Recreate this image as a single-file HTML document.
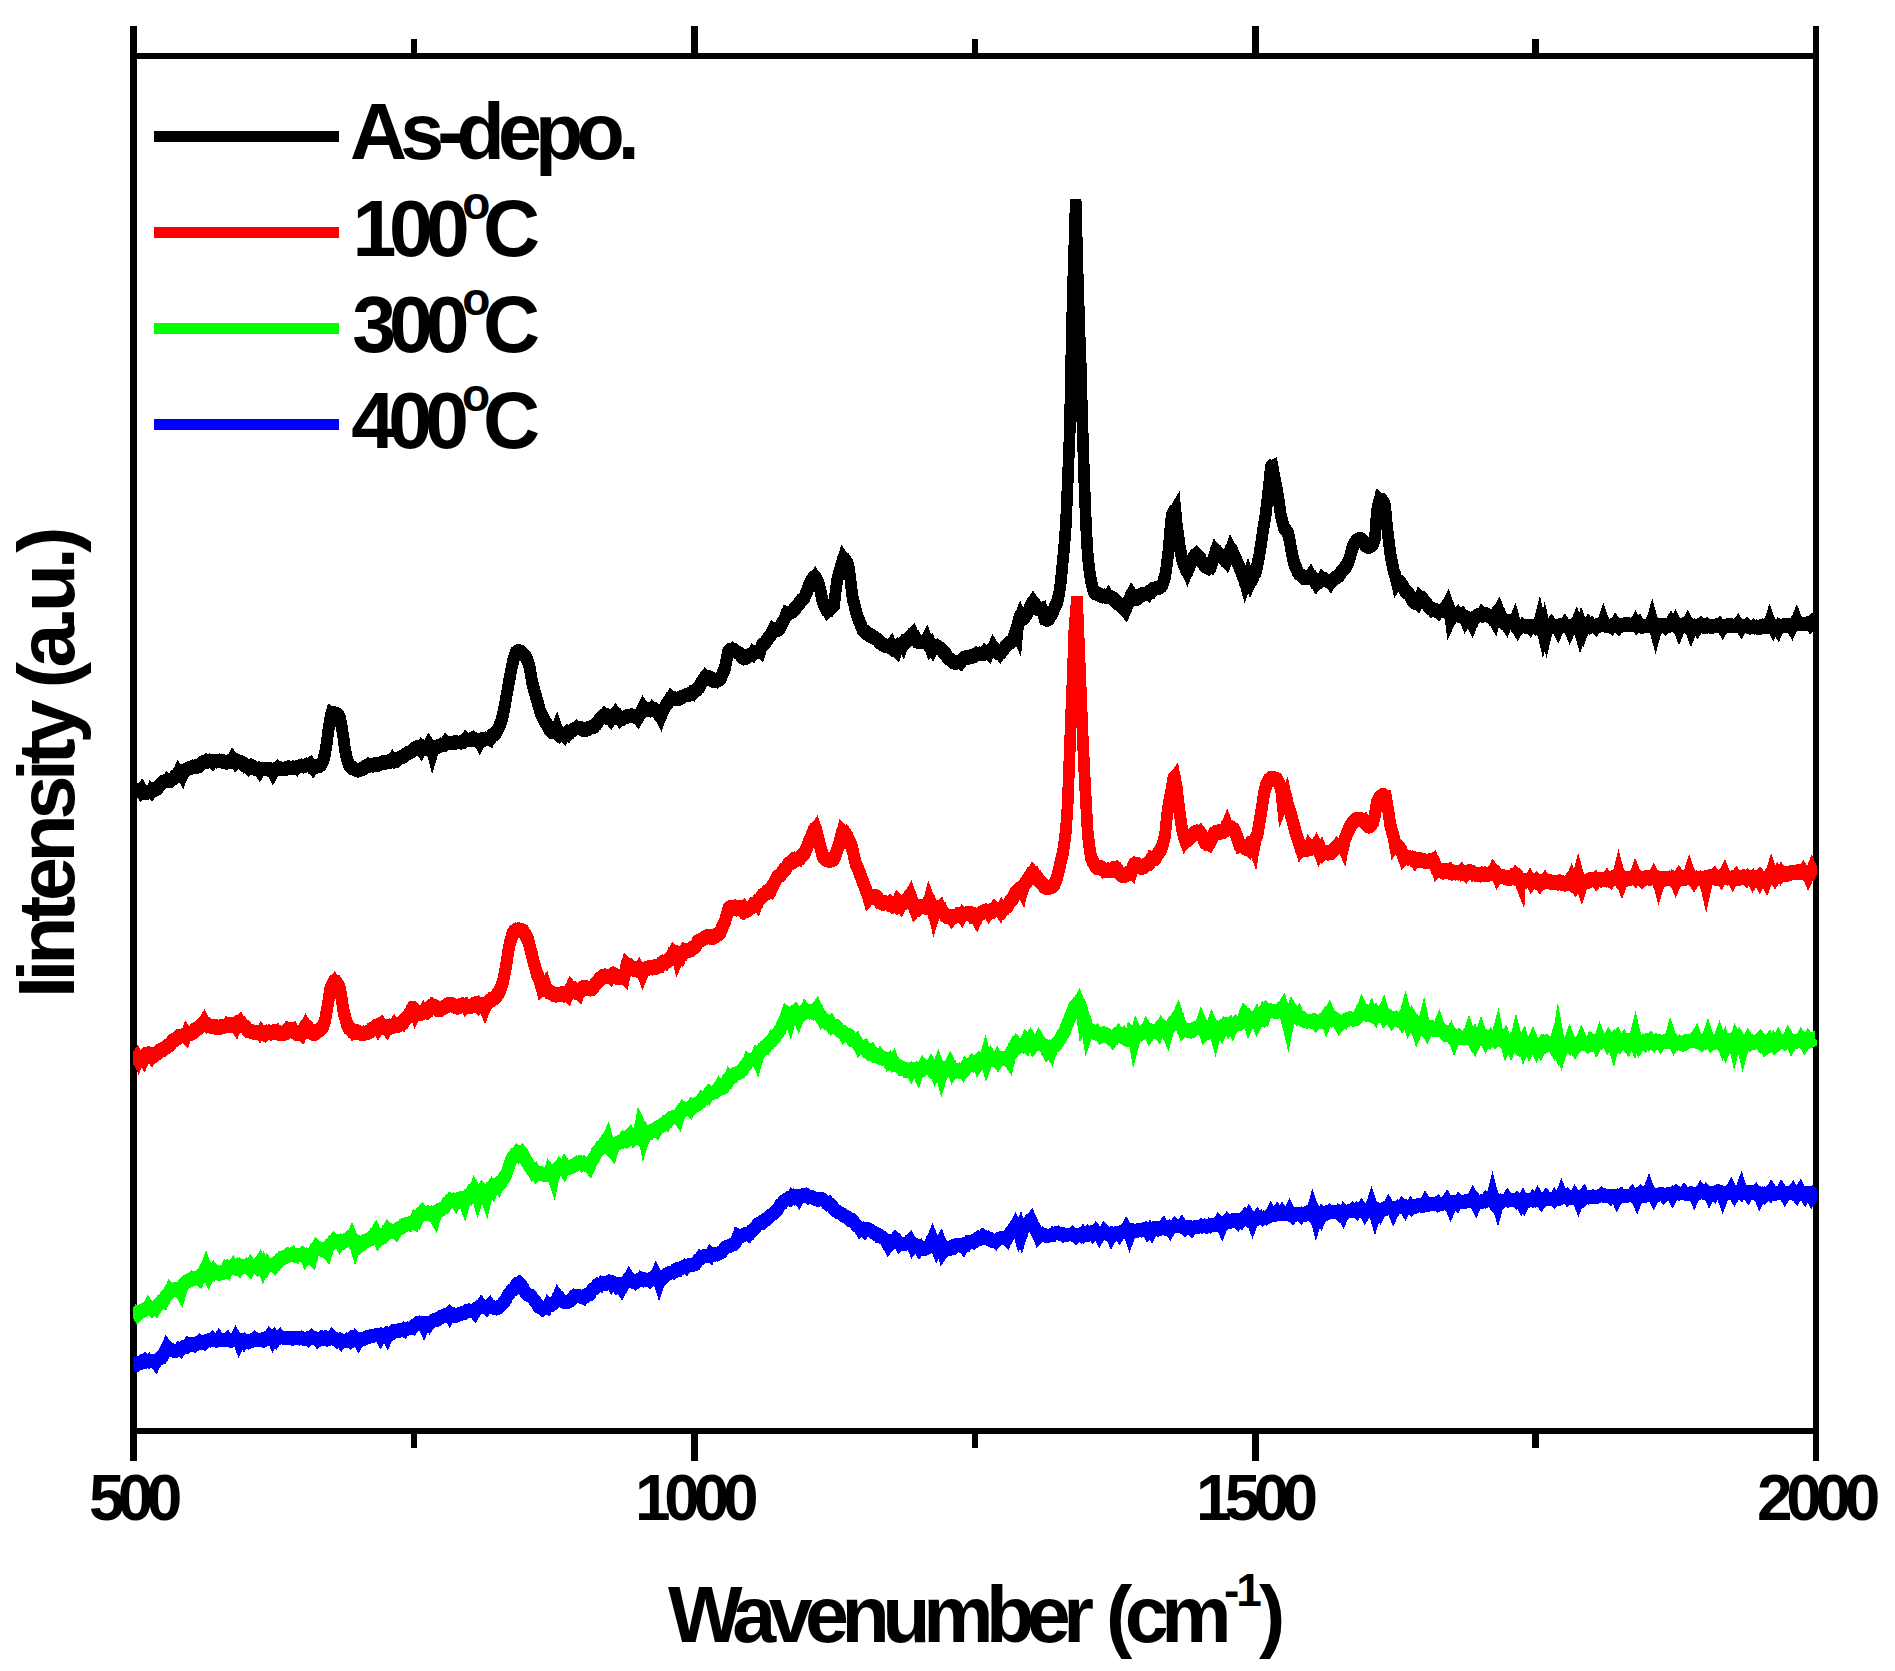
<!DOCTYPE html>
<html><head><meta charset="utf-8"><title>Raman spectra</title>
<style>html,body{margin:0;padding:0;background:#fff;}svg{display:block;}</style></head>
<body><svg width="1895" height="1671" viewBox="0 0 1895 1671">
<rect width="1895" height="1671" fill="#fff"/>
<g shape-rendering="crispEdges" fill="#000">
<rect x="130" y="26" width="7" height="1435"/>
<rect x="1813" y="26" width="6" height="1435"/>
<rect x="130" y="53" width="1689" height="6"/>
<rect x="130" y="1428" width="1689" height="6"/>
<rect x="691.1" y="26" width="6.5" height="30"/>
<rect x="691.1" y="1431" width="6.5" height="30"/>
<rect x="1252.0" y="26" width="6.5" height="30"/>
<rect x="1252.0" y="1431" width="6.5" height="30"/>
<rect x="410.7" y="39" width="6.5" height="17"/>
<rect x="410.7" y="1431" width="6.5" height="17"/>
<rect x="971.6" y="39" width="6.5" height="17"/>
<rect x="971.6" y="1431" width="6.5" height="17"/>
<rect x="1532.4" y="39" width="6.5" height="17"/>
<rect x="1532.4" y="1431" width="6.5" height="17"/>
</g>
<clipPath id="plotclip"><rect x="133" y="0" width="1684" height="1671"/></clipPath>
<g fill="none" stroke-width="11.5" stroke-linecap="butt" shape-rendering="crispEdges" clip-path="url(#plotclip)">
<g stroke="#000000">
<path stroke-linejoin="bevel" transform="translate(0,-1.5)" d="M133.5,790.2 135.2,790.2 136.9,790.3 138.5,790.0 140.2,792.2 141.9,789.4 143.6,792.5 145.3,793.6 146.9,792.6 148.6,791.7 150.3,792.9 152.0,789.0 153.7,790.2 155.3,789.6 157.0,789.2 158.7,785.7 160.4,784.8 162.1,782.5 163.7,781.6 165.4,781.7 167.1,779.6 168.8,781.4 170.5,780.7 172.1,779.2 173.8,778.3 175.5,775.7 177.2,775.1 178.9,771.1 180.5,773.1 182.2,775.9 183.9,771.3 185.6,770.2 187.3,769.1 188.9,768.3 190.6,767.7 192.3,767.7 194.0,765.9 195.7,766.5 197.3,767.2 199.0,765.6 200.7,764.0 202.4,762.6 204.1,762.1 205.7,762.6 207.4,760.1 209.1,760.9 210.8,761.1 212.5,762.8 214.1,760.6 215.8,761.3 217.5,761.2 219.2,760.9 220.9,760.4 222.5,761.4 224.2,761.8 225.9,762.4 227.6,762.3 229.3,762.1 230.9,760.9 232.6,758.0 234.3,760.5 236.0,763.3 237.7,761.5 239.3,761.4 241.0,762.5 242.7,762.8 244.4,765.0 246.1,766.4 247.7,768.1 249.4,765.3 251.1,765.6 252.8,767.0 254.5,768.1 256.1,769.2 257.8,768.8 259.5,771.4 261.2,768.4 262.9,769.1 264.5,768.3 266.2,769.1 267.9,768.7 269.6,769.3 271.3,770.1 272.9,773.3 274.6,770.1 276.3,769.6 278.0,767.3 279.7,768.8 281.3,768.3 283.0,769.1 284.7,769.2 286.4,768.2 288.1,767.6 289.7,767.4 291.4,768.4 293.1,767.8 294.8,767.2 296.5,768.5 298.1,766.3 299.8,766.8 301.5,765.4 303.2,766.7 304.9,765.5 306.5,765.4 308.2,764.7 309.9,763.4 311.6,766.5 313.3,768.9 314.9,766.9 316.6,766.6 318.3,765.7 320.8,765.5 323.3,760.5 325.0,753.6 326.7,743.7 328.4,730.2 330.1,719.8 331.8,712.3 333.4,713.2 335.1,713.8 336.8,713.9 338.5,715.4 340.1,718.4 341.8,727.7 343.5,737.9 345.2,750.8 346.9,758.6 349.5,766.3 351.9,767.2 353.6,769.2 355.3,769.2 358.0,771.1 360.3,769.3 362.0,769.1 363.7,768.4 365.3,766.3 367.0,766.7 368.7,764.7 370.4,766.3 372.1,765.2 373.7,764.7 375.4,764.4 377.1,764.8 378.8,764.2 380.5,763.5 382.1,762.6 383.8,762.1 385.5,762.5 387.2,762.0 388.9,762.2 390.5,761.1 392.2,758.9 393.9,761.4 395.6,761.8 397.3,759.5 398.9,758.3 400.6,757.5 402.3,756.7 404.0,756.0 405.7,754.1 407.3,753.8 409.0,752.5 410.7,752.2 412.4,750.4 414.1,749.7 415.7,747.9 417.1,746.9 419.1,747.5 420.8,750.0 422.5,746.4 424.1,747.9 425.8,748.9 427.5,748.2 429.2,744.3 430.9,746.9 432.5,753.0 434.2,747.3 435.9,746.6 437.6,747.5 439.3,746.0 440.9,744.6 442.6,745.7 444.3,745.0 446.0,742.0 447.7,743.9 449.3,742.8 451.0,743.6 452.7,743.0 454.4,742.7 456.1,742.1 457.7,743.0 459.4,742.0 461.1,743.2 462.8,742.0 464.5,741.2 466.1,738.6 467.8,740.4 469.5,739.9 471.2,739.4 472.9,737.9 474.5,739.6 476.2,741.0 477.9,740.1 479.6,743.1 481.3,739.9 482.9,739.0 484.6,739.8 486.3,738.0 488.0,738.9 489.7,740.0 491.3,736.5 493.0,734.2 494.7,734.7 496.4,731.8 498.1,729.0 499.7,725.5 501.4,720.8 503.1,714.3 504.8,705.3 506.5,696.0 508.1,686.9 509.8,677.5 511.5,668.4 513.2,660.4 514.9,655.2 516.0,652.0 518.2,651.5 520.2,651.1 521.6,652.3 523.3,654.0 524.9,656.0 526.6,658.4 528.3,662.7 530.0,668.9 531.7,679.9 533.3,686.8 535.0,692.9 536.7,699.0 538.4,704.8 540.1,711.5 541.7,715.1 543.4,718.5 545.1,722.0 546.8,724.2 548.5,727.6 550.6,731.3 551.8,731.9 553.5,731.7 555.2,733.2 556.9,728.5 558.5,733.4 560.2,735.6 561.9,734.0 564.1,736.4 565.3,734.1 566.9,732.2 568.6,734.1 570.3,731.8 572.0,730.8 573.7,729.2 575.3,729.2 577.0,727.0 578.7,728.3 580.4,728.1 582.1,729.0 583.7,730.5 585.4,729.9 587.1,729.2 588.8,728.6 590.5,727.0 592.1,727.7 593.8,726.8 595.5,724.7 597.2,723.3 598.9,720.4 600.5,718.5 602.2,717.1 604.6,714.0 607.3,716.7 608.9,718.2 610.6,720.2 612.3,717.2 614.0,715.0 615.6,712.8 617.3,715.1 619.0,717.3 620.7,720.3 622.4,718.7 624.1,716.8 625.7,717.1 627.4,716.4 629.1,716.1 630.8,715.9 632.5,715.3 634.1,716.1 635.8,716.9 637.6,719.0 639.2,715.6 640.9,713.1 643.5,706.8 645.9,710.3 647.6,709.1 649.3,710.2 650.9,710.3 652.6,707.8 654.5,709.4 656.0,710.7 657.7,712.1 660.4,717.4 662.7,710.4 664.4,708.2 666.1,704.9 667.7,703.3 669.4,700.1 671.3,696.6 672.8,698.0 674.5,699.0 676.1,698.8 678.1,699.3 679.5,698.3 681.2,697.6 682.9,696.1 684.5,696.3 686.2,694.4 687.9,695.1 689.6,694.8 691.3,692.6 692.9,693.7 694.6,691.0 696.3,690.4 698.0,688.2 699.7,686.9 701.3,682.9 703.0,680.6 704.7,677.8 706.0,675.6 708.1,677.1 709.7,676.9 711.4,679.2 713.6,681.5 714.8,680.9 716.5,681.7 718.1,679.7 720.3,679.0 721.5,676.2 723.2,672.3 724.9,668.3 726.5,660.2 727.9,652.0 729.9,650.3 732.1,648.6 733.3,649.7 734.9,650.5 736.6,652.7 738.3,652.6 740.0,654.3 741.7,656.5 744.0,658.7 746.7,657.2 748.4,655.9 750.1,655.1 751.7,655.7 753.4,652.1 755.1,653.4 756.8,652.0 758.5,650.1 760.1,651.6 761.8,644.9 763.5,644.3 765.2,642.4 766.9,640.5 768.5,637.6 770.2,636.0 771.9,632.9 773.6,628.7 775.3,629.9 776.9,630.0 779.6,628.6 782.0,623.5 783.7,620.7 785.3,617.2 787.0,612.4 788.7,613.3 790.4,612.3 792.1,612.3 793.7,609.9 795.4,608.1 797.1,606.2 798.8,603.7 800.5,602.0 802.1,599.0 803.8,598.7 805.5,594.9 807.2,590.9 808.9,585.7 810.5,582.6 812.2,579.4 814.7,576.3 817.3,581.0 818.9,584.8 820.6,591.4 822.3,600.0 824.0,604.5 825.7,607.9 827.7,611.7 829.0,610.4 830.7,607.0 832.4,606.3 834.1,605.4 835.7,590.9 837.4,578.6 839.1,573.4 840.8,567.3 843.5,557.7 845.8,561.0 847.5,563.5 849.2,569.6 850.9,584.0 852.5,597.4 854.2,604.0 855.9,611.3 857.6,617.1 859.3,620.9 860.9,625.2 862.6,629.8 864.3,630.7 866.0,632.6 867.7,634.4 869.3,634.8 871.0,635.1 872.7,637.3 874.4,637.8 876.1,638.8 877.7,639.7 879.4,642.4 881.1,643.1 882.8,644.5 884.5,645.5 886.1,645.7 887.8,647.1 889.5,646.3 891.2,644.0 893.5,648.9 896.2,651.7 897.9,645.5 899.6,644.7 901.3,643.1 902.9,645.9 904.6,641.5 906.3,642.1 908.0,638.9 909.7,638.3 911.3,635.6 913.0,633.5 914.7,637.2 917.2,642.1 919.7,641.9 921.4,642.8 923.1,641.5 924.8,642.3 926.5,638.9 928.1,643.4 929.8,647.7 931.5,644.9 933.2,648.7 934.9,645.1 936.5,645.8 938.2,647.8 939.9,648.6 941.6,649.2 943.3,651.9 944.9,653.2 946.6,655.3 948.3,659.1 950.0,659.3 951.7,660.9 954.3,663.2 956.7,662.0 958.4,662.0 960.1,663.2 961.7,660.3 963.4,658.1 965.1,657.4 966.8,657.7 968.5,657.7 970.1,656.3 971.8,656.4 973.5,656.4 975.2,655.3 976.9,653.0 978.5,653.8 980.2,654.6 981.9,653.5 983.6,654.1 985.3,651.2 986.9,652.4 988.6,654.0 990.3,650.0 992.0,649.5 993.2,646.7 995.3,650.4 997.0,651.8 998.7,653.0 999.9,654.4 1002.1,651.2 1003.7,649.3 1005.4,646.6 1007.1,645.1 1008.8,642.9 1010.5,642.1 1012.1,641.2 1013.8,637.4 1015.5,631.1 1017.2,634.8 1018.5,620.2 1020.5,615.1 1022.2,618.8 1023.9,618.3 1025.6,615.6 1027.3,613.4 1028.9,610.4 1030.6,606.2 1033.2,601.5 1035.7,605.5 1037.8,609.1 1039.0,608.7 1041.7,607.7 1045.0,619.6 1048.3,619.6 1050.8,615.6 1052.5,613.3 1054.1,608.5 1055.8,605.0 1057.5,601.3 1059.2,592.9 1060.9,581.0 1062.5,564.2 1064.2,547.0 1065.9,524.6 1067.6,484.7 1069.8,430.0 1069.8,430.0 1070.9,372.2 1072.6,299.4 1074.3,245.4 1075.7,200.4 1077.7,272.7 1079.3,325.4 1081.0,370.8 1082.5,430.0 1082.6,430.0 1084.4,485.2 1086.1,526.7 1087.7,554.4 1089.4,570.2 1091.1,581.5 1093.7,591.9 1096.1,593.6 1097.8,593.2 1099.5,595.0 1101.2,595.9 1102.9,595.2 1104.5,597.1 1106.2,596.6 1107.9,594.7 1109.6,597.4 1112.2,597.2 1114.6,600.3 1116.3,601.3 1118.0,604.2 1119.7,604.6 1121.3,606.6 1123.0,607.6 1125.3,610.8 1128.1,603.1 1129.7,598.5 1131.9,593.7 1133.1,595.5 1134.5,599.8 1136.5,598.9 1138.1,598.2 1139.8,595.8 1141.5,594.4 1143.2,594.3 1144.9,594.5 1146.5,592.9 1148.2,594.4 1149.9,591.5 1151.6,592.1 1153.3,588.6 1154.9,589.0 1156.6,588.0 1158.3,587.8 1160.0,587.0 1162.2,585.4 1163.3,581.8 1165.0,576.4 1166.7,565.8 1168.4,551.9 1170.1,531.1 1171.7,515.3 1173.4,512.7 1175.4,509.3 1176.8,525.3 1178.5,537.2 1180.1,549.2 1181.8,557.8 1183.5,563.7 1185.2,567.5 1187.2,572.0 1188.5,568.7 1190.2,564.6 1191.9,561.0 1193.6,557.6 1195.3,555.1 1196.4,553.8 1198.6,556.8 1200.3,558.2 1202.0,562.1 1203.7,564.3 1205.1,566.8 1207.0,566.9 1208.7,568.3 1210.1,568.5 1212.1,563.0 1213.7,558.2 1216.0,550.4 1218.8,553.9 1220.5,556.0 1222.1,555.7 1223.8,558.6 1226.2,561.7 1228.9,554.0 1230.9,548.5 1232.2,551.1 1233.9,555.0 1235.6,558.2 1237.3,562.5 1238.9,565.8 1240.6,569.9 1242.3,574.6 1244.0,578.7 1245.3,583.6 1248.1,575.2 1250.7,582.6 1252.4,578.9 1254.1,574.7 1255.7,572.3 1257.4,564.5 1259.1,556.6 1260.8,545.7 1262.5,533.9 1264.1,523.7 1265.8,513.4 1267.5,498.6 1269.2,483.4 1271.0,466.3 1272.4,465.6 1274.2,476.2 1275.9,485.1 1277.6,493.7 1279.3,504.5 1280.9,515.9 1282.6,522.4 1284.3,528.6 1286.0,530.3 1287.7,532.5 1289.3,538.4 1291.0,548.2 1292.7,557.2 1294.4,563.9 1296.1,567.9 1297.7,571.6 1299.4,574.7 1301.1,574.8 1302.8,577.0 1304.7,578.6 1306.1,577.8 1307.8,577.0 1309.5,575.9 1310.6,574.3 1312.9,578.4 1314.5,580.8 1316.5,584.4 1317.9,582.6 1319.6,579.9 1321.3,579.6 1322.4,577.5 1324.6,579.6 1326.3,580.5 1328.0,581.0 1330.0,583.3 1331.3,580.9 1333.0,579.8 1334.7,578.2 1336.4,577.1 1338.1,576.5 1339.7,574.9 1341.4,571.3 1343.1,570.3 1344.8,567.6 1346.5,566.0 1348.1,562.5 1349.8,557.7 1351.5,551.1 1353.2,545.9 1354.9,543.0 1357.0,539.8 1358.2,539.7 1359.9,539.3 1362.1,539.8 1363.3,541.2 1364.9,544.3 1366.3,546.5 1368.3,546.5 1370.6,546.5 1371.7,545.1 1373.3,543.5 1375.0,537.5 1376.7,513.2 1378.4,504.8 1379.8,498.5 1381.7,500.0 1383.4,502.3 1385.1,506.3 1386.8,524.3 1388.5,539.0 1390.1,551.6 1391.8,561.7 1393.5,570.3 1395.2,575.1 1396.9,583.0 1398.5,580.4 1400.2,581.8 1401.9,584.8 1403.6,587.4 1405.3,591.1 1406.9,592.8 1408.6,593.4 1410.3,596.6 1412.0,599.6 1413.7,602.1 1415.3,602.5 1417.0,603.9 1418.7,599.2 1420.0,596.2 1422.1,598.3 1423.7,600.5 1425.4,603.0 1427.1,604.2 1428.8,607.7 1430.5,608.1 1432.1,610.4 1433.8,609.2 1435.5,610.6 1437.2,610.3 1438.9,612.5 1440.5,610.6 1443.2,610.7 1445.6,608.0 1447.7,603.7 1448.9,607.4 1450.6,619.9 1453.3,614.1 1455.7,614.8 1457.3,613.2 1459.0,616.0 1460.7,616.2 1462.4,614.3 1464.1,616.8 1465.7,620.9 1467.4,618.1 1469.1,618.4 1471.9,624.1 1474.1,618.1 1475.8,617.0 1477.5,615.5 1479.2,614.7 1480.9,615.7 1482.5,612.8 1484.2,614.5 1485.4,614.1 1487.6,615.1 1489.3,616.5 1490.9,617.2 1492.1,617.4 1494.3,621.3 1496.0,614.4 1498.5,610.0 1501.0,617.0 1502.7,619.8 1504.0,622.5 1506.1,625.5 1507.7,621.2 1509.0,620.8 1511.1,622.2 1512.8,624.2 1514.5,620.2 1516.1,626.1 1517.8,629.4 1519.5,626.4 1521.2,627.0 1522.9,624.9 1524.5,626.3 1526.2,626.5 1527.9,626.4 1529.6,625.8 1531.3,628.4 1532.9,626.7 1534.6,628.0 1536.3,625.8 1538.0,626.1 1539.7,619.5 1541.3,626.1 1543.0,633.4 1544.7,626.3 1546.4,633.3 1548.1,626.0 1549.7,626.0 1551.4,623.6 1553.1,626.1 1554.8,626.8 1556.5,625.9 1558.1,629.5 1559.8,625.5 1561.5,625.7 1563.2,626.0 1564.9,623.5 1566.5,625.8 1568.2,625.6 1569.9,630.0 1571.6,626.0 1573.3,625.8 1574.9,625.8 1576.6,621.7 1578.3,626.1 1580.0,632.2 1581.7,625.9 1583.3,630.6 1585.0,626.0 1586.7,626.3 1588.4,623.6 1590.1,626.0 1591.7,624.3 1593.4,626.4 1595.1,628.0 1596.8,624.9 1598.5,624.7 1600.1,625.4 1601.8,625.9 1603.5,620.6 1605.2,625.4 1606.9,625.5 1608.5,626.5 1610.2,626.1 1611.9,627.6 1613.6,625.6 1615.3,622.9 1616.9,625.4 1618.6,627.4 1620.3,624.9 1622.0,625.3 1623.7,625.6 1625.3,623.6 1627.0,624.5 1628.7,624.6 1630.4,625.3 1632.1,624.8 1633.7,625.2 1635.4,622.2 1637.1,625.5 1638.8,623.5 1640.5,626.9 1642.1,626.7 1643.8,625.4 1645.5,626.0 1647.2,626.0 1648.9,624.7 1650.5,625.6 1652.2,619.6 1653.9,625.7 1655.6,632.0 1657.3,625.7 1658.9,625.8 1660.6,625.0 1662.3,625.4 1664.0,625.3 1665.7,627.5 1667.3,626.0 1669.0,625.5 1670.7,622.4 1672.4,625.7 1674.1,625.1 1675.7,621.9 1677.4,625.3 1679.1,629.7 1680.8,625.5 1682.5,624.3 1684.1,626.3 1685.8,625.4 1687.5,622.2 1689.2,625.9 1690.9,630.6 1692.5,626.0 1694.2,625.8 1695.9,625.6 1697.6,628.4 1699.3,625.6 1700.9,623.8 1702.6,625.7 1704.3,627.0 1706.0,626.9 1707.7,624.8 1709.3,626.2 1711.0,626.6 1712.7,626.5 1714.4,625.6 1716.1,626.1 1717.7,625.7 1719.4,624.0 1721.1,626.1 1722.8,628.9 1724.5,626.2 1726.1,626.4 1727.8,624.9 1729.5,625.6 1731.2,625.6 1732.9,625.0 1734.5,626.4 1736.2,625.8 1737.9,623.5 1739.6,626.3 1741.3,628.7 1742.9,626.1 1744.6,626.0 1746.3,624.7 1748.0,627.2 1749.7,627.3 1751.3,627.3 1753.0,625.9 1754.7,627.5 1756.4,626.3 1758.1,627.5 1759.7,628.4 1761.4,626.7 1763.1,625.2 1764.8,626.2 1766.5,627.0 1768.1,626.6 1769.8,621.3 1771.5,626.0 1773.2,629.1 1774.9,625.9 1776.5,625.9 1778.2,629.2 1779.9,625.3 1781.6,626.3 1783.3,625.5 1784.9,625.5 1786.6,626.0 1788.3,624.9 1790.0,624.8 1791.7,627.8 1793.3,624.0 1795.0,623.9 1796.7,619.7 1798.4,624.1 1800.1,623.5 1801.7,624.4 1803.4,623.2 1805.1,624.2 1806.8,624.1 1808.5,623.3 1810.1,621.9 1811.8,625.6 1813.5,624.4 1815.2,624.4"/>
<path stroke-linejoin="bevel" transform="translate(0,1.5)" d="M133.5,790.2 135.2,790.2 136.9,790.3 138.5,790.0 140.2,792.2 141.9,789.4 143.6,792.5 145.3,793.6 146.9,792.6 148.6,791.7 150.3,792.9 152.0,789.0 153.7,790.2 155.3,789.6 157.0,789.2 158.7,785.7 160.4,784.8 162.1,782.5 163.7,781.6 165.4,781.7 167.1,779.6 168.8,781.4 170.5,780.7 172.1,779.2 173.8,778.3 175.5,775.7 177.2,775.1 178.9,771.1 180.5,773.1 182.2,775.9 183.9,771.3 185.6,770.2 187.3,769.1 188.9,768.3 190.6,767.7 192.3,767.7 194.0,765.9 195.7,766.5 197.3,767.2 199.0,765.6 200.7,764.0 202.4,762.6 204.1,762.1 205.7,762.6 207.4,760.1 209.1,760.9 210.8,761.1 212.5,762.8 214.1,760.6 215.8,761.3 217.5,761.2 219.2,760.9 220.9,760.4 222.5,761.4 224.2,761.8 225.9,762.4 227.6,762.3 229.3,762.1 230.9,760.9 232.6,758.0 234.3,760.5 236.0,763.3 237.7,761.5 239.3,761.4 241.0,762.5 242.7,762.8 244.4,765.0 246.1,766.4 247.7,768.1 249.4,765.3 251.1,765.6 252.8,767.0 254.5,768.1 256.1,769.2 257.8,768.8 259.5,771.4 261.2,768.4 262.9,769.1 264.5,768.3 266.2,769.1 267.9,768.7 269.6,769.3 271.3,770.1 272.9,773.3 274.6,770.1 276.3,769.6 278.0,767.3 279.7,768.8 281.3,768.3 283.0,769.1 284.7,769.2 286.4,768.2 288.1,767.6 289.7,767.4 291.4,768.4 293.1,767.8 294.8,767.2 296.5,768.5 298.1,766.3 299.8,766.8 301.5,765.4 303.2,766.7 304.9,765.5 306.5,765.4 308.2,764.7 309.9,763.4 311.6,766.5 313.3,768.9 314.9,766.9 316.6,766.6 318.3,765.7 320.8,765.5 323.3,760.5 325.0,753.6 326.7,743.7 328.4,730.2 330.1,719.8 331.8,712.3 333.4,713.2 335.1,713.8 336.8,713.9 338.5,715.4 340.1,718.4 341.8,727.7 343.5,737.9 345.2,750.8 346.9,758.6 349.5,766.3 351.9,767.2 353.6,769.2 355.3,769.2 358.0,771.1 360.3,769.3 362.0,769.1 363.7,768.4 365.3,766.3 367.0,766.7 368.7,764.7 370.4,766.3 372.1,765.2 373.7,764.7 375.4,764.4 377.1,764.8 378.8,764.2 380.5,763.5 382.1,762.6 383.8,762.1 385.5,762.5 387.2,762.0 388.9,762.2 390.5,761.1 392.2,758.9 393.9,761.4 395.6,761.8 397.3,759.5 398.9,758.3 400.6,757.5 402.3,756.7 404.0,756.0 405.7,754.1 407.3,753.8 409.0,752.5 410.7,752.2 412.4,750.4 414.1,749.7 415.7,747.9 417.1,746.9 419.1,747.5 420.8,750.0 422.5,746.4 424.1,747.9 425.8,748.9 427.5,748.2 429.2,744.3 430.9,746.9 432.5,753.0 434.2,747.3 435.9,746.6 437.6,747.5 439.3,746.0 440.9,744.6 442.6,745.7 444.3,745.0 446.0,742.0 447.7,743.9 449.3,742.8 451.0,743.6 452.7,743.0 454.4,742.7 456.1,742.1 457.7,743.0 459.4,742.0 461.1,743.2 462.8,742.0 464.5,741.2 466.1,738.6 467.8,740.4 469.5,739.9 471.2,739.4 472.9,737.9 474.5,739.6 476.2,741.0 477.9,740.1 479.6,743.1 481.3,739.9 482.9,739.0 484.6,739.8 486.3,738.0 488.0,738.9 489.7,740.0 491.3,736.5 493.0,734.2 494.7,734.7 496.4,731.8 498.1,729.0 499.7,725.5 501.4,720.8 503.1,714.3 504.8,705.3 506.5,696.0 508.1,686.9 509.8,677.5 511.5,668.4 513.2,660.4 514.9,655.2 516.0,652.0 518.2,651.5 520.2,651.1 521.6,652.3 523.3,654.0 524.9,656.0 526.6,658.4 528.3,662.7 530.0,668.9 531.7,679.9 533.3,686.8 535.0,692.9 536.7,699.0 538.4,704.8 540.1,711.5 541.7,715.1 543.4,718.5 545.1,722.0 546.8,724.2 548.5,727.6 550.6,731.3 551.8,731.9 553.5,731.7 555.2,733.2 556.9,728.5 558.5,733.4 560.2,735.6 561.9,734.0 564.1,736.4 565.3,734.1 566.9,732.2 568.6,734.1 570.3,731.8 572.0,730.8 573.7,729.2 575.3,729.2 577.0,727.0 578.7,728.3 580.4,728.1 582.1,729.0 583.7,730.5 585.4,729.9 587.1,729.2 588.8,728.6 590.5,727.0 592.1,727.7 593.8,726.8 595.5,724.7 597.2,723.3 598.9,720.4 600.5,718.5 602.2,717.1 604.6,714.0 607.3,716.7 608.9,718.2 610.6,720.2 612.3,717.2 614.0,715.0 615.6,712.8 617.3,715.1 619.0,717.3 620.7,720.3 622.4,718.7 624.1,716.8 625.7,717.1 627.4,716.4 629.1,716.1 630.8,715.9 632.5,715.3 634.1,716.1 635.8,716.9 637.6,719.0 639.2,715.6 640.9,713.1 643.5,706.8 645.9,710.3 647.6,709.1 649.3,710.2 650.9,710.3 652.6,707.8 654.5,709.4 656.0,710.7 657.7,712.1 660.4,717.4 662.7,710.4 664.4,708.2 666.1,704.9 667.7,703.3 669.4,700.1 671.3,696.6 672.8,698.0 674.5,699.0 676.1,698.8 678.1,699.3 679.5,698.3 681.2,697.6 682.9,696.1 684.5,696.3 686.2,694.4 687.9,695.1 689.6,694.8 691.3,692.6 692.9,693.7 694.6,691.0 696.3,690.4 698.0,688.2 699.7,686.9 701.3,682.9 703.0,680.6 704.7,677.8 706.0,675.6 708.1,677.1 709.7,676.9 711.4,679.2 713.6,681.5 714.8,680.9 716.5,681.7 718.1,679.7 720.3,679.0 721.5,676.2 723.2,672.3 724.9,668.3 726.5,660.2 727.9,652.0 729.9,650.3 732.1,648.6 733.3,649.7 734.9,650.5 736.6,652.7 738.3,652.6 740.0,654.3 741.7,656.5 744.0,658.7 746.7,657.2 748.4,655.9 750.1,655.1 751.7,655.7 753.4,652.1 755.1,653.4 756.8,652.0 758.5,650.1 760.1,651.6 761.8,644.9 763.5,644.3 765.2,642.4 766.9,640.5 768.5,637.6 770.2,636.0 771.9,632.9 773.6,628.7 775.3,629.9 776.9,630.0 779.6,628.6 782.0,623.5 783.7,620.7 785.3,617.2 787.0,612.4 788.7,613.3 790.4,612.3 792.1,612.3 793.7,609.9 795.4,608.1 797.1,606.2 798.8,603.7 800.5,602.0 802.1,599.0 803.8,598.7 805.5,594.9 807.2,590.9 808.9,585.7 810.5,582.6 812.2,579.4 814.7,576.3 817.3,581.0 818.9,584.8 820.6,591.4 822.3,600.0 824.0,604.5 825.7,607.9 827.7,611.7 829.0,610.4 830.7,607.0 832.4,606.3 834.1,605.4 835.7,590.9 837.4,578.6 839.1,573.4 840.8,567.3 843.5,557.7 845.8,561.0 847.5,563.5 849.2,569.6 850.9,584.0 852.5,597.4 854.2,604.0 855.9,611.3 857.6,617.1 859.3,620.9 860.9,625.2 862.6,629.8 864.3,630.7 866.0,632.6 867.7,634.4 869.3,634.8 871.0,635.1 872.7,637.3 874.4,637.8 876.1,638.8 877.7,639.7 879.4,642.4 881.1,643.1 882.8,644.5 884.5,645.5 886.1,645.7 887.8,647.1 889.5,646.3 891.2,644.0 893.5,648.9 896.2,651.7 897.9,645.5 899.6,644.7 901.3,643.1 902.9,645.9 904.6,641.5 906.3,642.1 908.0,638.9 909.7,638.3 911.3,635.6 913.0,633.5 914.7,637.2 917.2,642.1 919.7,641.9 921.4,642.8 923.1,641.5 924.8,642.3 926.5,638.9 928.1,643.4 929.8,647.7 931.5,644.9 933.2,648.7 934.9,645.1 936.5,645.8 938.2,647.8 939.9,648.6 941.6,649.2 943.3,651.9 944.9,653.2 946.6,655.3 948.3,659.1 950.0,659.3 951.7,660.9 954.3,663.2 956.7,662.0 958.4,662.0 960.1,663.2 961.7,660.3 963.4,658.1 965.1,657.4 966.8,657.7 968.5,657.7 970.1,656.3 971.8,656.4 973.5,656.4 975.2,655.3 976.9,653.0 978.5,653.8 980.2,654.6 981.9,653.5 983.6,654.1 985.3,651.2 986.9,652.4 988.6,654.0 990.3,650.0 992.0,649.5 993.2,646.7 995.3,650.4 997.0,651.8 998.7,653.0 999.9,654.4 1002.1,651.2 1003.7,649.3 1005.4,646.6 1007.1,645.1 1008.8,642.9 1010.5,642.1 1012.1,641.2 1013.8,637.4 1015.5,631.1 1017.2,634.8 1018.5,620.2 1020.5,615.1 1022.2,618.8 1023.9,618.3 1025.6,615.6 1027.3,613.4 1028.9,610.4 1030.6,606.2 1033.2,601.5 1035.7,605.5 1037.8,609.1 1039.0,608.7 1041.7,607.7 1045.0,619.6 1048.3,619.6 1050.8,615.6 1052.5,613.3 1054.1,608.5 1055.8,605.0 1057.5,601.3 1059.2,592.9 1060.9,581.0 1062.5,564.2 1064.2,547.0 1065.9,524.6 1067.6,484.7 1069.8,430.0 1069.8,430.0 1070.9,372.2 1072.6,299.4 1074.3,245.4 1075.7,200.4 1077.7,272.7 1079.3,325.4 1081.0,370.8 1082.5,430.0 1082.6,430.0 1084.4,485.2 1086.1,526.7 1087.7,554.4 1089.4,570.2 1091.1,581.5 1093.7,591.9 1096.1,593.6 1097.8,593.2 1099.5,595.0 1101.2,595.9 1102.9,595.2 1104.5,597.1 1106.2,596.6 1107.9,594.7 1109.6,597.4 1112.2,597.2 1114.6,600.3 1116.3,601.3 1118.0,604.2 1119.7,604.6 1121.3,606.6 1123.0,607.6 1125.3,610.8 1128.1,603.1 1129.7,598.5 1131.9,593.7 1133.1,595.5 1134.5,599.8 1136.5,598.9 1138.1,598.2 1139.8,595.8 1141.5,594.4 1143.2,594.3 1144.9,594.5 1146.5,592.9 1148.2,594.4 1149.9,591.5 1151.6,592.1 1153.3,588.6 1154.9,589.0 1156.6,588.0 1158.3,587.8 1160.0,587.0 1162.2,585.4 1163.3,581.8 1165.0,576.4 1166.7,565.8 1168.4,551.9 1170.1,531.1 1171.7,515.3 1173.4,512.7 1175.4,509.3 1176.8,525.3 1178.5,537.2 1180.1,549.2 1181.8,557.8 1183.5,563.7 1185.2,567.5 1187.2,572.0 1188.5,568.7 1190.2,564.6 1191.9,561.0 1193.6,557.6 1195.3,555.1 1196.4,553.8 1198.6,556.8 1200.3,558.2 1202.0,562.1 1203.7,564.3 1205.1,566.8 1207.0,566.9 1208.7,568.3 1210.1,568.5 1212.1,563.0 1213.7,558.2 1216.0,550.4 1218.8,553.9 1220.5,556.0 1222.1,555.7 1223.8,558.6 1226.2,561.7 1228.9,554.0 1230.9,548.5 1232.2,551.1 1233.9,555.0 1235.6,558.2 1237.3,562.5 1238.9,565.8 1240.6,569.9 1242.3,574.6 1244.0,578.7 1245.3,583.6 1248.1,575.2 1250.7,582.6 1252.4,578.9 1254.1,574.7 1255.7,572.3 1257.4,564.5 1259.1,556.6 1260.8,545.7 1262.5,533.9 1264.1,523.7 1265.8,513.4 1267.5,498.6 1269.2,483.4 1271.0,466.3 1272.4,465.6 1274.2,476.2 1275.9,485.1 1277.6,493.7 1279.3,504.5 1280.9,515.9 1282.6,522.4 1284.3,528.6 1286.0,530.3 1287.7,532.5 1289.3,538.4 1291.0,548.2 1292.7,557.2 1294.4,563.9 1296.1,567.9 1297.7,571.6 1299.4,574.7 1301.1,574.8 1302.8,577.0 1304.7,578.6 1306.1,577.8 1307.8,577.0 1309.5,575.9 1310.6,574.3 1312.9,578.4 1314.5,580.8 1316.5,584.4 1317.9,582.6 1319.6,579.9 1321.3,579.6 1322.4,577.5 1324.6,579.6 1326.3,580.5 1328.0,581.0 1330.0,583.3 1331.3,580.9 1333.0,579.8 1334.7,578.2 1336.4,577.1 1338.1,576.5 1339.7,574.9 1341.4,571.3 1343.1,570.3 1344.8,567.6 1346.5,566.0 1348.1,562.5 1349.8,557.7 1351.5,551.1 1353.2,545.9 1354.9,543.0 1357.0,539.8 1358.2,539.7 1359.9,539.3 1362.1,539.8 1363.3,541.2 1364.9,544.3 1366.3,546.5 1368.3,546.5 1370.6,546.5 1371.7,545.1 1373.3,543.5 1375.0,537.5 1376.7,513.2 1378.4,504.8 1379.8,498.5 1381.7,500.0 1383.4,502.3 1385.1,506.3 1386.8,524.3 1388.5,539.0 1390.1,551.6 1391.8,561.7 1393.5,570.3 1395.2,575.1 1396.9,583.0 1398.5,580.4 1400.2,581.8 1401.9,584.8 1403.6,587.4 1405.3,591.1 1406.9,592.8 1408.6,593.4 1410.3,596.6 1412.0,599.6 1413.7,602.1 1415.3,602.5 1417.0,603.9 1418.7,599.2 1420.0,596.2 1422.1,598.3 1423.7,600.5 1425.4,603.0 1427.1,604.2 1428.8,607.7 1430.5,608.1 1432.1,610.4 1433.8,609.2 1435.5,610.6 1437.2,610.3 1438.9,612.5 1440.5,610.6 1443.2,610.7 1445.6,608.0 1447.7,603.7 1448.9,607.4 1450.6,619.9 1453.3,614.1 1455.7,614.8 1457.3,613.2 1459.0,616.0 1460.7,616.2 1462.4,614.3 1464.1,616.8 1465.7,620.9 1467.4,618.1 1469.1,618.4 1471.9,624.1 1474.1,618.1 1475.8,617.0 1477.5,615.5 1479.2,614.7 1480.9,615.7 1482.5,612.8 1484.2,614.5 1485.4,614.1 1487.6,615.1 1489.3,616.5 1490.9,617.2 1492.1,617.4 1494.3,621.3 1496.0,614.4 1498.5,610.0 1501.0,617.0 1502.7,619.8 1504.0,622.5 1506.1,625.5 1507.7,621.2 1509.0,620.8 1511.1,622.2 1512.8,624.2 1514.5,620.2 1516.1,626.1 1517.8,629.4 1519.5,626.4 1521.2,627.0 1522.9,624.9 1524.5,626.3 1526.2,626.5 1527.9,626.4 1529.6,625.8 1531.3,628.4 1532.9,626.7 1534.6,628.0 1536.3,625.8 1538.0,626.1 1539.7,619.5 1541.3,626.1 1543.0,633.4 1544.7,626.3 1546.4,633.3 1548.1,626.0 1549.7,626.0 1551.4,623.6 1553.1,626.1 1554.8,626.8 1556.5,625.9 1558.1,629.5 1559.8,625.5 1561.5,625.7 1563.2,626.0 1564.9,623.5 1566.5,625.8 1568.2,625.6 1569.9,630.0 1571.6,626.0 1573.3,625.8 1574.9,625.8 1576.6,621.7 1578.3,626.1 1580.0,632.2 1581.7,625.9 1583.3,630.6 1585.0,626.0 1586.7,626.3 1588.4,623.6 1590.1,626.0 1591.7,624.3 1593.4,626.4 1595.1,628.0 1596.8,624.9 1598.5,624.7 1600.1,625.4 1601.8,625.9 1603.5,620.6 1605.2,625.4 1606.9,625.5 1608.5,626.5 1610.2,626.1 1611.9,627.6 1613.6,625.6 1615.3,622.9 1616.9,625.4 1618.6,627.4 1620.3,624.9 1622.0,625.3 1623.7,625.6 1625.3,623.6 1627.0,624.5 1628.7,624.6 1630.4,625.3 1632.1,624.8 1633.7,625.2 1635.4,622.2 1637.1,625.5 1638.8,623.5 1640.5,626.9 1642.1,626.7 1643.8,625.4 1645.5,626.0 1647.2,626.0 1648.9,624.7 1650.5,625.6 1652.2,619.6 1653.9,625.7 1655.6,632.0 1657.3,625.7 1658.9,625.8 1660.6,625.0 1662.3,625.4 1664.0,625.3 1665.7,627.5 1667.3,626.0 1669.0,625.5 1670.7,622.4 1672.4,625.7 1674.1,625.1 1675.7,621.9 1677.4,625.3 1679.1,629.7 1680.8,625.5 1682.5,624.3 1684.1,626.3 1685.8,625.4 1687.5,622.2 1689.2,625.9 1690.9,630.6 1692.5,626.0 1694.2,625.8 1695.9,625.6 1697.6,628.4 1699.3,625.6 1700.9,623.8 1702.6,625.7 1704.3,627.0 1706.0,626.9 1707.7,624.8 1709.3,626.2 1711.0,626.6 1712.7,626.5 1714.4,625.6 1716.1,626.1 1717.7,625.7 1719.4,624.0 1721.1,626.1 1722.8,628.9 1724.5,626.2 1726.1,626.4 1727.8,624.9 1729.5,625.6 1731.2,625.6 1732.9,625.0 1734.5,626.4 1736.2,625.8 1737.9,623.5 1739.6,626.3 1741.3,628.7 1742.9,626.1 1744.6,626.0 1746.3,624.7 1748.0,627.2 1749.7,627.3 1751.3,627.3 1753.0,625.9 1754.7,627.5 1756.4,626.3 1758.1,627.5 1759.7,628.4 1761.4,626.7 1763.1,625.2 1764.8,626.2 1766.5,627.0 1768.1,626.6 1769.8,621.3 1771.5,626.0 1773.2,629.1 1774.9,625.9 1776.5,625.9 1778.2,629.2 1779.9,625.3 1781.6,626.3 1783.3,625.5 1784.9,625.5 1786.6,626.0 1788.3,624.9 1790.0,624.8 1791.7,627.8 1793.3,624.0 1795.0,623.9 1796.7,619.7 1798.4,624.1 1800.1,623.5 1801.7,624.4 1803.4,623.2 1805.1,624.2 1806.8,624.1 1808.5,623.3 1810.1,621.9 1811.8,625.6 1813.5,624.4 1815.2,624.4"/>
<path stroke-linejoin="miter" stroke-miterlimit="10" d="M133.5,790.2 135.2,790.2 136.9,790.3 138.5,790.0 140.2,792.2 141.9,789.4 143.6,792.5 145.3,793.6 146.9,792.6 148.6,791.7 150.3,792.9 152.0,789.0 153.7,790.2 155.3,789.6 157.0,789.2 158.7,785.7 160.4,784.8 162.1,782.5 163.7,781.6 165.4,781.7 167.1,779.6 168.8,781.4 170.5,780.7 172.1,779.2 173.8,778.3 175.5,775.7 177.2,775.1 178.9,771.1 180.5,773.1 182.2,775.9 183.9,771.3 185.6,770.2 187.3,769.1 188.9,768.3 190.6,767.7 192.3,767.7 194.0,765.9 195.7,766.5 197.3,767.2 199.0,765.6 200.7,764.0 202.4,762.6 204.1,762.1 205.7,762.6 207.4,760.1 209.1,760.9 210.8,761.1 212.5,762.8 214.1,760.6 215.8,761.3 217.5,761.2 219.2,760.9 220.9,760.4 222.5,761.4 224.2,761.8 225.9,762.4 227.6,762.3 229.3,762.1 230.9,760.9 232.6,758.0 234.3,760.5 236.0,763.3 237.7,761.5 239.3,761.4 241.0,762.5 242.7,762.8 244.4,765.0 246.1,766.4 247.7,768.1 249.4,765.3 251.1,765.6 252.8,767.0 254.5,768.1 256.1,769.2 257.8,768.8 259.5,771.4 261.2,768.4 262.9,769.1 264.5,768.3 266.2,769.1 267.9,768.7 269.6,769.3 271.3,770.1 272.9,773.3 274.6,770.1 276.3,769.6 278.0,767.3 279.7,768.8 281.3,768.3 283.0,769.1 284.7,769.2 286.4,768.2 288.1,767.6 289.7,767.4 291.4,768.4 293.1,767.8 294.8,767.2 296.5,768.5 298.1,766.3 299.8,766.8 301.5,765.4 303.2,766.7 304.9,765.5 306.5,765.4 308.2,764.7 309.9,763.4 311.6,766.5 313.3,768.9 314.9,766.9 316.6,766.6 318.3,765.7 320.8,765.5 323.3,760.5 325.0,753.6 326.7,743.7 328.4,730.2 330.1,719.8 331.8,712.3 333.4,713.2 335.1,713.8 336.8,713.9 338.5,715.4 340.1,718.4 341.8,727.7 343.5,737.9 345.2,750.8 346.9,758.6 349.5,766.3 351.9,767.2 353.6,769.2 355.3,769.2 358.0,771.1 360.3,769.3 362.0,769.1 363.7,768.4 365.3,766.3 367.0,766.7 368.7,764.7 370.4,766.3 372.1,765.2 373.7,764.7 375.4,764.4 377.1,764.8 378.8,764.2 380.5,763.5 382.1,762.6 383.8,762.1 385.5,762.5 387.2,762.0 388.9,762.2 390.5,761.1 392.2,758.9 393.9,761.4 395.6,761.8 397.3,759.5 398.9,758.3 400.6,757.5 402.3,756.7 404.0,756.0 405.7,754.1 407.3,753.8 409.0,752.5 410.7,752.2 412.4,750.4 414.1,749.7 415.7,747.9 417.1,746.9 419.1,747.5 420.8,750.0 422.5,746.4 424.1,747.9 425.8,748.9 427.5,748.2 429.2,744.3 430.9,746.9 432.5,753.0 434.2,747.3 435.9,746.6 437.6,747.5 439.3,746.0 440.9,744.6 442.6,745.7 444.3,745.0 446.0,742.0 447.7,743.9 449.3,742.8 451.0,743.6 452.7,743.0 454.4,742.7 456.1,742.1 457.7,743.0 459.4,742.0 461.1,743.2 462.8,742.0 464.5,741.2 466.1,738.6 467.8,740.4 469.5,739.9 471.2,739.4 472.9,737.9 474.5,739.6 476.2,741.0 477.9,740.1 479.6,743.1 481.3,739.9 482.9,739.0 484.6,739.8 486.3,738.0 488.0,738.9 489.7,740.0 491.3,736.5 493.0,734.2 494.7,734.7 496.4,731.8 498.1,729.0 499.7,725.5 501.4,720.8 503.1,714.3 504.8,705.3 506.5,696.0 508.1,686.9 509.8,677.5 511.5,668.4 513.2,660.4 514.9,655.2 516.0,652.0 518.2,651.5 520.2,651.1 521.6,652.3 523.3,654.0 524.9,656.0 526.6,658.4 528.3,662.7 530.0,668.9 531.7,679.9 533.3,686.8 535.0,692.9 536.7,699.0 538.4,704.8 540.1,711.5 541.7,715.1 543.4,718.5 545.1,722.0 546.8,724.2 548.5,727.6 550.6,731.3 551.8,731.9 553.5,731.7 555.2,733.2 556.9,728.5 558.5,733.4 560.2,735.6 561.9,734.0 564.1,736.4 565.3,734.1 566.9,732.2 568.6,734.1 570.3,731.8 572.0,730.8 573.7,729.2 575.3,729.2 577.0,727.0 578.7,728.3 580.4,728.1 582.1,729.0 583.7,730.5 585.4,729.9 587.1,729.2 588.8,728.6 590.5,727.0 592.1,727.7 593.8,726.8 595.5,724.7 597.2,723.3 598.9,720.4 600.5,718.5 602.2,717.1 604.6,714.0 607.3,716.7 608.9,718.2 610.6,720.2 612.3,717.2 614.0,715.0 615.6,712.8 617.3,715.1 619.0,717.3 620.7,720.3 622.4,718.7 624.1,716.8 625.7,717.1 627.4,716.4 629.1,716.1 630.8,715.9 632.5,715.3 634.1,716.1 635.8,716.9 637.6,719.0 639.2,715.6 640.9,713.1 643.5,706.8 645.9,710.3 647.6,709.1 649.3,710.2 650.9,710.3 652.6,707.8 654.5,709.4 656.0,710.7 657.7,712.1 660.4,717.4 662.7,710.4 664.4,708.2 666.1,704.9 667.7,703.3 669.4,700.1 671.3,696.6 672.8,698.0 674.5,699.0 676.1,698.8 678.1,699.3 679.5,698.3 681.2,697.6 682.9,696.1 684.5,696.3 686.2,694.4 687.9,695.1 689.6,694.8 691.3,692.6 692.9,693.7 694.6,691.0 696.3,690.4 698.0,688.2 699.7,686.9 701.3,682.9 703.0,680.6 704.7,677.8 706.0,675.6 708.1,677.1 709.7,676.9 711.4,679.2 713.6,681.5 714.8,680.9 716.5,681.7 718.1,679.7 720.3,679.0 721.5,676.2 723.2,672.3 724.9,668.3 726.5,660.2 727.9,652.0 729.9,650.3 732.1,648.6 733.3,649.7 734.9,650.5 736.6,652.7 738.3,652.6 740.0,654.3 741.7,656.5 744.0,658.7 746.7,657.2 748.4,655.9 750.1,655.1 751.7,655.7 753.4,652.1 755.1,653.4 756.8,652.0 758.5,650.1 760.1,651.6 761.8,644.9 763.5,644.3 765.2,642.4 766.9,640.5 768.5,637.6 770.2,636.0 771.9,632.9 773.6,628.7 775.3,629.9 776.9,630.0 779.6,628.6 782.0,623.5 783.7,620.7 785.3,617.2 787.0,612.4 788.7,613.3 790.4,612.3 792.1,612.3 793.7,609.9 795.4,608.1 797.1,606.2 798.8,603.7 800.5,602.0 802.1,599.0 803.8,598.7 805.5,594.9 807.2,590.9 808.9,585.7 810.5,582.6 812.2,579.4 814.7,576.3 817.3,581.0 818.9,584.8 820.6,591.4 822.3,600.0 824.0,604.5 825.7,607.9 827.7,611.7 829.0,610.4 830.7,607.0 832.4,606.3 834.1,605.4 835.7,590.9 837.4,578.6 839.1,573.4 840.8,567.3 843.5,557.7 845.8,561.0 847.5,563.5 849.2,569.6 850.9,584.0 852.5,597.4 854.2,604.0 855.9,611.3 857.6,617.1 859.3,620.9 860.9,625.2 862.6,629.8 864.3,630.7 866.0,632.6 867.7,634.4 869.3,634.8 871.0,635.1 872.7,637.3 874.4,637.8 876.1,638.8 877.7,639.7 879.4,642.4 881.1,643.1 882.8,644.5 884.5,645.5 886.1,645.7 887.8,647.1 889.5,646.3 891.2,644.0 893.5,648.9 896.2,651.7 897.9,645.5 899.6,644.7 901.3,643.1 902.9,645.9 904.6,641.5 906.3,642.1 908.0,638.9 909.7,638.3 911.3,635.6 913.0,633.5 914.7,637.2 917.2,642.1 919.7,641.9 921.4,642.8 923.1,641.5 924.8,642.3 926.5,638.9 928.1,643.4 929.8,647.7 931.5,644.9 933.2,648.7 934.9,645.1 936.5,645.8 938.2,647.8 939.9,648.6 941.6,649.2 943.3,651.9 944.9,653.2 946.6,655.3 948.3,659.1 950.0,659.3 951.7,660.9 954.3,663.2 956.7,662.0 958.4,662.0 960.1,663.2 961.7,660.3 963.4,658.1 965.1,657.4 966.8,657.7 968.5,657.7 970.1,656.3 971.8,656.4 973.5,656.4 975.2,655.3 976.9,653.0 978.5,653.8 980.2,654.6 981.9,653.5 983.6,654.1 985.3,651.2 986.9,652.4 988.6,654.0 990.3,650.0 992.0,649.5 993.2,646.7 995.3,650.4 997.0,651.8 998.7,653.0 999.9,654.4 1002.1,651.2 1003.7,649.3 1005.4,646.6 1007.1,645.1 1008.8,642.9 1010.5,642.1 1012.1,641.2 1013.8,637.4 1015.5,631.1 1017.2,634.8 1018.5,620.2 1020.5,615.1 1022.2,618.8 1023.9,618.3 1025.6,615.6 1027.3,613.4 1028.9,610.4 1030.6,606.2 1033.2,601.5 1035.7,605.5 1037.8,609.1 1039.0,608.7 1041.7,607.7 1045.0,619.6 1048.3,619.6 1050.8,615.6 1052.5,613.3 1054.1,608.5 1055.8,605.0 1057.5,601.3 1059.2,592.9 1060.9,581.0 1062.5,564.2 1064.2,547.0 1065.9,524.6 1067.6,484.7 1069.8,430.0 1069.8,430.0 1070.9,372.2 1072.6,299.4 1074.3,245.4 1075.7,200.4 1077.7,272.7 1079.3,325.4 1081.0,370.8 1082.5,430.0 1082.6,430.0 1084.4,485.2 1086.1,526.7 1087.7,554.4 1089.4,570.2 1091.1,581.5 1093.7,591.9 1096.1,593.6 1097.8,593.2 1099.5,595.0 1101.2,595.9 1102.9,595.2 1104.5,597.1 1106.2,596.6 1107.9,594.7 1109.6,597.4 1112.2,597.2 1114.6,600.3 1116.3,601.3 1118.0,604.2 1119.7,604.6 1121.3,606.6 1123.0,607.6 1125.3,610.8 1128.1,603.1 1129.7,598.5 1131.9,593.7 1133.1,595.5 1134.5,599.8 1136.5,598.9 1138.1,598.2 1139.8,595.8 1141.5,594.4 1143.2,594.3 1144.9,594.5 1146.5,592.9 1148.2,594.4 1149.9,591.5 1151.6,592.1 1153.3,588.6 1154.9,589.0 1156.6,588.0 1158.3,587.8 1160.0,587.0 1162.2,585.4 1163.3,581.8 1165.0,576.4 1166.7,565.8 1168.4,551.9 1170.1,531.1 1171.7,515.3 1173.4,512.7 1175.4,509.3 1176.8,525.3 1178.5,537.2 1180.1,549.2 1181.8,557.8 1183.5,563.7 1185.2,567.5 1187.2,572.0 1188.5,568.7 1190.2,564.6 1191.9,561.0 1193.6,557.6 1195.3,555.1 1196.4,553.8 1198.6,556.8 1200.3,558.2 1202.0,562.1 1203.7,564.3 1205.1,566.8 1207.0,566.9 1208.7,568.3 1210.1,568.5 1212.1,563.0 1213.7,558.2 1216.0,550.4 1218.8,553.9 1220.5,556.0 1222.1,555.7 1223.8,558.6 1226.2,561.7 1228.9,554.0 1230.9,548.5 1232.2,551.1 1233.9,555.0 1235.6,558.2 1237.3,562.5 1238.9,565.8 1240.6,569.9 1242.3,574.6 1244.0,578.7 1245.3,583.6 1248.1,575.2 1250.7,582.6 1252.4,578.9 1254.1,574.7 1255.7,572.3 1257.4,564.5 1259.1,556.6 1260.8,545.7 1262.5,533.9 1264.1,523.7 1265.8,513.4 1267.5,498.6 1269.2,483.4 1271.0,466.3 1272.4,465.6 1274.2,476.2 1275.9,485.1 1277.6,493.7 1279.3,504.5 1280.9,515.9 1282.6,522.4 1284.3,528.6 1286.0,530.3 1287.7,532.5 1289.3,538.4 1291.0,548.2 1292.7,557.2 1294.4,563.9 1296.1,567.9 1297.7,571.6 1299.4,574.7 1301.1,574.8 1302.8,577.0 1304.7,578.6 1306.1,577.8 1307.8,577.0 1309.5,575.9 1310.6,574.3 1312.9,578.4 1314.5,580.8 1316.5,584.4 1317.9,582.6 1319.6,579.9 1321.3,579.6 1322.4,577.5 1324.6,579.6 1326.3,580.5 1328.0,581.0 1330.0,583.3 1331.3,580.9 1333.0,579.8 1334.7,578.2 1336.4,577.1 1338.1,576.5 1339.7,574.9 1341.4,571.3 1343.1,570.3 1344.8,567.6 1346.5,566.0 1348.1,562.5 1349.8,557.7 1351.5,551.1 1353.2,545.9 1354.9,543.0 1357.0,539.8 1358.2,539.7 1359.9,539.3 1362.1,539.8 1363.3,541.2 1364.9,544.3 1366.3,546.5 1368.3,546.5 1370.6,546.5 1371.7,545.1 1373.3,543.5 1375.0,537.5 1376.7,513.2 1378.4,504.8 1379.8,498.5 1381.7,500.0 1383.4,502.3 1385.1,506.3 1386.8,524.3 1388.5,539.0 1390.1,551.6 1391.8,561.7 1393.5,570.3 1395.2,575.1 1396.9,583.0 1398.5,580.4 1400.2,581.8 1401.9,584.8 1403.6,587.4 1405.3,591.1 1406.9,592.8 1408.6,593.4 1410.3,596.6 1412.0,599.6 1413.7,602.1 1415.3,602.5 1417.0,603.9 1418.7,599.2 1420.0,596.2 1422.1,598.3 1423.7,600.5 1425.4,603.0 1427.1,604.2 1428.8,607.7 1430.5,608.1 1432.1,610.4 1433.8,609.2 1435.5,610.6 1437.2,610.3 1438.9,612.5 1440.5,610.6 1443.2,610.7 1445.6,608.0 1447.7,603.7 1448.9,607.4 1450.6,619.9 1453.3,614.1 1455.7,614.8 1457.3,613.2 1459.0,616.0 1460.7,616.2 1462.4,614.3 1464.1,616.8 1465.7,620.9 1467.4,618.1 1469.1,618.4 1471.9,624.1 1474.1,618.1 1475.8,617.0 1477.5,615.5 1479.2,614.7 1480.9,615.7 1482.5,612.8 1484.2,614.5 1485.4,614.1 1487.6,615.1 1489.3,616.5 1490.9,617.2 1492.1,617.4 1494.3,621.3 1496.0,614.4 1498.5,610.0 1501.0,617.0 1502.7,619.8 1504.0,622.5 1506.1,625.5 1507.7,621.2 1509.0,620.8 1511.1,622.2 1512.8,624.2 1514.5,620.2 1516.1,626.1 1517.8,629.4 1519.5,626.4 1521.2,627.0 1522.9,624.9 1524.5,626.3 1526.2,626.5 1527.9,626.4 1529.6,625.8 1531.3,628.4 1532.9,626.7 1534.6,628.0 1536.3,625.8 1538.0,626.1 1539.7,619.5 1541.3,626.1 1543.0,633.4 1544.7,626.3 1546.4,633.3 1548.1,626.0 1549.7,626.0 1551.4,623.6 1553.1,626.1 1554.8,626.8 1556.5,625.9 1558.1,629.5 1559.8,625.5 1561.5,625.7 1563.2,626.0 1564.9,623.5 1566.5,625.8 1568.2,625.6 1569.9,630.0 1571.6,626.0 1573.3,625.8 1574.9,625.8 1576.6,621.7 1578.3,626.1 1580.0,632.2 1581.7,625.9 1583.3,630.6 1585.0,626.0 1586.7,626.3 1588.4,623.6 1590.1,626.0 1591.7,624.3 1593.4,626.4 1595.1,628.0 1596.8,624.9 1598.5,624.7 1600.1,625.4 1601.8,625.9 1603.5,620.6 1605.2,625.4 1606.9,625.5 1608.5,626.5 1610.2,626.1 1611.9,627.6 1613.6,625.6 1615.3,622.9 1616.9,625.4 1618.6,627.4 1620.3,624.9 1622.0,625.3 1623.7,625.6 1625.3,623.6 1627.0,624.5 1628.7,624.6 1630.4,625.3 1632.1,624.8 1633.7,625.2 1635.4,622.2 1637.1,625.5 1638.8,623.5 1640.5,626.9 1642.1,626.7 1643.8,625.4 1645.5,626.0 1647.2,626.0 1648.9,624.7 1650.5,625.6 1652.2,619.6 1653.9,625.7 1655.6,632.0 1657.3,625.7 1658.9,625.8 1660.6,625.0 1662.3,625.4 1664.0,625.3 1665.7,627.5 1667.3,626.0 1669.0,625.5 1670.7,622.4 1672.4,625.7 1674.1,625.1 1675.7,621.9 1677.4,625.3 1679.1,629.7 1680.8,625.5 1682.5,624.3 1684.1,626.3 1685.8,625.4 1687.5,622.2 1689.2,625.9 1690.9,630.6 1692.5,626.0 1694.2,625.8 1695.9,625.6 1697.6,628.4 1699.3,625.6 1700.9,623.8 1702.6,625.7 1704.3,627.0 1706.0,626.9 1707.7,624.8 1709.3,626.2 1711.0,626.6 1712.7,626.5 1714.4,625.6 1716.1,626.1 1717.7,625.7 1719.4,624.0 1721.1,626.1 1722.8,628.9 1724.5,626.2 1726.1,626.4 1727.8,624.9 1729.5,625.6 1731.2,625.6 1732.9,625.0 1734.5,626.4 1736.2,625.8 1737.9,623.5 1739.6,626.3 1741.3,628.7 1742.9,626.1 1744.6,626.0 1746.3,624.7 1748.0,627.2 1749.7,627.3 1751.3,627.3 1753.0,625.9 1754.7,627.5 1756.4,626.3 1758.1,627.5 1759.7,628.4 1761.4,626.7 1763.1,625.2 1764.8,626.2 1766.5,627.0 1768.1,626.6 1769.8,621.3 1771.5,626.0 1773.2,629.1 1774.9,625.9 1776.5,625.9 1778.2,629.2 1779.9,625.3 1781.6,626.3 1783.3,625.5 1784.9,625.5 1786.6,626.0 1788.3,624.9 1790.0,624.8 1791.7,627.8 1793.3,624.0 1795.0,623.9 1796.7,619.7 1798.4,624.1 1800.1,623.5 1801.7,624.4 1803.4,623.2 1805.1,624.2 1806.8,624.1 1808.5,623.3 1810.1,621.9 1811.8,625.6 1813.5,624.4 1815.2,624.4"/>
</g>
<g stroke="#ff0000">
<path stroke-linejoin="bevel" transform="translate(0,-1.9)" d="M133.5,1059.7 135.2,1059.3 136.9,1056.7 138.5,1060.3 140.2,1056.2 141.9,1057.0 143.6,1059.8 145.3,1055.2 146.9,1053.6 148.6,1054.0 150.3,1055.4 152.0,1057.8 153.6,1055.6 155.3,1054.0 157.0,1053.6 158.7,1051.2 160.4,1050.5 162.1,1050.9 163.7,1048.1 165.4,1048.0 167.1,1046.3 168.8,1045.4 170.5,1044.1 172.1,1041.3 173.8,1040.2 175.5,1039.4 177.2,1038.1 178.9,1036.7 180.5,1035.6 182.2,1036.3 183.9,1035.5 185.6,1037.4 187.3,1032.0 188.9,1033.8 190.6,1033.1 192.3,1033.1 194.0,1031.2 195.7,1028.9 197.3,1028.7 199.0,1028.0 200.7,1025.9 202.4,1025.0 204.3,1021.4 205.7,1024.2 207.4,1026.3 209.1,1025.0 210.8,1026.6 212.5,1026.4 214.1,1025.8 215.8,1027.1 217.5,1028.4 219.2,1027.3 220.9,1026.8 222.5,1026.5 224.2,1026.3 225.9,1026.5 227.6,1023.8 229.3,1025.1 230.9,1025.0 232.6,1024.4 234.7,1025.2 236.0,1027.3 237.7,1023.2 239.8,1020.9 241.0,1023.1 242.7,1025.2 244.4,1026.5 246.1,1027.6 247.7,1030.5 249.4,1031.4 251.1,1030.6 252.8,1032.8 254.5,1032.2 256.1,1033.0 257.8,1032.0 259.5,1033.9 261.2,1031.2 262.9,1033.4 264.5,1034.8 266.2,1032.1 267.9,1032.2 269.6,1032.0 271.3,1032.9 272.9,1033.3 274.6,1031.5 276.3,1030.5 278.0,1033.5 279.7,1033.6 281.3,1032.2 283.0,1033.2 285.4,1033.7 288.1,1028.5 289.6,1029.4 291.4,1030.8 293.1,1029.4 294.8,1033.1 296.5,1033.2 298.1,1032.9 299.8,1033.5 301.4,1034.9 303.2,1030.4 306.0,1024.8 308.2,1028.2 309.9,1030.7 311.5,1032.8 313.3,1033.2 314.9,1034.1 316.6,1032.2 318.3,1030.6 320.0,1029.6 321.7,1027.9 323.3,1025.9 325.0,1020.5 326.7,1011.4 328.4,1001.2 330.1,989.9 331.7,985.9 333.4,982.6 334.8,980.7 336.8,983.2 338.5,985.8 340.1,989.7 341.8,1000.0 343.5,1011.1 345.2,1017.6 346.9,1023.8 348.5,1028.0 350.2,1028.0 351.9,1030.7 353.6,1033.3 355.3,1032.2 356.9,1032.0 358.6,1031.7 360.3,1033.8 362.0,1033.4 363.7,1034.3 365.3,1032.3 367.0,1033.0 368.7,1031.9 370.4,1030.9 372.1,1028.5 373.7,1028.9 375.4,1026.7 377.1,1025.3 378.8,1029.1 380.5,1026.5 382.1,1024.1 383.8,1026.4 385.5,1027.0 387.2,1029.7 388.9,1026.9 390.5,1026.5 392.2,1026.1 393.9,1023.9 395.6,1026.5 397.3,1025.4 398.9,1025.3 400.6,1023.0 402.3,1024.2 404.0,1020.9 405.7,1018.2 407.3,1017.9 409.0,1014.6 410.7,1012.5 412.4,1007.8 413.7,1008.3 415.7,1014.4 417.4,1011.3 419.1,1013.1 420.4,1013.4 422.5,1013.4 424.1,1010.3 425.8,1012.4 427.5,1012.0 429.2,1008.8 430.9,1006.8 432.3,1004.8 434.2,1006.4 435.9,1007.1 437.6,1009.3 439.0,1010.0 440.9,1009.0 442.6,1007.4 444.3,1007.4 446.0,1006.2 448.4,1004.5 451.0,1004.5 452.7,1004.9 454.4,1006.0 456.1,1006.7 457.7,1007.1 459.4,1006.7 461.1,1004.5 462.8,1004.8 464.5,1004.0 466.1,1007.4 467.8,1005.8 469.5,1006.4 471.2,1007.2 472.9,1005.4 474.5,1003.6 476.2,1003.7 478.0,1006.1 479.6,1003.5 481.3,1004.9 482.9,1004.5 484.7,1008.7 486.3,1004.3 488.0,1002.0 489.7,1001.7 491.3,998.8 493.0,999.6 494.7,997.7 496.4,995.6 498.1,994.1 499.7,990.7 501.4,986.5 503.1,981.1 504.8,972.8 506.5,963.3 508.1,952.4 509.8,943.7 511.5,937.5 513.2,932.5 514.9,931.3 516.8,929.3 518.2,929.9 519.9,930.2 521.6,930.3 522.7,930.2 524.9,933.9 526.6,937.2 528.3,940.6 530.0,947.1 531.7,953.8 533.3,960.6 535.0,966.8 536.7,973.3 538.4,976.6 540.1,981.5 541.7,988.5 543.4,986.4 545.1,984.0 546.8,990.0 548.5,991.4 550.1,993.3 551.8,992.7 553.5,994.4 555.2,995.2 556.9,994.7 558.5,994.4 560.2,994.8 561.9,993.8 563.3,993.5 565.3,994.6 567.5,996.5 568.6,993.4 571.2,986.8 573.7,989.8 575.3,991.8 576.8,992.6 578.7,994.4 580.4,989.7 582.1,988.4 583.5,987.6 585.4,987.6 587.1,988.3 588.8,987.6 590.5,988.9 592.0,989.3 593.8,986.6 595.5,984.3 597.2,981.9 598.9,980.1 600.5,978.5 602.2,977.2 603.8,975.7 605.6,976.2 607.3,976.5 608.9,975.4 610.6,977.4 612.3,974.1 614.0,974.0 615.7,976.9 617.3,977.0 619.0,977.3 620.7,976.9 622.4,976.1 624.1,978.0 625.7,969.2 627.1,963.6 629.1,965.7 630.8,969.1 632.5,967.9 634.1,968.8 635.8,970.3 637.5,970.0 639.2,967.5 640.9,970.1 642.5,974.2 644.2,969.7 645.9,969.7 647.6,967.5 649.3,967.6 650.9,968.2 652.6,967.6 654.3,966.5 656.0,967.1 657.7,966.9 659.3,964.7 661.0,965.5 662.7,962.3 664.4,961.5 666.1,962.9 667.7,960.6 669.4,959.8 671.1,957.6 673.9,951.4 676.1,953.4 677.8,960.0 679.8,955.5 681.2,957.0 682.9,953.2 684.5,950.1 686.2,951.3 687.9,950.5 689.6,950.7 691.3,948.8 692.9,947.4 694.6,947.6 696.3,945.1 698.0,941.1 699.7,941.4 701.3,939.2 703.0,939.5 704.7,937.0 706.4,937.2 708.1,936.4 709.7,936.6 711.4,938.1 713.6,936.9 714.8,936.0 716.5,935.3 718.1,933.9 719.8,933.5 721.5,929.3 723.2,925.4 724.9,922.0 726.5,916.0 728.8,908.2 729.9,907.7 731.6,907.4 733.3,908.7 734.9,907.0 736.6,908.9 738.3,907.0 740.0,907.4 741.7,910.0 743.3,908.2 745.0,911.8 746.7,910.4 748.4,908.3 750.7,908.2 753.4,904.6 755.1,902.6 756.8,904.7 758.5,899.4 760.1,899.3 761.8,896.4 763.5,894.3 765.2,894.2 766.9,891.9 768.5,890.6 770.2,891.7 771.9,887.1 773.6,884.3 775.3,881.0 776.9,877.9 778.6,875.8 780.3,875.7 782.0,872.6 783.7,870.0 785.3,869.1 787.0,866.7 788.7,863.6 790.4,863.1 792.1,862.4 793.7,859.8 795.4,858.3 797.1,859.4 798.8,860.0 800.5,857.1 802.1,855.0 803.8,854.0 805.5,851.1 807.2,846.7 808.9,842.3 810.5,838.6 812.2,834.3 813.9,830.2 815.5,828.0 817.3,834.1 818.9,841.7 820.6,847.9 822.3,854.1 823.5,858.2 825.7,859.0 827.3,859.9 828.5,860.7 830.7,859.6 832.4,859.5 834.4,858.2 835.7,854.6 837.4,849.6 839.1,844.7 840.8,837.1 842.5,830.3 844.1,832.0 845.8,833.9 847.5,837.1 849.2,841.4 850.9,844.5 852.5,849.4 854.2,857.3 855.9,864.4 857.6,867.7 859.3,872.0 860.9,876.6 862.6,880.9 864.3,885.6 866.0,890.2 867.7,893.7 869.0,899.5 871.0,897.1 872.7,897.0 874.4,896.0 876.1,896.9 877.7,898.1 879.4,902.2 881.1,901.6 882.8,903.0 884.5,903.7 886.1,902.4 887.8,904.1 889.5,902.3 891.2,904.5 892.9,905.9 895.2,907.2 897.9,900.3 899.4,902.1 901.3,905.4 902.9,902.1 905.4,902.1 908.0,898.4 910.1,894.6 911.3,898.5 913.0,902.7 915.5,911.1 918.1,908.2 919.7,906.5 921.4,906.7 923.1,905.8 924.8,907.5 926.5,907.2 928.1,904.2 929.3,899.4 931.5,905.2 934.1,915.8 936.5,908.2 938.2,907.8 940.0,906.1 941.6,909.9 943.3,912.6 945.0,915.6 946.6,916.1 948.3,917.4 950.0,916.4 951.7,919.1 953.3,916.8 955.0,916.3 956.7,916.8 958.4,913.8 960.1,914.3 961.7,916.7 963.4,913.3 965.1,914.8 966.8,913.2 968.5,913.6 970.1,912.9 971.8,916.0 973.5,914.9 976.3,919.6 978.5,914.1 980.2,914.3 981.9,912.4 983.6,912.1 985.3,911.1 986.9,911.0 988.6,913.6 990.3,911.0 992.0,910.4 993.7,908.2 995.3,910.7 997.0,909.2 998.7,908.4 1000.4,911.4 1002.1,907.8 1003.7,910.0 1005.4,907.3 1006.7,907.2 1008.8,904.1 1010.5,900.9 1012.1,899.9 1013.8,896.6 1015.5,893.0 1017.2,892.0 1018.9,889.4 1020.5,888.0 1022.2,891.5 1023.9,884.3 1025.6,883.4 1027.3,880.6 1028.9,877.8 1030.6,875.6 1032.8,871.7 1034.0,873.3 1035.7,877.1 1037.3,876.6 1039.0,880.9 1040.7,881.9 1042.4,884.3 1044.7,886.9 1047.4,887.1 1049.1,887.4 1050.6,887.8 1052.5,885.4 1054.1,885.0 1055.8,880.7 1057.5,875.9 1059.2,868.5 1060.9,861.3 1062.5,855.0 1064.2,843.8 1065.9,830.4 1067.6,806.5 1069.3,762.3 1070.9,719.8 1072.6,679.1 1074.3,630.7 1077.0,598.2 1079.3,653.2 1081.0,694.9 1082.7,736.9 1084.4,772.8 1086.1,804.5 1087.7,832.5 1089.4,847.3 1091.1,857.7 1092.8,861.5 1094.5,864.4 1095.8,867.3 1097.8,867.9 1099.5,867.3 1101.2,868.0 1102.9,868.4 1104.5,871.2 1106.2,870.3 1107.9,869.0 1109.6,870.3 1111.1,871.1 1112.9,869.6 1114.6,868.2 1115.9,867.4 1118.0,870.7 1120.7,875.0 1123.0,875.1 1124.7,874.9 1127.4,875.0 1129.7,871.4 1131.4,873.1 1133.1,866.4 1135.0,863.4 1136.5,864.3 1138.1,864.7 1139.8,866.9 1141.7,867.3 1143.2,866.7 1144.9,866.1 1146.5,864.1 1148.2,864.1 1149.9,862.9 1151.6,858.4 1153.3,859.7 1154.9,858.6 1156.6,856.4 1158.3,853.2 1160.0,850.9 1161.7,847.5 1163.3,842.5 1165.0,835.4 1166.7,818.8 1168.4,805.9 1170.1,797.5 1171.7,788.6 1173.4,778.9 1174.7,777.0 1176.8,789.0 1178.5,802.8 1180.1,815.4 1181.8,828.0 1183.5,834.4 1185.8,842.0 1188.5,838.7 1190.2,837.1 1191.9,835.3 1193.6,833.4 1195.3,832.8 1196.9,832.3 1199.2,830.9 1200.3,833.1 1202.0,835.3 1203.7,839.4 1205.3,843.3 1207.0,843.5 1208.8,844.8 1210.4,841.1 1212.1,837.8 1214.5,832.8 1217.1,832.2 1218.8,831.8 1220.5,832.0 1222.1,831.8 1223.8,831.4 1225.5,828.9 1227.2,824.4 1228.9,828.9 1230.5,828.6 1232.2,828.5 1233.7,829.0 1235.6,833.5 1237.3,837.7 1240.0,846.3 1242.3,845.0 1244.0,846.5 1245.7,847.8 1248.1,850.0 1250.7,842.6 1252.4,843.0 1254.1,847.8 1255.7,838.0 1257.4,834.9 1259.1,824.7 1260.8,814.5 1262.5,803.9 1264.1,793.2 1265.8,786.4 1267.5,782.4 1269.2,779.1 1270.9,778.8 1272.5,778.5 1274.2,778.8 1276.0,778.3 1277.6,781.1 1279.3,784.2 1280.9,787.3 1282.6,804.6 1284.3,800.5 1286.0,796.2 1287.7,804.2 1289.3,809.3 1291.0,815.0 1292.7,820.9 1294.4,827.6 1296.1,834.2 1297.7,838.6 1299.4,843.3 1301.3,850.4 1302.8,848.6 1304.5,849.4 1306.1,849.7 1308.1,850.0 1309.5,845.8 1311.2,847.9 1312.9,848.4 1314.5,847.1 1316.2,844.2 1317.9,847.8 1319.6,852.8 1321.3,849.7 1322.9,853.6 1324.6,851.5 1326.3,852.4 1328.0,852.7 1330.0,853.4 1331.3,852.3 1333.0,850.5 1334.7,848.7 1336.4,848.2 1338.1,844.8 1339.7,846.0 1341.8,845.0 1343.1,847.9 1344.8,839.1 1346.5,835.1 1348.1,830.9 1349.8,827.4 1351.5,824.6 1353.2,822.4 1355.4,819.6 1356.5,819.5 1358.2,819.5 1359.9,819.4 1361.6,819.7 1363.3,819.1 1364.9,822.7 1366.6,824.4 1368.9,826.4 1370.0,825.4 1371.7,823.4 1373.3,821.9 1375.0,814.1 1376.7,803.8 1378.4,800.2 1380.7,796.0 1383.4,796.0 1385.7,796.0 1388.5,812.4 1390.1,823.5 1391.8,831.0 1393.5,836.1 1395.2,846.6 1396.9,844.6 1398.5,847.4 1400.2,848.7 1401.9,852.0 1404.3,859.7 1406.9,857.3 1408.6,857.6 1410.3,858.4 1412.0,857.4 1413.7,859.0 1415.3,861.6 1417.0,859.4 1418.7,858.5 1420.4,860.4 1422.1,861.3 1423.7,860.6 1425.4,861.4 1427.1,861.0 1428.8,861.6 1430.5,860.8 1433.0,859.1 1435.5,866.1 1437.3,871.6 1438.9,870.2 1440.5,869.8 1442.2,870.8 1443.9,872.7 1445.6,871.4 1447.3,870.3 1448.9,869.3 1450.6,872.2 1452.3,873.9 1454.0,872.4 1455.7,873.8 1457.3,872.8 1459.0,872.3 1460.7,870.7 1462.4,873.8 1464.1,872.6 1465.7,874.5 1467.4,872.0 1469.1,872.0 1470.8,871.1 1472.5,872.5 1474.1,875.0 1475.8,874.4 1477.5,874.1 1479.2,875.2 1480.9,874.7 1482.5,873.1 1484.2,874.2 1485.9,875.4 1487.6,874.2 1489.3,874.5 1490.9,872.6 1492.6,872.9 1493.8,870.0 1496.0,873.0 1497.7,877.5 1499.3,875.0 1501.0,876.7 1502.7,875.8 1504.4,877.6 1506.1,876.7 1507.7,878.2 1509.0,878.7 1511.1,877.9 1512.8,876.7 1515.4,873.5 1517.8,876.2 1520.0,881.9 1520.1,880.0 1522.9,880.6 1524.5,881.2 1526.2,881.0 1527.9,882.0 1529.6,879.2 1531.3,882.7 1532.9,880.1 1534.6,881.6 1536.3,879.8 1538.0,882.1 1539.7,884.5 1541.3,882.1 1543.0,882.0 1544.7,879.7 1546.4,882.4 1548.1,881.5 1549.7,881.1 1551.4,882.5 1553.1,883.6 1554.8,882.6 1556.5,881.9 1558.1,883.4 1559.8,882.0 1561.5,881.6 1563.2,883.6 1564.9,885.0 1566.5,883.5 1568.2,881.0 1569.9,882.8 1571.6,878.5 1573.3,882.9 1574.9,885.5 1576.6,881.7 1578.3,875.2 1580.0,881.5 1581.7,886.5 1583.3,881.4 1585.0,881.7 1586.7,881.8 1588.4,881.1 1590.1,879.7 1591.7,879.5 1593.4,880.8 1595.1,879.0 1596.8,881.8 1598.5,879.9 1600.1,878.9 1601.8,880.8 1603.5,879.5 1605.2,879.9 1606.9,877.6 1608.5,879.9 1610.2,881.4 1611.9,878.4 1613.6,877.4 1615.3,877.2 1616.9,879.1 1618.6,872.2 1620.3,878.7 1622.0,883.2 1623.7,878.8 1625.3,879.0 1627.0,878.0 1628.7,878.8 1630.4,878.3 1632.1,877.1 1633.7,878.6 1635.4,873.8 1637.1,878.0 1638.8,878.1 1640.5,878.9 1642.1,880.8 1643.8,878.8 1645.5,877.8 1647.2,877.2 1648.9,878.7 1650.5,878.2 1652.2,878.4 1653.9,875.0 1655.6,878.0 1657.3,878.0 1658.9,884.3 1660.6,878.7 1662.3,877.6 1664.0,879.0 1665.7,879.0 1667.3,877.5 1669.0,878.3 1670.7,879.2 1672.4,877.2 1674.1,878.7 1675.7,882.7 1677.4,878.4 1679.1,875.4 1680.8,877.8 1682.5,878.7 1684.1,878.3 1685.8,877.9 1687.5,878.3 1689.2,872.9 1690.9,878.3 1692.5,878.2 1694.2,881.4 1695.9,878.6 1697.6,878.3 1699.3,877.4 1700.9,879.1 1702.6,877.8 1704.3,878.3 1706.0,886.0 1707.7,877.7 1709.3,876.6 1711.0,877.0 1712.7,877.7 1714.4,875.4 1716.1,878.2 1717.7,879.0 1719.4,877.7 1721.1,879.9 1722.8,877.1 1724.5,873.5 1726.1,877.7 1727.8,877.6 1729.5,878.3 1731.2,877.3 1732.9,880.4 1734.5,877.7 1736.2,875.5 1737.9,877.9 1739.6,878.3 1741.3,877.5 1742.9,876.8 1744.6,877.1 1746.3,879.1 1748.0,876.6 1749.7,878.1 1751.3,876.9 1753.0,880.5 1754.7,877.4 1756.4,878.9 1758.1,877.1 1759.7,880.7 1761.4,876.8 1763.1,878.7 1764.8,877.6 1766.5,881.4 1768.1,877.0 1769.8,876.9 1771.5,871.4 1773.2,876.2 1774.9,878.9 1776.5,876.3 1778.2,872.9 1779.9,875.2 1781.6,872.0 1783.3,874.3 1784.9,874.0 1786.6,874.4 1788.3,873.7 1790.0,873.4 1791.7,872.4 1793.3,872.5 1795.0,873.3 1796.7,871.5 1798.4,871.9 1800.1,872.6 1801.7,872.7 1803.4,870.2 1805.1,872.7 1806.8,872.2 1808.5,876.6 1810.1,873.3 1811.8,869.2 1813.5,873.3 1815.2,873.6"/>
<path stroke-linejoin="bevel" transform="translate(0,1.9)" d="M133.5,1059.7 135.2,1059.3 136.9,1056.7 138.5,1060.3 140.2,1056.2 141.9,1057.0 143.6,1059.8 145.3,1055.2 146.9,1053.6 148.6,1054.0 150.3,1055.4 152.0,1057.8 153.6,1055.6 155.3,1054.0 157.0,1053.6 158.7,1051.2 160.4,1050.5 162.1,1050.9 163.7,1048.1 165.4,1048.0 167.1,1046.3 168.8,1045.4 170.5,1044.1 172.1,1041.3 173.8,1040.2 175.5,1039.4 177.2,1038.1 178.9,1036.7 180.5,1035.6 182.2,1036.3 183.9,1035.5 185.6,1037.4 187.3,1032.0 188.9,1033.8 190.6,1033.1 192.3,1033.1 194.0,1031.2 195.7,1028.9 197.3,1028.7 199.0,1028.0 200.7,1025.9 202.4,1025.0 204.3,1021.4 205.7,1024.2 207.4,1026.3 209.1,1025.0 210.8,1026.6 212.5,1026.4 214.1,1025.8 215.8,1027.1 217.5,1028.4 219.2,1027.3 220.9,1026.8 222.5,1026.5 224.2,1026.3 225.9,1026.5 227.6,1023.8 229.3,1025.1 230.9,1025.0 232.6,1024.4 234.7,1025.2 236.0,1027.3 237.7,1023.2 239.8,1020.9 241.0,1023.1 242.7,1025.2 244.4,1026.5 246.1,1027.6 247.7,1030.5 249.4,1031.4 251.1,1030.6 252.8,1032.8 254.5,1032.2 256.1,1033.0 257.8,1032.0 259.5,1033.9 261.2,1031.2 262.9,1033.4 264.5,1034.8 266.2,1032.1 267.9,1032.2 269.6,1032.0 271.3,1032.9 272.9,1033.3 274.6,1031.5 276.3,1030.5 278.0,1033.5 279.7,1033.6 281.3,1032.2 283.0,1033.2 285.4,1033.7 288.1,1028.5 289.6,1029.4 291.4,1030.8 293.1,1029.4 294.8,1033.1 296.5,1033.2 298.1,1032.9 299.8,1033.5 301.4,1034.9 303.2,1030.4 306.0,1024.8 308.2,1028.2 309.9,1030.7 311.5,1032.8 313.3,1033.2 314.9,1034.1 316.6,1032.2 318.3,1030.6 320.0,1029.6 321.7,1027.9 323.3,1025.9 325.0,1020.5 326.7,1011.4 328.4,1001.2 330.1,989.9 331.7,985.9 333.4,982.6 334.8,980.7 336.8,983.2 338.5,985.8 340.1,989.7 341.8,1000.0 343.5,1011.1 345.2,1017.6 346.9,1023.8 348.5,1028.0 350.2,1028.0 351.9,1030.7 353.6,1033.3 355.3,1032.2 356.9,1032.0 358.6,1031.7 360.3,1033.8 362.0,1033.4 363.7,1034.3 365.3,1032.3 367.0,1033.0 368.7,1031.9 370.4,1030.9 372.1,1028.5 373.7,1028.9 375.4,1026.7 377.1,1025.3 378.8,1029.1 380.5,1026.5 382.1,1024.1 383.8,1026.4 385.5,1027.0 387.2,1029.7 388.9,1026.9 390.5,1026.5 392.2,1026.1 393.9,1023.9 395.6,1026.5 397.3,1025.4 398.9,1025.3 400.6,1023.0 402.3,1024.2 404.0,1020.9 405.7,1018.2 407.3,1017.9 409.0,1014.6 410.7,1012.5 412.4,1007.8 413.7,1008.3 415.7,1014.4 417.4,1011.3 419.1,1013.1 420.4,1013.4 422.5,1013.4 424.1,1010.3 425.8,1012.4 427.5,1012.0 429.2,1008.8 430.9,1006.8 432.3,1004.8 434.2,1006.4 435.9,1007.1 437.6,1009.3 439.0,1010.0 440.9,1009.0 442.6,1007.4 444.3,1007.4 446.0,1006.2 448.4,1004.5 451.0,1004.5 452.7,1004.9 454.4,1006.0 456.1,1006.7 457.7,1007.1 459.4,1006.7 461.1,1004.5 462.8,1004.8 464.5,1004.0 466.1,1007.4 467.8,1005.8 469.5,1006.4 471.2,1007.2 472.9,1005.4 474.5,1003.6 476.2,1003.7 478.0,1006.1 479.6,1003.5 481.3,1004.9 482.9,1004.5 484.7,1008.7 486.3,1004.3 488.0,1002.0 489.7,1001.7 491.3,998.8 493.0,999.6 494.7,997.7 496.4,995.6 498.1,994.1 499.7,990.7 501.4,986.5 503.1,981.1 504.8,972.8 506.5,963.3 508.1,952.4 509.8,943.7 511.5,937.5 513.2,932.5 514.9,931.3 516.8,929.3 518.2,929.9 519.9,930.2 521.6,930.3 522.7,930.2 524.9,933.9 526.6,937.2 528.3,940.6 530.0,947.1 531.7,953.8 533.3,960.6 535.0,966.8 536.7,973.3 538.4,976.6 540.1,981.5 541.7,988.5 543.4,986.4 545.1,984.0 546.8,990.0 548.5,991.4 550.1,993.3 551.8,992.7 553.5,994.4 555.2,995.2 556.9,994.7 558.5,994.4 560.2,994.8 561.9,993.8 563.3,993.5 565.3,994.6 567.5,996.5 568.6,993.4 571.2,986.8 573.7,989.8 575.3,991.8 576.8,992.6 578.7,994.4 580.4,989.7 582.1,988.4 583.5,987.6 585.4,987.6 587.1,988.3 588.8,987.6 590.5,988.9 592.0,989.3 593.8,986.6 595.5,984.3 597.2,981.9 598.9,980.1 600.5,978.5 602.2,977.2 603.8,975.7 605.6,976.2 607.3,976.5 608.9,975.4 610.6,977.4 612.3,974.1 614.0,974.0 615.7,976.9 617.3,977.0 619.0,977.3 620.7,976.9 622.4,976.1 624.1,978.0 625.7,969.2 627.1,963.6 629.1,965.7 630.8,969.1 632.5,967.9 634.1,968.8 635.8,970.3 637.5,970.0 639.2,967.5 640.9,970.1 642.5,974.2 644.2,969.7 645.9,969.7 647.6,967.5 649.3,967.6 650.9,968.2 652.6,967.6 654.3,966.5 656.0,967.1 657.7,966.9 659.3,964.7 661.0,965.5 662.7,962.3 664.4,961.5 666.1,962.9 667.7,960.6 669.4,959.8 671.1,957.6 673.9,951.4 676.1,953.4 677.8,960.0 679.8,955.5 681.2,957.0 682.9,953.2 684.5,950.1 686.2,951.3 687.9,950.5 689.6,950.7 691.3,948.8 692.9,947.4 694.6,947.6 696.3,945.1 698.0,941.1 699.7,941.4 701.3,939.2 703.0,939.5 704.7,937.0 706.4,937.2 708.1,936.4 709.7,936.6 711.4,938.1 713.6,936.9 714.8,936.0 716.5,935.3 718.1,933.9 719.8,933.5 721.5,929.3 723.2,925.4 724.9,922.0 726.5,916.0 728.8,908.2 729.9,907.7 731.6,907.4 733.3,908.7 734.9,907.0 736.6,908.9 738.3,907.0 740.0,907.4 741.7,910.0 743.3,908.2 745.0,911.8 746.7,910.4 748.4,908.3 750.7,908.2 753.4,904.6 755.1,902.6 756.8,904.7 758.5,899.4 760.1,899.3 761.8,896.4 763.5,894.3 765.2,894.2 766.9,891.9 768.5,890.6 770.2,891.7 771.9,887.1 773.6,884.3 775.3,881.0 776.9,877.9 778.6,875.8 780.3,875.7 782.0,872.6 783.7,870.0 785.3,869.1 787.0,866.7 788.7,863.6 790.4,863.1 792.1,862.4 793.7,859.8 795.4,858.3 797.1,859.4 798.8,860.0 800.5,857.1 802.1,855.0 803.8,854.0 805.5,851.1 807.2,846.7 808.9,842.3 810.5,838.6 812.2,834.3 813.9,830.2 815.5,828.0 817.3,834.1 818.9,841.7 820.6,847.9 822.3,854.1 823.5,858.2 825.7,859.0 827.3,859.9 828.5,860.7 830.7,859.6 832.4,859.5 834.4,858.2 835.7,854.6 837.4,849.6 839.1,844.7 840.8,837.1 842.5,830.3 844.1,832.0 845.8,833.9 847.5,837.1 849.2,841.4 850.9,844.5 852.5,849.4 854.2,857.3 855.9,864.4 857.6,867.7 859.3,872.0 860.9,876.6 862.6,880.9 864.3,885.6 866.0,890.2 867.7,893.7 869.0,899.5 871.0,897.1 872.7,897.0 874.4,896.0 876.1,896.9 877.7,898.1 879.4,902.2 881.1,901.6 882.8,903.0 884.5,903.7 886.1,902.4 887.8,904.1 889.5,902.3 891.2,904.5 892.9,905.9 895.2,907.2 897.9,900.3 899.4,902.1 901.3,905.4 902.9,902.1 905.4,902.1 908.0,898.4 910.1,894.6 911.3,898.5 913.0,902.7 915.5,911.1 918.1,908.2 919.7,906.5 921.4,906.7 923.1,905.8 924.8,907.5 926.5,907.2 928.1,904.2 929.3,899.4 931.5,905.2 934.1,915.8 936.5,908.2 938.2,907.8 940.0,906.1 941.6,909.9 943.3,912.6 945.0,915.6 946.6,916.1 948.3,917.4 950.0,916.4 951.7,919.1 953.3,916.8 955.0,916.3 956.7,916.8 958.4,913.8 960.1,914.3 961.7,916.7 963.4,913.3 965.1,914.8 966.8,913.2 968.5,913.6 970.1,912.9 971.8,916.0 973.5,914.9 976.3,919.6 978.5,914.1 980.2,914.3 981.9,912.4 983.6,912.1 985.3,911.1 986.9,911.0 988.6,913.6 990.3,911.0 992.0,910.4 993.7,908.2 995.3,910.7 997.0,909.2 998.7,908.4 1000.4,911.4 1002.1,907.8 1003.7,910.0 1005.4,907.3 1006.7,907.2 1008.8,904.1 1010.5,900.9 1012.1,899.9 1013.8,896.6 1015.5,893.0 1017.2,892.0 1018.9,889.4 1020.5,888.0 1022.2,891.5 1023.9,884.3 1025.6,883.4 1027.3,880.6 1028.9,877.8 1030.6,875.6 1032.8,871.7 1034.0,873.3 1035.7,877.1 1037.3,876.6 1039.0,880.9 1040.7,881.9 1042.4,884.3 1044.7,886.9 1047.4,887.1 1049.1,887.4 1050.6,887.8 1052.5,885.4 1054.1,885.0 1055.8,880.7 1057.5,875.9 1059.2,868.5 1060.9,861.3 1062.5,855.0 1064.2,843.8 1065.9,830.4 1067.6,806.5 1069.3,762.3 1070.9,719.8 1072.6,679.1 1074.3,630.7 1077.0,598.2 1079.3,653.2 1081.0,694.9 1082.7,736.9 1084.4,772.8 1086.1,804.5 1087.7,832.5 1089.4,847.3 1091.1,857.7 1092.8,861.5 1094.5,864.4 1095.8,867.3 1097.8,867.9 1099.5,867.3 1101.2,868.0 1102.9,868.4 1104.5,871.2 1106.2,870.3 1107.9,869.0 1109.6,870.3 1111.1,871.1 1112.9,869.6 1114.6,868.2 1115.9,867.4 1118.0,870.7 1120.7,875.0 1123.0,875.1 1124.7,874.9 1127.4,875.0 1129.7,871.4 1131.4,873.1 1133.1,866.4 1135.0,863.4 1136.5,864.3 1138.1,864.7 1139.8,866.9 1141.7,867.3 1143.2,866.7 1144.9,866.1 1146.5,864.1 1148.2,864.1 1149.9,862.9 1151.6,858.4 1153.3,859.7 1154.9,858.6 1156.6,856.4 1158.3,853.2 1160.0,850.9 1161.7,847.5 1163.3,842.5 1165.0,835.4 1166.7,818.8 1168.4,805.9 1170.1,797.5 1171.7,788.6 1173.4,778.9 1174.7,777.0 1176.8,789.0 1178.5,802.8 1180.1,815.4 1181.8,828.0 1183.5,834.4 1185.8,842.0 1188.5,838.7 1190.2,837.1 1191.9,835.3 1193.6,833.4 1195.3,832.8 1196.9,832.3 1199.2,830.9 1200.3,833.1 1202.0,835.3 1203.7,839.4 1205.3,843.3 1207.0,843.5 1208.8,844.8 1210.4,841.1 1212.1,837.8 1214.5,832.8 1217.1,832.2 1218.8,831.8 1220.5,832.0 1222.1,831.8 1223.8,831.4 1225.5,828.9 1227.2,824.4 1228.9,828.9 1230.5,828.6 1232.2,828.5 1233.7,829.0 1235.6,833.5 1237.3,837.7 1240.0,846.3 1242.3,845.0 1244.0,846.5 1245.7,847.8 1248.1,850.0 1250.7,842.6 1252.4,843.0 1254.1,847.8 1255.7,838.0 1257.4,834.9 1259.1,824.7 1260.8,814.5 1262.5,803.9 1264.1,793.2 1265.8,786.4 1267.5,782.4 1269.2,779.1 1270.9,778.8 1272.5,778.5 1274.2,778.8 1276.0,778.3 1277.6,781.1 1279.3,784.2 1280.9,787.3 1282.6,804.6 1284.3,800.5 1286.0,796.2 1287.7,804.2 1289.3,809.3 1291.0,815.0 1292.7,820.9 1294.4,827.6 1296.1,834.2 1297.7,838.6 1299.4,843.3 1301.3,850.4 1302.8,848.6 1304.5,849.4 1306.1,849.7 1308.1,850.0 1309.5,845.8 1311.2,847.9 1312.9,848.4 1314.5,847.1 1316.2,844.2 1317.9,847.8 1319.6,852.8 1321.3,849.7 1322.9,853.6 1324.6,851.5 1326.3,852.4 1328.0,852.7 1330.0,853.4 1331.3,852.3 1333.0,850.5 1334.7,848.7 1336.4,848.2 1338.1,844.8 1339.7,846.0 1341.8,845.0 1343.1,847.9 1344.8,839.1 1346.5,835.1 1348.1,830.9 1349.8,827.4 1351.5,824.6 1353.2,822.4 1355.4,819.6 1356.5,819.5 1358.2,819.5 1359.9,819.4 1361.6,819.7 1363.3,819.1 1364.9,822.7 1366.6,824.4 1368.9,826.4 1370.0,825.4 1371.7,823.4 1373.3,821.9 1375.0,814.1 1376.7,803.8 1378.4,800.2 1380.7,796.0 1383.4,796.0 1385.7,796.0 1388.5,812.4 1390.1,823.5 1391.8,831.0 1393.5,836.1 1395.2,846.6 1396.9,844.6 1398.5,847.4 1400.2,848.7 1401.9,852.0 1404.3,859.7 1406.9,857.3 1408.6,857.6 1410.3,858.4 1412.0,857.4 1413.7,859.0 1415.3,861.6 1417.0,859.4 1418.7,858.5 1420.4,860.4 1422.1,861.3 1423.7,860.6 1425.4,861.4 1427.1,861.0 1428.8,861.6 1430.5,860.8 1433.0,859.1 1435.5,866.1 1437.3,871.6 1438.9,870.2 1440.5,869.8 1442.2,870.8 1443.9,872.7 1445.6,871.4 1447.3,870.3 1448.9,869.3 1450.6,872.2 1452.3,873.9 1454.0,872.4 1455.7,873.8 1457.3,872.8 1459.0,872.3 1460.7,870.7 1462.4,873.8 1464.1,872.6 1465.7,874.5 1467.4,872.0 1469.1,872.0 1470.8,871.1 1472.5,872.5 1474.1,875.0 1475.8,874.4 1477.5,874.1 1479.2,875.2 1480.9,874.7 1482.5,873.1 1484.2,874.2 1485.9,875.4 1487.6,874.2 1489.3,874.5 1490.9,872.6 1492.6,872.9 1493.8,870.0 1496.0,873.0 1497.7,877.5 1499.3,875.0 1501.0,876.7 1502.7,875.8 1504.4,877.6 1506.1,876.7 1507.7,878.2 1509.0,878.7 1511.1,877.9 1512.8,876.7 1515.4,873.5 1517.8,876.2 1520.0,881.9 1520.1,880.0 1522.9,880.6 1524.5,881.2 1526.2,881.0 1527.9,882.0 1529.6,879.2 1531.3,882.7 1532.9,880.1 1534.6,881.6 1536.3,879.8 1538.0,882.1 1539.7,884.5 1541.3,882.1 1543.0,882.0 1544.7,879.7 1546.4,882.4 1548.1,881.5 1549.7,881.1 1551.4,882.5 1553.1,883.6 1554.8,882.6 1556.5,881.9 1558.1,883.4 1559.8,882.0 1561.5,881.6 1563.2,883.6 1564.9,885.0 1566.5,883.5 1568.2,881.0 1569.9,882.8 1571.6,878.5 1573.3,882.9 1574.9,885.5 1576.6,881.7 1578.3,875.2 1580.0,881.5 1581.7,886.5 1583.3,881.4 1585.0,881.7 1586.7,881.8 1588.4,881.1 1590.1,879.7 1591.7,879.5 1593.4,880.8 1595.1,879.0 1596.8,881.8 1598.5,879.9 1600.1,878.9 1601.8,880.8 1603.5,879.5 1605.2,879.9 1606.9,877.6 1608.5,879.9 1610.2,881.4 1611.9,878.4 1613.6,877.4 1615.3,877.2 1616.9,879.1 1618.6,872.2 1620.3,878.7 1622.0,883.2 1623.7,878.8 1625.3,879.0 1627.0,878.0 1628.7,878.8 1630.4,878.3 1632.1,877.1 1633.7,878.6 1635.4,873.8 1637.1,878.0 1638.8,878.1 1640.5,878.9 1642.1,880.8 1643.8,878.8 1645.5,877.8 1647.2,877.2 1648.9,878.7 1650.5,878.2 1652.2,878.4 1653.9,875.0 1655.6,878.0 1657.3,878.0 1658.9,884.3 1660.6,878.7 1662.3,877.6 1664.0,879.0 1665.7,879.0 1667.3,877.5 1669.0,878.3 1670.7,879.2 1672.4,877.2 1674.1,878.7 1675.7,882.7 1677.4,878.4 1679.1,875.4 1680.8,877.8 1682.5,878.7 1684.1,878.3 1685.8,877.9 1687.5,878.3 1689.2,872.9 1690.9,878.3 1692.5,878.2 1694.2,881.4 1695.9,878.6 1697.6,878.3 1699.3,877.4 1700.9,879.1 1702.6,877.8 1704.3,878.3 1706.0,886.0 1707.7,877.7 1709.3,876.6 1711.0,877.0 1712.7,877.7 1714.4,875.4 1716.1,878.2 1717.7,879.0 1719.4,877.7 1721.1,879.9 1722.8,877.1 1724.5,873.5 1726.1,877.7 1727.8,877.6 1729.5,878.3 1731.2,877.3 1732.9,880.4 1734.5,877.7 1736.2,875.5 1737.9,877.9 1739.6,878.3 1741.3,877.5 1742.9,876.8 1744.6,877.1 1746.3,879.1 1748.0,876.6 1749.7,878.1 1751.3,876.9 1753.0,880.5 1754.7,877.4 1756.4,878.9 1758.1,877.1 1759.7,880.7 1761.4,876.8 1763.1,878.7 1764.8,877.6 1766.5,881.4 1768.1,877.0 1769.8,876.9 1771.5,871.4 1773.2,876.2 1774.9,878.9 1776.5,876.3 1778.2,872.9 1779.9,875.2 1781.6,872.0 1783.3,874.3 1784.9,874.0 1786.6,874.4 1788.3,873.7 1790.0,873.4 1791.7,872.4 1793.3,872.5 1795.0,873.3 1796.7,871.5 1798.4,871.9 1800.1,872.6 1801.7,872.7 1803.4,870.2 1805.1,872.7 1806.8,872.2 1808.5,876.6 1810.1,873.3 1811.8,869.2 1813.5,873.3 1815.2,873.6"/>
<path stroke-linejoin="miter" stroke-miterlimit="10" d="M133.5,1059.7 135.2,1059.3 136.9,1056.7 138.5,1060.3 140.2,1056.2 141.9,1057.0 143.6,1059.8 145.3,1055.2 146.9,1053.6 148.6,1054.0 150.3,1055.4 152.0,1057.8 153.6,1055.6 155.3,1054.0 157.0,1053.6 158.7,1051.2 160.4,1050.5 162.1,1050.9 163.7,1048.1 165.4,1048.0 167.1,1046.3 168.8,1045.4 170.5,1044.1 172.1,1041.3 173.8,1040.2 175.5,1039.4 177.2,1038.1 178.9,1036.7 180.5,1035.6 182.2,1036.3 183.9,1035.5 185.6,1037.4 187.3,1032.0 188.9,1033.8 190.6,1033.1 192.3,1033.1 194.0,1031.2 195.7,1028.9 197.3,1028.7 199.0,1028.0 200.7,1025.9 202.4,1025.0 204.3,1021.4 205.7,1024.2 207.4,1026.3 209.1,1025.0 210.8,1026.6 212.5,1026.4 214.1,1025.8 215.8,1027.1 217.5,1028.4 219.2,1027.3 220.9,1026.8 222.5,1026.5 224.2,1026.3 225.9,1026.5 227.6,1023.8 229.3,1025.1 230.9,1025.0 232.6,1024.4 234.7,1025.2 236.0,1027.3 237.7,1023.2 239.8,1020.9 241.0,1023.1 242.7,1025.2 244.4,1026.5 246.1,1027.6 247.7,1030.5 249.4,1031.4 251.1,1030.6 252.8,1032.8 254.5,1032.2 256.1,1033.0 257.8,1032.0 259.5,1033.9 261.2,1031.2 262.9,1033.4 264.5,1034.8 266.2,1032.1 267.9,1032.2 269.6,1032.0 271.3,1032.9 272.9,1033.3 274.6,1031.5 276.3,1030.5 278.0,1033.5 279.7,1033.6 281.3,1032.2 283.0,1033.2 285.4,1033.7 288.1,1028.5 289.6,1029.4 291.4,1030.8 293.1,1029.4 294.8,1033.1 296.5,1033.2 298.1,1032.9 299.8,1033.5 301.4,1034.9 303.2,1030.4 306.0,1024.8 308.2,1028.2 309.9,1030.7 311.5,1032.8 313.3,1033.2 314.9,1034.1 316.6,1032.2 318.3,1030.6 320.0,1029.6 321.7,1027.9 323.3,1025.9 325.0,1020.5 326.7,1011.4 328.4,1001.2 330.1,989.9 331.7,985.9 333.4,982.6 334.8,980.7 336.8,983.2 338.5,985.8 340.1,989.7 341.8,1000.0 343.5,1011.1 345.2,1017.6 346.9,1023.8 348.5,1028.0 350.2,1028.0 351.9,1030.7 353.6,1033.3 355.3,1032.2 356.9,1032.0 358.6,1031.7 360.3,1033.8 362.0,1033.4 363.7,1034.3 365.3,1032.3 367.0,1033.0 368.7,1031.9 370.4,1030.9 372.1,1028.5 373.7,1028.9 375.4,1026.7 377.1,1025.3 378.8,1029.1 380.5,1026.5 382.1,1024.1 383.8,1026.4 385.5,1027.0 387.2,1029.7 388.9,1026.9 390.5,1026.5 392.2,1026.1 393.9,1023.9 395.6,1026.5 397.3,1025.4 398.9,1025.3 400.6,1023.0 402.3,1024.2 404.0,1020.9 405.7,1018.2 407.3,1017.9 409.0,1014.6 410.7,1012.5 412.4,1007.8 413.7,1008.3 415.7,1014.4 417.4,1011.3 419.1,1013.1 420.4,1013.4 422.5,1013.4 424.1,1010.3 425.8,1012.4 427.5,1012.0 429.2,1008.8 430.9,1006.8 432.3,1004.8 434.2,1006.4 435.9,1007.1 437.6,1009.3 439.0,1010.0 440.9,1009.0 442.6,1007.4 444.3,1007.4 446.0,1006.2 448.4,1004.5 451.0,1004.5 452.7,1004.9 454.4,1006.0 456.1,1006.7 457.7,1007.1 459.4,1006.7 461.1,1004.5 462.8,1004.8 464.5,1004.0 466.1,1007.4 467.8,1005.8 469.5,1006.4 471.2,1007.2 472.9,1005.4 474.5,1003.6 476.2,1003.7 478.0,1006.1 479.6,1003.5 481.3,1004.9 482.9,1004.5 484.7,1008.7 486.3,1004.3 488.0,1002.0 489.7,1001.7 491.3,998.8 493.0,999.6 494.7,997.7 496.4,995.6 498.1,994.1 499.7,990.7 501.4,986.5 503.1,981.1 504.8,972.8 506.5,963.3 508.1,952.4 509.8,943.7 511.5,937.5 513.2,932.5 514.9,931.3 516.8,929.3 518.2,929.9 519.9,930.2 521.6,930.3 522.7,930.2 524.9,933.9 526.6,937.2 528.3,940.6 530.0,947.1 531.7,953.8 533.3,960.6 535.0,966.8 536.7,973.3 538.4,976.6 540.1,981.5 541.7,988.5 543.4,986.4 545.1,984.0 546.8,990.0 548.5,991.4 550.1,993.3 551.8,992.7 553.5,994.4 555.2,995.2 556.9,994.7 558.5,994.4 560.2,994.8 561.9,993.8 563.3,993.5 565.3,994.6 567.5,996.5 568.6,993.4 571.2,986.8 573.7,989.8 575.3,991.8 576.8,992.6 578.7,994.4 580.4,989.7 582.1,988.4 583.5,987.6 585.4,987.6 587.1,988.3 588.8,987.6 590.5,988.9 592.0,989.3 593.8,986.6 595.5,984.3 597.2,981.9 598.9,980.1 600.5,978.5 602.2,977.2 603.8,975.7 605.6,976.2 607.3,976.5 608.9,975.4 610.6,977.4 612.3,974.1 614.0,974.0 615.7,976.9 617.3,977.0 619.0,977.3 620.7,976.9 622.4,976.1 624.1,978.0 625.7,969.2 627.1,963.6 629.1,965.7 630.8,969.1 632.5,967.9 634.1,968.8 635.8,970.3 637.5,970.0 639.2,967.5 640.9,970.1 642.5,974.2 644.2,969.7 645.9,969.7 647.6,967.5 649.3,967.6 650.9,968.2 652.6,967.6 654.3,966.5 656.0,967.1 657.7,966.9 659.3,964.7 661.0,965.5 662.7,962.3 664.4,961.5 666.1,962.9 667.7,960.6 669.4,959.8 671.1,957.6 673.9,951.4 676.1,953.4 677.8,960.0 679.8,955.5 681.2,957.0 682.9,953.2 684.5,950.1 686.2,951.3 687.9,950.5 689.6,950.7 691.3,948.8 692.9,947.4 694.6,947.6 696.3,945.1 698.0,941.1 699.7,941.4 701.3,939.2 703.0,939.5 704.7,937.0 706.4,937.2 708.1,936.4 709.7,936.6 711.4,938.1 713.6,936.9 714.8,936.0 716.5,935.3 718.1,933.9 719.8,933.5 721.5,929.3 723.2,925.4 724.9,922.0 726.5,916.0 728.8,908.2 729.9,907.7 731.6,907.4 733.3,908.7 734.9,907.0 736.6,908.9 738.3,907.0 740.0,907.4 741.7,910.0 743.3,908.2 745.0,911.8 746.7,910.4 748.4,908.3 750.7,908.2 753.4,904.6 755.1,902.6 756.8,904.7 758.5,899.4 760.1,899.3 761.8,896.4 763.5,894.3 765.2,894.2 766.9,891.9 768.5,890.6 770.2,891.7 771.9,887.1 773.6,884.3 775.3,881.0 776.9,877.9 778.6,875.8 780.3,875.7 782.0,872.6 783.7,870.0 785.3,869.1 787.0,866.7 788.7,863.6 790.4,863.1 792.1,862.4 793.7,859.8 795.4,858.3 797.1,859.4 798.8,860.0 800.5,857.1 802.1,855.0 803.8,854.0 805.5,851.1 807.2,846.7 808.9,842.3 810.5,838.6 812.2,834.3 813.9,830.2 815.5,828.0 817.3,834.1 818.9,841.7 820.6,847.9 822.3,854.1 823.5,858.2 825.7,859.0 827.3,859.9 828.5,860.7 830.7,859.6 832.4,859.5 834.4,858.2 835.7,854.6 837.4,849.6 839.1,844.7 840.8,837.1 842.5,830.3 844.1,832.0 845.8,833.9 847.5,837.1 849.2,841.4 850.9,844.5 852.5,849.4 854.2,857.3 855.9,864.4 857.6,867.7 859.3,872.0 860.9,876.6 862.6,880.9 864.3,885.6 866.0,890.2 867.7,893.7 869.0,899.5 871.0,897.1 872.7,897.0 874.4,896.0 876.1,896.9 877.7,898.1 879.4,902.2 881.1,901.6 882.8,903.0 884.5,903.7 886.1,902.4 887.8,904.1 889.5,902.3 891.2,904.5 892.9,905.9 895.2,907.2 897.9,900.3 899.4,902.1 901.3,905.4 902.9,902.1 905.4,902.1 908.0,898.4 910.1,894.6 911.3,898.5 913.0,902.7 915.5,911.1 918.1,908.2 919.7,906.5 921.4,906.7 923.1,905.8 924.8,907.5 926.5,907.2 928.1,904.2 929.3,899.4 931.5,905.2 934.1,915.8 936.5,908.2 938.2,907.8 940.0,906.1 941.6,909.9 943.3,912.6 945.0,915.6 946.6,916.1 948.3,917.4 950.0,916.4 951.7,919.1 953.3,916.8 955.0,916.3 956.7,916.8 958.4,913.8 960.1,914.3 961.7,916.7 963.4,913.3 965.1,914.8 966.8,913.2 968.5,913.6 970.1,912.9 971.8,916.0 973.5,914.9 976.3,919.6 978.5,914.1 980.2,914.3 981.9,912.4 983.6,912.1 985.3,911.1 986.9,911.0 988.6,913.6 990.3,911.0 992.0,910.4 993.7,908.2 995.3,910.7 997.0,909.2 998.7,908.4 1000.4,911.4 1002.1,907.8 1003.7,910.0 1005.4,907.3 1006.7,907.2 1008.8,904.1 1010.5,900.9 1012.1,899.9 1013.8,896.6 1015.5,893.0 1017.2,892.0 1018.9,889.4 1020.5,888.0 1022.2,891.5 1023.9,884.3 1025.6,883.4 1027.3,880.6 1028.9,877.8 1030.6,875.6 1032.8,871.7 1034.0,873.3 1035.7,877.1 1037.3,876.6 1039.0,880.9 1040.7,881.9 1042.4,884.3 1044.7,886.9 1047.4,887.1 1049.1,887.4 1050.6,887.8 1052.5,885.4 1054.1,885.0 1055.8,880.7 1057.5,875.9 1059.2,868.5 1060.9,861.3 1062.5,855.0 1064.2,843.8 1065.9,830.4 1067.6,806.5 1069.3,762.3 1070.9,719.8 1072.6,679.1 1074.3,630.7 1077.0,598.2 1079.3,653.2 1081.0,694.9 1082.7,736.9 1084.4,772.8 1086.1,804.5 1087.7,832.5 1089.4,847.3 1091.1,857.7 1092.8,861.5 1094.5,864.4 1095.8,867.3 1097.8,867.9 1099.5,867.3 1101.2,868.0 1102.9,868.4 1104.5,871.2 1106.2,870.3 1107.9,869.0 1109.6,870.3 1111.1,871.1 1112.9,869.6 1114.6,868.2 1115.9,867.4 1118.0,870.7 1120.7,875.0 1123.0,875.1 1124.7,874.9 1127.4,875.0 1129.7,871.4 1131.4,873.1 1133.1,866.4 1135.0,863.4 1136.5,864.3 1138.1,864.7 1139.8,866.9 1141.7,867.3 1143.2,866.7 1144.9,866.1 1146.5,864.1 1148.2,864.1 1149.9,862.9 1151.6,858.4 1153.3,859.7 1154.9,858.6 1156.6,856.4 1158.3,853.2 1160.0,850.9 1161.7,847.5 1163.3,842.5 1165.0,835.4 1166.7,818.8 1168.4,805.9 1170.1,797.5 1171.7,788.6 1173.4,778.9 1174.7,777.0 1176.8,789.0 1178.5,802.8 1180.1,815.4 1181.8,828.0 1183.5,834.4 1185.8,842.0 1188.5,838.7 1190.2,837.1 1191.9,835.3 1193.6,833.4 1195.3,832.8 1196.9,832.3 1199.2,830.9 1200.3,833.1 1202.0,835.3 1203.7,839.4 1205.3,843.3 1207.0,843.5 1208.8,844.8 1210.4,841.1 1212.1,837.8 1214.5,832.8 1217.1,832.2 1218.8,831.8 1220.5,832.0 1222.1,831.8 1223.8,831.4 1225.5,828.9 1227.2,824.4 1228.9,828.9 1230.5,828.6 1232.2,828.5 1233.7,829.0 1235.6,833.5 1237.3,837.7 1240.0,846.3 1242.3,845.0 1244.0,846.5 1245.7,847.8 1248.1,850.0 1250.7,842.6 1252.4,843.0 1254.1,847.8 1255.7,838.0 1257.4,834.9 1259.1,824.7 1260.8,814.5 1262.5,803.9 1264.1,793.2 1265.8,786.4 1267.5,782.4 1269.2,779.1 1270.9,778.8 1272.5,778.5 1274.2,778.8 1276.0,778.3 1277.6,781.1 1279.3,784.2 1280.9,787.3 1282.6,804.6 1284.3,800.5 1286.0,796.2 1287.7,804.2 1289.3,809.3 1291.0,815.0 1292.7,820.9 1294.4,827.6 1296.1,834.2 1297.7,838.6 1299.4,843.3 1301.3,850.4 1302.8,848.6 1304.5,849.4 1306.1,849.7 1308.1,850.0 1309.5,845.8 1311.2,847.9 1312.9,848.4 1314.5,847.1 1316.2,844.2 1317.9,847.8 1319.6,852.8 1321.3,849.7 1322.9,853.6 1324.6,851.5 1326.3,852.4 1328.0,852.7 1330.0,853.4 1331.3,852.3 1333.0,850.5 1334.7,848.7 1336.4,848.2 1338.1,844.8 1339.7,846.0 1341.8,845.0 1343.1,847.9 1344.8,839.1 1346.5,835.1 1348.1,830.9 1349.8,827.4 1351.5,824.6 1353.2,822.4 1355.4,819.6 1356.5,819.5 1358.2,819.5 1359.9,819.4 1361.6,819.7 1363.3,819.1 1364.9,822.7 1366.6,824.4 1368.9,826.4 1370.0,825.4 1371.7,823.4 1373.3,821.9 1375.0,814.1 1376.7,803.8 1378.4,800.2 1380.7,796.0 1383.4,796.0 1385.7,796.0 1388.5,812.4 1390.1,823.5 1391.8,831.0 1393.5,836.1 1395.2,846.6 1396.9,844.6 1398.5,847.4 1400.2,848.7 1401.9,852.0 1404.3,859.7 1406.9,857.3 1408.6,857.6 1410.3,858.4 1412.0,857.4 1413.7,859.0 1415.3,861.6 1417.0,859.4 1418.7,858.5 1420.4,860.4 1422.1,861.3 1423.7,860.6 1425.4,861.4 1427.1,861.0 1428.8,861.6 1430.5,860.8 1433.0,859.1 1435.5,866.1 1437.3,871.6 1438.9,870.2 1440.5,869.8 1442.2,870.8 1443.9,872.7 1445.6,871.4 1447.3,870.3 1448.9,869.3 1450.6,872.2 1452.3,873.9 1454.0,872.4 1455.7,873.8 1457.3,872.8 1459.0,872.3 1460.7,870.7 1462.4,873.8 1464.1,872.6 1465.7,874.5 1467.4,872.0 1469.1,872.0 1470.8,871.1 1472.5,872.5 1474.1,875.0 1475.8,874.4 1477.5,874.1 1479.2,875.2 1480.9,874.7 1482.5,873.1 1484.2,874.2 1485.9,875.4 1487.6,874.2 1489.3,874.5 1490.9,872.6 1492.6,872.9 1493.8,870.0 1496.0,873.0 1497.7,877.5 1499.3,875.0 1501.0,876.7 1502.7,875.8 1504.4,877.6 1506.1,876.7 1507.7,878.2 1509.0,878.7 1511.1,877.9 1512.8,876.7 1515.4,873.5 1517.8,876.2 1520.0,881.9 1520.1,880.0 1522.9,880.6 1524.5,881.2 1526.2,881.0 1527.9,882.0 1529.6,879.2 1531.3,882.7 1532.9,880.1 1534.6,881.6 1536.3,879.8 1538.0,882.1 1539.7,884.5 1541.3,882.1 1543.0,882.0 1544.7,879.7 1546.4,882.4 1548.1,881.5 1549.7,881.1 1551.4,882.5 1553.1,883.6 1554.8,882.6 1556.5,881.9 1558.1,883.4 1559.8,882.0 1561.5,881.6 1563.2,883.6 1564.9,885.0 1566.5,883.5 1568.2,881.0 1569.9,882.8 1571.6,878.5 1573.3,882.9 1574.9,885.5 1576.6,881.7 1578.3,875.2 1580.0,881.5 1581.7,886.5 1583.3,881.4 1585.0,881.7 1586.7,881.8 1588.4,881.1 1590.1,879.7 1591.7,879.5 1593.4,880.8 1595.1,879.0 1596.8,881.8 1598.5,879.9 1600.1,878.9 1601.8,880.8 1603.5,879.5 1605.2,879.9 1606.9,877.6 1608.5,879.9 1610.2,881.4 1611.9,878.4 1613.6,877.4 1615.3,877.2 1616.9,879.1 1618.6,872.2 1620.3,878.7 1622.0,883.2 1623.7,878.8 1625.3,879.0 1627.0,878.0 1628.7,878.8 1630.4,878.3 1632.1,877.1 1633.7,878.6 1635.4,873.8 1637.1,878.0 1638.8,878.1 1640.5,878.9 1642.1,880.8 1643.8,878.8 1645.5,877.8 1647.2,877.2 1648.9,878.7 1650.5,878.2 1652.2,878.4 1653.9,875.0 1655.6,878.0 1657.3,878.0 1658.9,884.3 1660.6,878.7 1662.3,877.6 1664.0,879.0 1665.7,879.0 1667.3,877.5 1669.0,878.3 1670.7,879.2 1672.4,877.2 1674.1,878.7 1675.7,882.7 1677.4,878.4 1679.1,875.4 1680.8,877.8 1682.5,878.7 1684.1,878.3 1685.8,877.9 1687.5,878.3 1689.2,872.9 1690.9,878.3 1692.5,878.2 1694.2,881.4 1695.9,878.6 1697.6,878.3 1699.3,877.4 1700.9,879.1 1702.6,877.8 1704.3,878.3 1706.0,886.0 1707.7,877.7 1709.3,876.6 1711.0,877.0 1712.7,877.7 1714.4,875.4 1716.1,878.2 1717.7,879.0 1719.4,877.7 1721.1,879.9 1722.8,877.1 1724.5,873.5 1726.1,877.7 1727.8,877.6 1729.5,878.3 1731.2,877.3 1732.9,880.4 1734.5,877.7 1736.2,875.5 1737.9,877.9 1739.6,878.3 1741.3,877.5 1742.9,876.8 1744.6,877.1 1746.3,879.1 1748.0,876.6 1749.7,878.1 1751.3,876.9 1753.0,880.5 1754.7,877.4 1756.4,878.9 1758.1,877.1 1759.7,880.7 1761.4,876.8 1763.1,878.7 1764.8,877.6 1766.5,881.4 1768.1,877.0 1769.8,876.9 1771.5,871.4 1773.2,876.2 1774.9,878.9 1776.5,876.3 1778.2,872.9 1779.9,875.2 1781.6,872.0 1783.3,874.3 1784.9,874.0 1786.6,874.4 1788.3,873.7 1790.0,873.4 1791.7,872.4 1793.3,872.5 1795.0,873.3 1796.7,871.5 1798.4,871.9 1800.1,872.6 1801.7,872.7 1803.4,870.2 1805.1,872.7 1806.8,872.2 1808.5,876.6 1810.1,873.3 1811.8,869.2 1813.5,873.3 1815.2,873.6"/>
</g>
<g stroke="#00ff00">
<path stroke-linejoin="bevel" transform="translate(0,-1.5)" d="M133.5,1317.8 135.2,1316.6 136.9,1314.9 138.5,1311.4 140.2,1312.0 141.9,1311.1 143.6,1310.5 145.3,1309.0 146.9,1309.0 148.6,1305.6 150.3,1307.8 152.0,1309.9 153.7,1308.0 155.3,1309.4 157.0,1306.0 158.7,1304.2 160.4,1302.7 162.1,1300.2 163.7,1301.5 165.4,1297.2 167.1,1294.6 168.8,1293.0 170.5,1288.9 172.1,1290.4 173.8,1289.1 175.5,1289.5 177.2,1290.7 179.0,1290.4 180.5,1293.0 182.2,1286.3 183.9,1284.5 185.7,1282.0 187.3,1281.2 188.9,1280.5 190.6,1280.0 192.3,1277.8 194.0,1279.2 195.7,1278.0 197.3,1278.3 199.0,1279.7 200.7,1274.9 202.4,1274.4 204.1,1272.0 206.0,1266.9 207.4,1270.8 209.1,1275.6 210.8,1272.2 212.5,1273.4 214.1,1270.4 215.8,1272.6 217.5,1273.9 219.2,1273.3 220.9,1273.3 222.5,1272.8 224.2,1272.7 225.9,1268.9 227.6,1270.8 229.3,1266.8 230.9,1267.8 232.6,1265.6 234.3,1268.9 236.0,1268.8 237.7,1266.3 239.3,1268.4 241.0,1265.2 242.7,1266.4 244.4,1266.6 246.1,1265.2 247.7,1267.3 249.4,1269.3 251.1,1265.4 252.8,1267.9 254.5,1266.6 256.1,1268.1 257.8,1264.9 260.0,1261.3 261.2,1263.8 262.9,1268.3 264.5,1264.0 266.2,1266.8 267.9,1263.2 269.6,1265.0 271.3,1265.3 272.9,1264.0 274.6,1266.2 276.3,1263.3 278.0,1262.0 279.7,1260.1 281.3,1257.5 283.0,1258.1 284.7,1257.3 286.4,1256.7 288.7,1253.8 291.4,1255.3 293.1,1253.7 294.8,1255.7 296.5,1256.6 298.1,1254.4 299.8,1255.0 301.5,1256.0 303.2,1253.5 304.9,1254.8 306.5,1259.2 309.0,1256.6 311.6,1259.2 313.3,1252.0 314.9,1250.0 316.6,1246.8 318.3,1248.7 320.0,1249.4 321.7,1249.1 324.2,1249.9 326.7,1252.8 328.4,1246.6 330.1,1244.2 331.7,1243.6 334.3,1239.6 336.8,1241.8 338.5,1240.8 340.1,1243.8 341.8,1241.3 343.5,1242.6 345.2,1240.6 346.9,1238.9 348.5,1240.9 350.2,1240.3 351.9,1236.5 353.6,1240.7 355.3,1246.4 356.9,1241.7 358.6,1242.5 360.3,1245.4 362.0,1243.5 363.7,1241.3 365.3,1242.1 367.0,1240.3 368.7,1239.6 370.4,1239.8 372.1,1236.9 373.7,1236.0 375.7,1232.3 377.1,1235.5 378.8,1239.8 380.5,1237.6 381.6,1238.1 383.8,1236.0 385.5,1234.0 388.0,1228.8 390.5,1231.4 392.2,1232.0 393.9,1231.0 395.6,1232.8 397.3,1229.4 398.9,1228.7 400.6,1227.5 402.3,1226.8 404.0,1224.4 405.7,1224.7 407.3,1224.1 409.0,1225.0 410.7,1222.3 412.4,1222.5 414.1,1223.6 415.7,1218.7 417.4,1220.2 419.1,1215.7 420.8,1213.8 422.5,1211.3 424.1,1213.3 425.8,1213.8 427.5,1214.1 429.2,1212.0 430.9,1212.8 432.5,1213.7 434.8,1217.9 435.9,1213.3 437.6,1210.6 439.3,1210.3 440.9,1210.1 442.6,1208.2 444.3,1207.9 446.0,1205.3 447.7,1202.5 449.3,1201.9 451.0,1199.0 452.7,1199.9 454.4,1200.2 456.1,1202.9 457.7,1200.0 459.4,1198.8 461.1,1198.6 462.8,1198.6 464.5,1203.3 466.1,1197.7 467.8,1196.6 469.5,1193.8 471.2,1196.0 472.9,1193.4 474.5,1189.1 476.2,1192.4 477.9,1198.6 479.6,1193.4 482.2,1189.4 484.6,1192.1 486.3,1197.5 488.0,1189.8 489.7,1189.3 491.3,1186.9 493.0,1189.7 494.7,1185.4 496.4,1184.2 498.1,1186.5 499.7,1182.5 501.4,1182.8 503.1,1178.5 504.8,1176.9 506.5,1174.1 508.1,1168.5 509.8,1163.6 511.5,1159.2 513.2,1156.7 514.9,1154.7 516.5,1152.5 518.2,1154.7 519.9,1152.1 521.1,1151.3 523.3,1155.2 524.9,1158.2 526.6,1161.4 528.3,1163.6 530.0,1167.5 531.7,1169.0 533.3,1172.4 535.0,1170.7 536.7,1174.2 538.4,1172.5 540.1,1173.4 541.7,1173.3 543.4,1174.9 545.1,1173.7 546.8,1175.1 548.5,1175.6 549.8,1170.8 551.8,1173.4 553.5,1178.5 555.2,1170.5 556.9,1169.1 558.5,1167.8 559.9,1165.4 561.9,1167.4 563.6,1170.0 565.3,1165.4 566.9,1167.8 568.6,1168.4 570.3,1166.5 572.0,1167.1 573.7,1165.9 575.3,1164.3 577.0,1164.1 578.5,1161.8 580.4,1162.3 582.1,1164.4 583.7,1162.9 585.4,1164.7 587.1,1164.3 589.4,1167.3 592.1,1160.5 593.8,1158.3 595.5,1155.0 597.2,1151.4 598.9,1150.7 600.5,1146.6 602.2,1146.4 603.9,1143.7 605.6,1141.6 607.2,1138.3 609.7,1148.3 612.3,1151.8 614.0,1145.5 615.7,1143.6 617.3,1143.6 619.0,1142.4 620.7,1142.3 622.4,1139.7 624.1,1142.1 625.7,1141.3 627.4,1137.1 629.1,1136.1 630.8,1133.7 632.5,1135.8 634.1,1138.8 635.8,1136.9 637.6,1138.2 639.2,1132.5 640.4,1125.3 642.5,1129.8 644.2,1138.7 646.0,1133.1 647.6,1133.4 649.3,1133.7 650.9,1130.8 652.6,1130.5 654.3,1130.7 656.0,1131.8 657.7,1127.9 659.3,1125.9 661.0,1126.1 662.7,1125.3 664.4,1122.8 666.1,1124.0 667.7,1121.1 669.4,1120.0 671.1,1117.1 672.8,1117.5 674.5,1117.0 676.1,1116.5 678.1,1119.1 679.5,1113.8 681.2,1111.1 683.2,1107.8 684.5,1108.9 686.2,1109.0 687.9,1109.1 689.9,1110.8 691.3,1108.3 692.9,1104.5 694.6,1105.4 696.3,1105.4 698.0,1103.1 699.7,1102.6 701.3,1101.4 703.0,1097.3 704.7,1098.0 706.4,1098.6 708.1,1094.7 709.7,1092.0 711.4,1093.4 713.1,1092.3 714.8,1092.5 716.5,1090.1 718.1,1090.0 719.8,1086.0 721.5,1088.1 723.2,1087.5 724.9,1085.8 726.5,1081.2 728.2,1081.7 729.9,1076.6 731.6,1078.3 733.3,1076.2 734.9,1073.4 736.6,1073.8 738.3,1072.5 740.0,1072.6 741.7,1070.5 743.3,1069.6 745.0,1065.5 746.7,1065.0 748.4,1060.1 750.1,1061.6 751.7,1060.2 753.4,1060.9 755.1,1057.4 756.8,1060.9 758.5,1054.5 760.1,1052.0 761.8,1050.7 763.5,1047.5 765.2,1048.1 766.9,1044.3 768.5,1044.3 770.2,1041.3 771.9,1041.4 773.6,1036.4 775.3,1036.9 776.9,1034.2 778.6,1032.0 780.3,1029.8 782.0,1024.9 783.7,1022.0 785.3,1018.8 787.1,1012.4 788.7,1013.7 790.4,1019.3 792.1,1012.6 793.7,1012.3 795.4,1010.6 797.1,1013.3 798.8,1018.0 800.5,1013.7 802.1,1014.2 803.8,1013.2 805.5,1009.3 807.2,1011.3 808.9,1011.2 810.5,1012.3 812.2,1013.4 813.9,1010.9 815.6,1009.5 816.7,1007.8 818.9,1013.1 820.6,1016.7 822.3,1020.3 824.0,1018.6 825.7,1020.9 827.3,1022.5 829.0,1024.8 830.7,1022.7 832.4,1026.5 834.1,1024.9 835.7,1026.0 837.4,1026.9 839.1,1030.4 840.8,1031.9 842.5,1031.6 844.1,1034.9 845.8,1033.1 847.5,1034.8 849.2,1035.3 850.9,1037.5 852.5,1040.8 854.2,1040.8 855.9,1039.6 857.6,1043.5 859.3,1047.4 860.9,1045.7 862.6,1047.3 864.3,1046.3 866.0,1050.6 867.7,1050.0 869.3,1053.4 871.0,1054.6 872.7,1052.0 874.4,1054.8 876.1,1055.8 877.7,1057.1 879.4,1055.2 881.1,1057.8 882.8,1059.3 884.5,1058.4 886.1,1060.4 887.8,1059.2 889.5,1063.6 891.2,1062.6 892.9,1060.3 894.5,1064.8 896.2,1064.0 897.9,1066.3 899.6,1066.1 901.3,1069.1 902.9,1068.4 904.6,1068.3 906.3,1071.3 908.0,1070.5 909.7,1069.3 911.3,1072.3 913.0,1069.3 914.7,1068.9 916.4,1069.5 918.1,1073.3 919.7,1068.7 921.4,1069.5 923.1,1065.9 924.8,1068.3 926.5,1066.3 928.1,1067.2 929.8,1069.2 931.5,1065.5 933.2,1068.5 934.9,1072.6 936.5,1069.1 938.2,1064.9 939.9,1069.5 941.6,1076.0 943.3,1070.2 944.9,1070.7 946.6,1069.5 948.3,1067.6 950.1,1063.9 951.7,1067.5 953.3,1072.2 955.0,1069.8 956.7,1071.3 958.4,1072.2 960.1,1069.9 961.7,1069.3 963.4,1072.0 965.1,1069.3 966.8,1064.8 968.5,1065.9 970.1,1064.8 971.8,1062.2 973.5,1064.1 975.2,1062.2 976.9,1060.6 978.5,1065.2 980.2,1062.8 981.9,1060.3 983.6,1062.4 985.3,1056.4 986.9,1062.8 988.6,1058.2 990.3,1055.7 992.0,1058.4 993.7,1059.8 995.3,1061.1 997.0,1058.0 998.7,1061.4 1000.4,1058.9 1002.1,1057.8 1003.7,1058.3 1005.4,1057.9 1006.7,1058.2 1008.8,1061.3 1010.5,1053.1 1012.1,1051.1 1014.3,1046.1 1015.5,1047.6 1017.2,1043.7 1018.9,1045.7 1020.5,1047.2 1022.2,1046.1 1023.9,1043.3 1025.6,1045.2 1027.3,1039.1 1028.9,1040.5 1030.3,1038.3 1032.3,1041.9 1034.0,1046.4 1035.4,1044.7 1037.3,1042.8 1038.8,1039.7 1040.7,1043.4 1042.4,1044.3 1044.1,1045.3 1045.7,1048.3 1047.2,1051.8 1049.1,1049.3 1050.8,1052.3 1052.5,1046.2 1054.1,1046.0 1055.8,1046.0 1057.5,1042.8 1059.2,1040.6 1060.9,1037.7 1062.5,1034.4 1064.2,1032.7 1065.9,1028.0 1067.6,1023.7 1069.3,1019.2 1070.9,1015.4 1072.6,1011.1 1074.3,1006.4 1076.0,1005.7 1078.6,1001.3 1081.0,1007.8 1082.7,1021.0 1084.4,1016.9 1086.1,1022.4 1087.7,1033.0 1089.4,1028.2 1091.1,1030.7 1092.8,1033.0 1094.5,1032.8 1096.1,1031.5 1097.8,1034.3 1099.5,1033.6 1101.2,1036.9 1102.9,1035.7 1104.5,1033.3 1106.2,1034.4 1107.9,1036.9 1109.6,1037.5 1112.3,1040.7 1114.6,1036.6 1116.3,1035.0 1118.3,1032.5 1119.7,1034.4 1121.3,1036.2 1123.0,1034.6 1124.7,1037.8 1126.4,1039.3 1128.1,1040.1 1129.6,1040.2 1131.4,1032.2 1133.1,1033.7 1134.3,1040.8 1136.5,1032.2 1138.1,1035.7 1139.8,1034.4 1141.1,1033.4 1143.2,1032.3 1144.9,1031.2 1146.5,1027.8 1148.2,1030.5 1149.9,1034.6 1151.6,1032.1 1153.3,1032.3 1154.6,1031.7 1156.6,1030.0 1158.3,1032.4 1160.0,1027.7 1161.3,1025.4 1163.3,1027.9 1165.0,1028.5 1167.2,1033.6 1168.4,1028.8 1170.1,1027.3 1171.7,1025.1 1173.4,1021.5 1175.1,1021.2 1177.7,1015.5 1180.1,1023.4 1181.8,1026.9 1183.3,1031.5 1185.2,1029.9 1186.9,1030.1 1188.5,1030.7 1190.2,1031.3 1191.9,1031.5 1193.6,1028.8 1195.3,1028.2 1197.6,1028.3 1200.3,1026.0 1201.5,1022.4 1203.7,1027.4 1205.3,1034.2 1207.8,1031.7 1210.4,1029.8 1212.1,1024.5 1213.7,1028.1 1215.4,1034.4 1217.1,1027.9 1218.8,1027.7 1220.5,1026.6 1222.1,1030.3 1223.8,1026.4 1225.5,1023.6 1227.2,1024.4 1228.9,1027.7 1230.5,1025.3 1232.2,1028.3 1233.9,1024.1 1235.6,1022.3 1237.3,1024.1 1238.9,1023.5 1241.5,1023.3 1244.9,1013.4 1247.3,1016.3 1249.0,1022.3 1250.7,1018.3 1252.4,1020.1 1254.1,1020.2 1255.7,1017.4 1257.4,1022.6 1259.1,1019.3 1260.8,1015.6 1262.5,1017.5 1264.1,1012.6 1265.8,1014.9 1267.5,1009.9 1269.2,1011.5 1271.1,1009.8 1272.5,1010.8 1274.2,1012.0 1275.9,1011.2 1277.8,1011.4 1279.3,1011.0 1280.9,1008.9 1282.6,1006.3 1284.3,1012.5 1286.0,1016.7 1288.0,1025.3 1289.3,1018.8 1291.0,1014.8 1292.5,1010.0 1294.4,1013.2 1296.1,1015.4 1297.7,1013.7 1299.4,1018.4 1301.1,1017.6 1302.8,1018.8 1304.8,1021.6 1306.1,1021.2 1307.8,1021.4 1309.5,1020.6 1311.2,1021.9 1312.9,1019.9 1314.5,1020.1 1316.2,1023.2 1317.9,1021.1 1319.6,1021.7 1321.7,1021.6 1322.9,1019.8 1324.6,1017.3 1326.3,1021.7 1328.0,1017.5 1329.7,1013.7 1331.3,1017.5 1333.0,1020.1 1334.7,1019.0 1336.4,1019.6 1338.1,1022.1 1339.5,1025.0 1341.4,1022.4 1343.1,1021.0 1344.8,1022.0 1346.5,1019.6 1348.8,1018.2 1351.5,1019.0 1353.2,1019.3 1355.5,1019.9 1358.2,1016.7 1359.9,1014.3 1362.3,1007.9 1364.9,1012.8 1366.6,1014.5 1368.3,1014.8 1370.0,1015.7 1371.7,1011.9 1373.3,1015.6 1375.0,1017.5 1376.7,1014.0 1378.4,1016.5 1380.1,1015.3 1381.7,1015.4 1383.4,1011.2 1385.1,1016.8 1386.8,1014.6 1388.5,1016.2 1390.1,1018.1 1391.8,1021.0 1393.5,1018.6 1395.2,1017.6 1396.9,1019.7 1398.5,1021.1 1400.2,1020.1 1401.9,1022.7 1403.6,1019.7 1405.3,1013.4 1406.9,1020.1 1408.6,1024.8 1410.3,1021.6 1412.0,1017.8 1413.7,1020.9 1415.3,1024.9 1417.0,1030.6 1418.7,1026.5 1420.4,1028.9 1422.1,1027.7 1423.7,1021.5 1425.4,1029.3 1427.1,1032.3 1428.8,1029.0 1430.5,1026.8 1432.1,1027.0 1433.8,1029.8 1435.5,1030.1 1437.2,1029.6 1438.9,1025.4 1440.5,1030.4 1442.2,1030.2 1443.9,1030.5 1445.6,1034.7 1447.3,1035.5 1448.9,1035.0 1450.6,1032.3 1452.3,1036.0 1454.0,1040.3 1455.7,1035.8 1457.3,1035.1 1459.0,1038.1 1460.7,1038.2 1462.4,1037.3 1464.1,1038.0 1465.7,1037.7 1467.4,1037.3 1469.1,1032.2 1470.8,1037.0 1472.5,1040.7 1474.1,1037.5 1475.8,1042.2 1477.5,1038.5 1479.2,1038.0 1480.9,1033.3 1482.5,1038.1 1484.2,1038.1 1485.9,1041.5 1487.6,1038.4 1489.3,1040.3 1490.9,1037.6 1492.6,1040.0 1494.3,1041.4 1496.0,1039.3 1497.7,1033.0 1499.3,1040.8 1501.0,1040.4 1502.7,1040.4 1504.4,1038.0 1506.1,1044.3 1507.7,1040.4 1509.4,1041.8 1511.1,1046.0 1512.8,1041.9 1514.5,1043.8 1516.1,1037.2 1517.8,1044.1 1519.5,1046.7 1521.2,1043.5 1522.9,1040.6 1524.5,1047.4 1526.2,1043.6 1527.9,1043.6 1529.6,1047.9 1531.3,1044.5 1532.9,1040.8 1534.6,1044.9 1536.3,1048.7 1538.0,1044.6 1539.7,1044.9 1541.3,1048.6 1543.0,1045.7 1544.7,1040.8 1546.4,1041.3 1548.1,1045.9 1549.7,1045.0 1551.4,1044.5 1553.1,1047.3 1554.8,1041.7 1556.5,1045.9 1558.1,1036.2 1559.8,1045.6 1561.5,1051.3 1563.2,1045.7 1564.9,1044.7 1566.5,1044.1 1568.2,1045.7 1569.9,1040.3 1571.6,1044.5 1573.3,1046.0 1574.9,1048.6 1576.6,1045.7 1578.3,1044.8 1580.0,1044.7 1581.7,1039.8 1583.3,1043.6 1585.0,1044.1 1586.7,1043.9 1588.4,1046.0 1590.1,1044.6 1591.7,1040.1 1593.4,1041.5 1595.1,1041.6 1596.8,1045.4 1598.5,1042.5 1600.1,1037.7 1601.8,1041.8 1603.5,1040.6 1605.2,1039.4 1606.9,1042.5 1608.5,1039.1 1610.2,1042.4 1611.9,1040.5 1613.6,1046.2 1615.3,1039.9 1616.9,1037.7 1618.6,1041.7 1620.3,1044.5 1622.0,1042.3 1623.7,1039.8 1625.3,1043.0 1627.0,1045.3 1628.7,1040.1 1630.4,1040.4 1632.1,1038.4 1633.7,1042.0 1635.4,1035.2 1637.1,1042.3 1638.8,1045.8 1640.5,1042.7 1642.1,1042.1 1643.8,1043.7 1645.5,1039.9 1647.2,1040.3 1648.9,1042.3 1650.5,1040.2 1652.2,1043.0 1653.9,1044.6 1655.6,1042.7 1657.3,1040.4 1658.9,1041.4 1660.6,1044.0 1662.3,1041.4 1664.0,1042.0 1665.7,1041.3 1667.3,1042.0 1669.0,1042.5 1670.7,1036.2 1672.4,1041.0 1674.1,1044.4 1675.7,1042.0 1677.4,1043.3 1679.1,1041.8 1680.8,1043.4 1682.5,1044.4 1684.1,1044.6 1685.8,1041.3 1687.5,1041.6 1690.0,1041.8 1690.0,1040.7 1692.5,1041.2 1694.2,1039.5 1695.9,1036.6 1697.6,1041.9 1699.3,1042.6 1700.9,1042.4 1702.6,1044.5 1704.3,1043.0 1706.0,1041.1 1707.7,1036.2 1709.3,1041.4 1711.0,1044.0 1712.7,1042.1 1714.4,1042.5 1716.1,1042.1 1717.7,1041.7 1719.4,1037.1 1721.1,1041.8 1722.8,1046.0 1724.5,1042.1 1726.1,1047.1 1727.8,1043.1 1729.5,1042.6 1731.2,1040.5 1732.9,1038.7 1734.5,1045.8 1736.2,1039.1 1737.9,1042.5 1739.6,1038.9 1741.3,1042.0 1742.9,1048.7 1744.6,1042.3 1746.3,1042.1 1748.0,1039.1 1749.7,1041.7 1751.3,1044.2 1753.0,1043.1 1754.7,1042.0 1756.4,1042.7 1758.1,1040.5 1759.7,1043.0 1761.4,1039.6 1763.1,1042.0 1764.8,1045.8 1766.5,1043.0 1768.1,1041.0 1769.8,1046.3 1771.5,1045.2 1773.2,1041.9 1774.9,1045.2 1776.5,1043.0 1778.2,1039.5 1779.9,1043.1 1781.6,1041.6 1783.3,1041.4 1784.9,1043.2 1786.6,1041.4 1788.3,1037.5 1790.0,1040.7 1791.7,1044.4 1793.3,1041.8 1795.0,1041.4 1796.7,1041.1 1798.4,1041.2 1800.1,1042.0 1801.7,1038.3 1803.4,1040.7 1805.1,1044.2 1806.8,1041.8 1808.5,1038.6 1810.1,1040.7 1811.8,1040.8 1813.5,1038.7 1815.2,1038.6"/>
<path stroke-linejoin="bevel" transform="translate(0,1.5)" d="M133.5,1317.8 135.2,1316.6 136.9,1314.9 138.5,1311.4 140.2,1312.0 141.9,1311.1 143.6,1310.5 145.3,1309.0 146.9,1309.0 148.6,1305.6 150.3,1307.8 152.0,1309.9 153.7,1308.0 155.3,1309.4 157.0,1306.0 158.7,1304.2 160.4,1302.7 162.1,1300.2 163.7,1301.5 165.4,1297.2 167.1,1294.6 168.8,1293.0 170.5,1288.9 172.1,1290.4 173.8,1289.1 175.5,1289.5 177.2,1290.7 179.0,1290.4 180.5,1293.0 182.2,1286.3 183.9,1284.5 185.7,1282.0 187.3,1281.2 188.9,1280.5 190.6,1280.0 192.3,1277.8 194.0,1279.2 195.7,1278.0 197.3,1278.3 199.0,1279.7 200.7,1274.9 202.4,1274.4 204.1,1272.0 206.0,1266.9 207.4,1270.8 209.1,1275.6 210.8,1272.2 212.5,1273.4 214.1,1270.4 215.8,1272.6 217.5,1273.9 219.2,1273.3 220.9,1273.3 222.5,1272.8 224.2,1272.7 225.9,1268.9 227.6,1270.8 229.3,1266.8 230.9,1267.8 232.6,1265.6 234.3,1268.9 236.0,1268.8 237.7,1266.3 239.3,1268.4 241.0,1265.2 242.7,1266.4 244.4,1266.6 246.1,1265.2 247.7,1267.3 249.4,1269.3 251.1,1265.4 252.8,1267.9 254.5,1266.6 256.1,1268.1 257.8,1264.9 260.0,1261.3 261.2,1263.8 262.9,1268.3 264.5,1264.0 266.2,1266.8 267.9,1263.2 269.6,1265.0 271.3,1265.3 272.9,1264.0 274.6,1266.2 276.3,1263.3 278.0,1262.0 279.7,1260.1 281.3,1257.5 283.0,1258.1 284.7,1257.3 286.4,1256.7 288.7,1253.8 291.4,1255.3 293.1,1253.7 294.8,1255.7 296.5,1256.6 298.1,1254.4 299.8,1255.0 301.5,1256.0 303.2,1253.5 304.9,1254.8 306.5,1259.2 309.0,1256.6 311.6,1259.2 313.3,1252.0 314.9,1250.0 316.6,1246.8 318.3,1248.7 320.0,1249.4 321.7,1249.1 324.2,1249.9 326.7,1252.8 328.4,1246.6 330.1,1244.2 331.7,1243.6 334.3,1239.6 336.8,1241.8 338.5,1240.8 340.1,1243.8 341.8,1241.3 343.5,1242.6 345.2,1240.6 346.9,1238.9 348.5,1240.9 350.2,1240.3 351.9,1236.5 353.6,1240.7 355.3,1246.4 356.9,1241.7 358.6,1242.5 360.3,1245.4 362.0,1243.5 363.7,1241.3 365.3,1242.1 367.0,1240.3 368.7,1239.6 370.4,1239.8 372.1,1236.9 373.7,1236.0 375.7,1232.3 377.1,1235.5 378.8,1239.8 380.5,1237.6 381.6,1238.1 383.8,1236.0 385.5,1234.0 388.0,1228.8 390.5,1231.4 392.2,1232.0 393.9,1231.0 395.6,1232.8 397.3,1229.4 398.9,1228.7 400.6,1227.5 402.3,1226.8 404.0,1224.4 405.7,1224.7 407.3,1224.1 409.0,1225.0 410.7,1222.3 412.4,1222.5 414.1,1223.6 415.7,1218.7 417.4,1220.2 419.1,1215.7 420.8,1213.8 422.5,1211.3 424.1,1213.3 425.8,1213.8 427.5,1214.1 429.2,1212.0 430.9,1212.8 432.5,1213.7 434.8,1217.9 435.9,1213.3 437.6,1210.6 439.3,1210.3 440.9,1210.1 442.6,1208.2 444.3,1207.9 446.0,1205.3 447.7,1202.5 449.3,1201.9 451.0,1199.0 452.7,1199.9 454.4,1200.2 456.1,1202.9 457.7,1200.0 459.4,1198.8 461.1,1198.6 462.8,1198.6 464.5,1203.3 466.1,1197.7 467.8,1196.6 469.5,1193.8 471.2,1196.0 472.9,1193.4 474.5,1189.1 476.2,1192.4 477.9,1198.6 479.6,1193.4 482.2,1189.4 484.6,1192.1 486.3,1197.5 488.0,1189.8 489.7,1189.3 491.3,1186.9 493.0,1189.7 494.7,1185.4 496.4,1184.2 498.1,1186.5 499.7,1182.5 501.4,1182.8 503.1,1178.5 504.8,1176.9 506.5,1174.1 508.1,1168.5 509.8,1163.6 511.5,1159.2 513.2,1156.7 514.9,1154.7 516.5,1152.5 518.2,1154.7 519.9,1152.1 521.1,1151.3 523.3,1155.2 524.9,1158.2 526.6,1161.4 528.3,1163.6 530.0,1167.5 531.7,1169.0 533.3,1172.4 535.0,1170.7 536.7,1174.2 538.4,1172.5 540.1,1173.4 541.7,1173.3 543.4,1174.9 545.1,1173.7 546.8,1175.1 548.5,1175.6 549.8,1170.8 551.8,1173.4 553.5,1178.5 555.2,1170.5 556.9,1169.1 558.5,1167.8 559.9,1165.4 561.9,1167.4 563.6,1170.0 565.3,1165.4 566.9,1167.8 568.6,1168.4 570.3,1166.5 572.0,1167.1 573.7,1165.9 575.3,1164.3 577.0,1164.1 578.5,1161.8 580.4,1162.3 582.1,1164.4 583.7,1162.9 585.4,1164.7 587.1,1164.3 589.4,1167.3 592.1,1160.5 593.8,1158.3 595.5,1155.0 597.2,1151.4 598.9,1150.7 600.5,1146.6 602.2,1146.4 603.9,1143.7 605.6,1141.6 607.2,1138.3 609.7,1148.3 612.3,1151.8 614.0,1145.5 615.7,1143.6 617.3,1143.6 619.0,1142.4 620.7,1142.3 622.4,1139.7 624.1,1142.1 625.7,1141.3 627.4,1137.1 629.1,1136.1 630.8,1133.7 632.5,1135.8 634.1,1138.8 635.8,1136.9 637.6,1138.2 639.2,1132.5 640.4,1125.3 642.5,1129.8 644.2,1138.7 646.0,1133.1 647.6,1133.4 649.3,1133.7 650.9,1130.8 652.6,1130.5 654.3,1130.7 656.0,1131.8 657.7,1127.9 659.3,1125.9 661.0,1126.1 662.7,1125.3 664.4,1122.8 666.1,1124.0 667.7,1121.1 669.4,1120.0 671.1,1117.1 672.8,1117.5 674.5,1117.0 676.1,1116.5 678.1,1119.1 679.5,1113.8 681.2,1111.1 683.2,1107.8 684.5,1108.9 686.2,1109.0 687.9,1109.1 689.9,1110.8 691.3,1108.3 692.9,1104.5 694.6,1105.4 696.3,1105.4 698.0,1103.1 699.7,1102.6 701.3,1101.4 703.0,1097.3 704.7,1098.0 706.4,1098.6 708.1,1094.7 709.7,1092.0 711.4,1093.4 713.1,1092.3 714.8,1092.5 716.5,1090.1 718.1,1090.0 719.8,1086.0 721.5,1088.1 723.2,1087.5 724.9,1085.8 726.5,1081.2 728.2,1081.7 729.9,1076.6 731.6,1078.3 733.3,1076.2 734.9,1073.4 736.6,1073.8 738.3,1072.5 740.0,1072.6 741.7,1070.5 743.3,1069.6 745.0,1065.5 746.7,1065.0 748.4,1060.1 750.1,1061.6 751.7,1060.2 753.4,1060.9 755.1,1057.4 756.8,1060.9 758.5,1054.5 760.1,1052.0 761.8,1050.7 763.5,1047.5 765.2,1048.1 766.9,1044.3 768.5,1044.3 770.2,1041.3 771.9,1041.4 773.6,1036.4 775.3,1036.9 776.9,1034.2 778.6,1032.0 780.3,1029.8 782.0,1024.9 783.7,1022.0 785.3,1018.8 787.1,1012.4 788.7,1013.7 790.4,1019.3 792.1,1012.6 793.7,1012.3 795.4,1010.6 797.1,1013.3 798.8,1018.0 800.5,1013.7 802.1,1014.2 803.8,1013.2 805.5,1009.3 807.2,1011.3 808.9,1011.2 810.5,1012.3 812.2,1013.4 813.9,1010.9 815.6,1009.5 816.7,1007.8 818.9,1013.1 820.6,1016.7 822.3,1020.3 824.0,1018.6 825.7,1020.9 827.3,1022.5 829.0,1024.8 830.7,1022.7 832.4,1026.5 834.1,1024.9 835.7,1026.0 837.4,1026.9 839.1,1030.4 840.8,1031.9 842.5,1031.6 844.1,1034.9 845.8,1033.1 847.5,1034.8 849.2,1035.3 850.9,1037.5 852.5,1040.8 854.2,1040.8 855.9,1039.6 857.6,1043.5 859.3,1047.4 860.9,1045.7 862.6,1047.3 864.3,1046.3 866.0,1050.6 867.7,1050.0 869.3,1053.4 871.0,1054.6 872.7,1052.0 874.4,1054.8 876.1,1055.8 877.7,1057.1 879.4,1055.2 881.1,1057.8 882.8,1059.3 884.5,1058.4 886.1,1060.4 887.8,1059.2 889.5,1063.6 891.2,1062.6 892.9,1060.3 894.5,1064.8 896.2,1064.0 897.9,1066.3 899.6,1066.1 901.3,1069.1 902.9,1068.4 904.6,1068.3 906.3,1071.3 908.0,1070.5 909.7,1069.3 911.3,1072.3 913.0,1069.3 914.7,1068.9 916.4,1069.5 918.1,1073.3 919.7,1068.7 921.4,1069.5 923.1,1065.9 924.8,1068.3 926.5,1066.3 928.1,1067.2 929.8,1069.2 931.5,1065.5 933.2,1068.5 934.9,1072.6 936.5,1069.1 938.2,1064.9 939.9,1069.5 941.6,1076.0 943.3,1070.2 944.9,1070.7 946.6,1069.5 948.3,1067.6 950.1,1063.9 951.7,1067.5 953.3,1072.2 955.0,1069.8 956.7,1071.3 958.4,1072.2 960.1,1069.9 961.7,1069.3 963.4,1072.0 965.1,1069.3 966.8,1064.8 968.5,1065.9 970.1,1064.8 971.8,1062.2 973.5,1064.1 975.2,1062.2 976.9,1060.6 978.5,1065.2 980.2,1062.8 981.9,1060.3 983.6,1062.4 985.3,1056.4 986.9,1062.8 988.6,1058.2 990.3,1055.7 992.0,1058.4 993.7,1059.8 995.3,1061.1 997.0,1058.0 998.7,1061.4 1000.4,1058.9 1002.1,1057.8 1003.7,1058.3 1005.4,1057.9 1006.7,1058.2 1008.8,1061.3 1010.5,1053.1 1012.1,1051.1 1014.3,1046.1 1015.5,1047.6 1017.2,1043.7 1018.9,1045.7 1020.5,1047.2 1022.2,1046.1 1023.9,1043.3 1025.6,1045.2 1027.3,1039.1 1028.9,1040.5 1030.3,1038.3 1032.3,1041.9 1034.0,1046.4 1035.4,1044.7 1037.3,1042.8 1038.8,1039.7 1040.7,1043.4 1042.4,1044.3 1044.1,1045.3 1045.7,1048.3 1047.2,1051.8 1049.1,1049.3 1050.8,1052.3 1052.5,1046.2 1054.1,1046.0 1055.8,1046.0 1057.5,1042.8 1059.2,1040.6 1060.9,1037.7 1062.5,1034.4 1064.2,1032.7 1065.9,1028.0 1067.6,1023.7 1069.3,1019.2 1070.9,1015.4 1072.6,1011.1 1074.3,1006.4 1076.0,1005.7 1078.6,1001.3 1081.0,1007.8 1082.7,1021.0 1084.4,1016.9 1086.1,1022.4 1087.7,1033.0 1089.4,1028.2 1091.1,1030.7 1092.8,1033.0 1094.5,1032.8 1096.1,1031.5 1097.8,1034.3 1099.5,1033.6 1101.2,1036.9 1102.9,1035.7 1104.5,1033.3 1106.2,1034.4 1107.9,1036.9 1109.6,1037.5 1112.3,1040.7 1114.6,1036.6 1116.3,1035.0 1118.3,1032.5 1119.7,1034.4 1121.3,1036.2 1123.0,1034.6 1124.7,1037.8 1126.4,1039.3 1128.1,1040.1 1129.6,1040.2 1131.4,1032.2 1133.1,1033.7 1134.3,1040.8 1136.5,1032.2 1138.1,1035.7 1139.8,1034.4 1141.1,1033.4 1143.2,1032.3 1144.9,1031.2 1146.5,1027.8 1148.2,1030.5 1149.9,1034.6 1151.6,1032.1 1153.3,1032.3 1154.6,1031.7 1156.6,1030.0 1158.3,1032.4 1160.0,1027.7 1161.3,1025.4 1163.3,1027.9 1165.0,1028.5 1167.2,1033.6 1168.4,1028.8 1170.1,1027.3 1171.7,1025.1 1173.4,1021.5 1175.1,1021.2 1177.7,1015.5 1180.1,1023.4 1181.8,1026.9 1183.3,1031.5 1185.2,1029.9 1186.9,1030.1 1188.5,1030.7 1190.2,1031.3 1191.9,1031.5 1193.6,1028.8 1195.3,1028.2 1197.6,1028.3 1200.3,1026.0 1201.5,1022.4 1203.7,1027.4 1205.3,1034.2 1207.8,1031.7 1210.4,1029.8 1212.1,1024.5 1213.7,1028.1 1215.4,1034.4 1217.1,1027.9 1218.8,1027.7 1220.5,1026.6 1222.1,1030.3 1223.8,1026.4 1225.5,1023.6 1227.2,1024.4 1228.9,1027.7 1230.5,1025.3 1232.2,1028.3 1233.9,1024.1 1235.6,1022.3 1237.3,1024.1 1238.9,1023.5 1241.5,1023.3 1244.9,1013.4 1247.3,1016.3 1249.0,1022.3 1250.7,1018.3 1252.4,1020.1 1254.1,1020.2 1255.7,1017.4 1257.4,1022.6 1259.1,1019.3 1260.8,1015.6 1262.5,1017.5 1264.1,1012.6 1265.8,1014.9 1267.5,1009.9 1269.2,1011.5 1271.1,1009.8 1272.5,1010.8 1274.2,1012.0 1275.9,1011.2 1277.8,1011.4 1279.3,1011.0 1280.9,1008.9 1282.6,1006.3 1284.3,1012.5 1286.0,1016.7 1288.0,1025.3 1289.3,1018.8 1291.0,1014.8 1292.5,1010.0 1294.4,1013.2 1296.1,1015.4 1297.7,1013.7 1299.4,1018.4 1301.1,1017.6 1302.8,1018.8 1304.8,1021.6 1306.1,1021.2 1307.8,1021.4 1309.5,1020.6 1311.2,1021.9 1312.9,1019.9 1314.5,1020.1 1316.2,1023.2 1317.9,1021.1 1319.6,1021.7 1321.7,1021.6 1322.9,1019.8 1324.6,1017.3 1326.3,1021.7 1328.0,1017.5 1329.7,1013.7 1331.3,1017.5 1333.0,1020.1 1334.7,1019.0 1336.4,1019.6 1338.1,1022.1 1339.5,1025.0 1341.4,1022.4 1343.1,1021.0 1344.8,1022.0 1346.5,1019.6 1348.8,1018.2 1351.5,1019.0 1353.2,1019.3 1355.5,1019.9 1358.2,1016.7 1359.9,1014.3 1362.3,1007.9 1364.9,1012.8 1366.6,1014.5 1368.3,1014.8 1370.0,1015.7 1371.7,1011.9 1373.3,1015.6 1375.0,1017.5 1376.7,1014.0 1378.4,1016.5 1380.1,1015.3 1381.7,1015.4 1383.4,1011.2 1385.1,1016.8 1386.8,1014.6 1388.5,1016.2 1390.1,1018.1 1391.8,1021.0 1393.5,1018.6 1395.2,1017.6 1396.9,1019.7 1398.5,1021.1 1400.2,1020.1 1401.9,1022.7 1403.6,1019.7 1405.3,1013.4 1406.9,1020.1 1408.6,1024.8 1410.3,1021.6 1412.0,1017.8 1413.7,1020.9 1415.3,1024.9 1417.0,1030.6 1418.7,1026.5 1420.4,1028.9 1422.1,1027.7 1423.7,1021.5 1425.4,1029.3 1427.1,1032.3 1428.8,1029.0 1430.5,1026.8 1432.1,1027.0 1433.8,1029.8 1435.5,1030.1 1437.2,1029.6 1438.9,1025.4 1440.5,1030.4 1442.2,1030.2 1443.9,1030.5 1445.6,1034.7 1447.3,1035.5 1448.9,1035.0 1450.6,1032.3 1452.3,1036.0 1454.0,1040.3 1455.7,1035.8 1457.3,1035.1 1459.0,1038.1 1460.7,1038.2 1462.4,1037.3 1464.1,1038.0 1465.7,1037.7 1467.4,1037.3 1469.1,1032.2 1470.8,1037.0 1472.5,1040.7 1474.1,1037.5 1475.8,1042.2 1477.5,1038.5 1479.2,1038.0 1480.9,1033.3 1482.5,1038.1 1484.2,1038.1 1485.9,1041.5 1487.6,1038.4 1489.3,1040.3 1490.9,1037.6 1492.6,1040.0 1494.3,1041.4 1496.0,1039.3 1497.7,1033.0 1499.3,1040.8 1501.0,1040.4 1502.7,1040.4 1504.4,1038.0 1506.1,1044.3 1507.7,1040.4 1509.4,1041.8 1511.1,1046.0 1512.8,1041.9 1514.5,1043.8 1516.1,1037.2 1517.8,1044.1 1519.5,1046.7 1521.2,1043.5 1522.9,1040.6 1524.5,1047.4 1526.2,1043.6 1527.9,1043.6 1529.6,1047.9 1531.3,1044.5 1532.9,1040.8 1534.6,1044.9 1536.3,1048.7 1538.0,1044.6 1539.7,1044.9 1541.3,1048.6 1543.0,1045.7 1544.7,1040.8 1546.4,1041.3 1548.1,1045.9 1549.7,1045.0 1551.4,1044.5 1553.1,1047.3 1554.8,1041.7 1556.5,1045.9 1558.1,1036.2 1559.8,1045.6 1561.5,1051.3 1563.2,1045.7 1564.9,1044.7 1566.5,1044.1 1568.2,1045.7 1569.9,1040.3 1571.6,1044.5 1573.3,1046.0 1574.9,1048.6 1576.6,1045.7 1578.3,1044.8 1580.0,1044.7 1581.7,1039.8 1583.3,1043.6 1585.0,1044.1 1586.7,1043.9 1588.4,1046.0 1590.1,1044.6 1591.7,1040.1 1593.4,1041.5 1595.1,1041.6 1596.8,1045.4 1598.5,1042.5 1600.1,1037.7 1601.8,1041.8 1603.5,1040.6 1605.2,1039.4 1606.9,1042.5 1608.5,1039.1 1610.2,1042.4 1611.9,1040.5 1613.6,1046.2 1615.3,1039.9 1616.9,1037.7 1618.6,1041.7 1620.3,1044.5 1622.0,1042.3 1623.7,1039.8 1625.3,1043.0 1627.0,1045.3 1628.7,1040.1 1630.4,1040.4 1632.1,1038.4 1633.7,1042.0 1635.4,1035.2 1637.1,1042.3 1638.8,1045.8 1640.5,1042.7 1642.1,1042.1 1643.8,1043.7 1645.5,1039.9 1647.2,1040.3 1648.9,1042.3 1650.5,1040.2 1652.2,1043.0 1653.9,1044.6 1655.6,1042.7 1657.3,1040.4 1658.9,1041.4 1660.6,1044.0 1662.3,1041.4 1664.0,1042.0 1665.7,1041.3 1667.3,1042.0 1669.0,1042.5 1670.7,1036.2 1672.4,1041.0 1674.1,1044.4 1675.7,1042.0 1677.4,1043.3 1679.1,1041.8 1680.8,1043.4 1682.5,1044.4 1684.1,1044.6 1685.8,1041.3 1687.5,1041.6 1690.0,1041.8 1690.0,1040.7 1692.5,1041.2 1694.2,1039.5 1695.9,1036.6 1697.6,1041.9 1699.3,1042.6 1700.9,1042.4 1702.6,1044.5 1704.3,1043.0 1706.0,1041.1 1707.7,1036.2 1709.3,1041.4 1711.0,1044.0 1712.7,1042.1 1714.4,1042.5 1716.1,1042.1 1717.7,1041.7 1719.4,1037.1 1721.1,1041.8 1722.8,1046.0 1724.5,1042.1 1726.1,1047.1 1727.8,1043.1 1729.5,1042.6 1731.2,1040.5 1732.9,1038.7 1734.5,1045.8 1736.2,1039.1 1737.9,1042.5 1739.6,1038.9 1741.3,1042.0 1742.9,1048.7 1744.6,1042.3 1746.3,1042.1 1748.0,1039.1 1749.7,1041.7 1751.3,1044.2 1753.0,1043.1 1754.7,1042.0 1756.4,1042.7 1758.1,1040.5 1759.7,1043.0 1761.4,1039.6 1763.1,1042.0 1764.8,1045.8 1766.5,1043.0 1768.1,1041.0 1769.8,1046.3 1771.5,1045.2 1773.2,1041.9 1774.9,1045.2 1776.5,1043.0 1778.2,1039.5 1779.9,1043.1 1781.6,1041.6 1783.3,1041.4 1784.9,1043.2 1786.6,1041.4 1788.3,1037.5 1790.0,1040.7 1791.7,1044.4 1793.3,1041.8 1795.0,1041.4 1796.7,1041.1 1798.4,1041.2 1800.1,1042.0 1801.7,1038.3 1803.4,1040.7 1805.1,1044.2 1806.8,1041.8 1808.5,1038.6 1810.1,1040.7 1811.8,1040.8 1813.5,1038.7 1815.2,1038.6"/>
<path stroke-linejoin="miter" stroke-miterlimit="10" d="M133.5,1317.8 135.2,1316.6 136.9,1314.9 138.5,1311.4 140.2,1312.0 141.9,1311.1 143.6,1310.5 145.3,1309.0 146.9,1309.0 148.6,1305.6 150.3,1307.8 152.0,1309.9 153.7,1308.0 155.3,1309.4 157.0,1306.0 158.7,1304.2 160.4,1302.7 162.1,1300.2 163.7,1301.5 165.4,1297.2 167.1,1294.6 168.8,1293.0 170.5,1288.9 172.1,1290.4 173.8,1289.1 175.5,1289.5 177.2,1290.7 179.0,1290.4 180.5,1293.0 182.2,1286.3 183.9,1284.5 185.7,1282.0 187.3,1281.2 188.9,1280.5 190.6,1280.0 192.3,1277.8 194.0,1279.2 195.7,1278.0 197.3,1278.3 199.0,1279.7 200.7,1274.9 202.4,1274.4 204.1,1272.0 206.0,1266.9 207.4,1270.8 209.1,1275.6 210.8,1272.2 212.5,1273.4 214.1,1270.4 215.8,1272.6 217.5,1273.9 219.2,1273.3 220.9,1273.3 222.5,1272.8 224.2,1272.7 225.9,1268.9 227.6,1270.8 229.3,1266.8 230.9,1267.8 232.6,1265.6 234.3,1268.9 236.0,1268.8 237.7,1266.3 239.3,1268.4 241.0,1265.2 242.7,1266.4 244.4,1266.6 246.1,1265.2 247.7,1267.3 249.4,1269.3 251.1,1265.4 252.8,1267.9 254.5,1266.6 256.1,1268.1 257.8,1264.9 260.0,1261.3 261.2,1263.8 262.9,1268.3 264.5,1264.0 266.2,1266.8 267.9,1263.2 269.6,1265.0 271.3,1265.3 272.9,1264.0 274.6,1266.2 276.3,1263.3 278.0,1262.0 279.7,1260.1 281.3,1257.5 283.0,1258.1 284.7,1257.3 286.4,1256.7 288.7,1253.8 291.4,1255.3 293.1,1253.7 294.8,1255.7 296.5,1256.6 298.1,1254.4 299.8,1255.0 301.5,1256.0 303.2,1253.5 304.9,1254.8 306.5,1259.2 309.0,1256.6 311.6,1259.2 313.3,1252.0 314.9,1250.0 316.6,1246.8 318.3,1248.7 320.0,1249.4 321.7,1249.1 324.2,1249.9 326.7,1252.8 328.4,1246.6 330.1,1244.2 331.7,1243.6 334.3,1239.6 336.8,1241.8 338.5,1240.8 340.1,1243.8 341.8,1241.3 343.5,1242.6 345.2,1240.6 346.9,1238.9 348.5,1240.9 350.2,1240.3 351.9,1236.5 353.6,1240.7 355.3,1246.4 356.9,1241.7 358.6,1242.5 360.3,1245.4 362.0,1243.5 363.7,1241.3 365.3,1242.1 367.0,1240.3 368.7,1239.6 370.4,1239.8 372.1,1236.9 373.7,1236.0 375.7,1232.3 377.1,1235.5 378.8,1239.8 380.5,1237.6 381.6,1238.1 383.8,1236.0 385.5,1234.0 388.0,1228.8 390.5,1231.4 392.2,1232.0 393.9,1231.0 395.6,1232.8 397.3,1229.4 398.9,1228.7 400.6,1227.5 402.3,1226.8 404.0,1224.4 405.7,1224.7 407.3,1224.1 409.0,1225.0 410.7,1222.3 412.4,1222.5 414.1,1223.6 415.7,1218.7 417.4,1220.2 419.1,1215.7 420.8,1213.8 422.5,1211.3 424.1,1213.3 425.8,1213.8 427.5,1214.1 429.2,1212.0 430.9,1212.8 432.5,1213.7 434.8,1217.9 435.9,1213.3 437.6,1210.6 439.3,1210.3 440.9,1210.1 442.6,1208.2 444.3,1207.9 446.0,1205.3 447.7,1202.5 449.3,1201.9 451.0,1199.0 452.7,1199.9 454.4,1200.2 456.1,1202.9 457.7,1200.0 459.4,1198.8 461.1,1198.6 462.8,1198.6 464.5,1203.3 466.1,1197.7 467.8,1196.6 469.5,1193.8 471.2,1196.0 472.9,1193.4 474.5,1189.1 476.2,1192.4 477.9,1198.6 479.6,1193.4 482.2,1189.4 484.6,1192.1 486.3,1197.5 488.0,1189.8 489.7,1189.3 491.3,1186.9 493.0,1189.7 494.7,1185.4 496.4,1184.2 498.1,1186.5 499.7,1182.5 501.4,1182.8 503.1,1178.5 504.8,1176.9 506.5,1174.1 508.1,1168.5 509.8,1163.6 511.5,1159.2 513.2,1156.7 514.9,1154.7 516.5,1152.5 518.2,1154.7 519.9,1152.1 521.1,1151.3 523.3,1155.2 524.9,1158.2 526.6,1161.4 528.3,1163.6 530.0,1167.5 531.7,1169.0 533.3,1172.4 535.0,1170.7 536.7,1174.2 538.4,1172.5 540.1,1173.4 541.7,1173.3 543.4,1174.9 545.1,1173.7 546.8,1175.1 548.5,1175.6 549.8,1170.8 551.8,1173.4 553.5,1178.5 555.2,1170.5 556.9,1169.1 558.5,1167.8 559.9,1165.4 561.9,1167.4 563.6,1170.0 565.3,1165.4 566.9,1167.8 568.6,1168.4 570.3,1166.5 572.0,1167.1 573.7,1165.9 575.3,1164.3 577.0,1164.1 578.5,1161.8 580.4,1162.3 582.1,1164.4 583.7,1162.9 585.4,1164.7 587.1,1164.3 589.4,1167.3 592.1,1160.5 593.8,1158.3 595.5,1155.0 597.2,1151.4 598.9,1150.7 600.5,1146.6 602.2,1146.4 603.9,1143.7 605.6,1141.6 607.2,1138.3 609.7,1148.3 612.3,1151.8 614.0,1145.5 615.7,1143.6 617.3,1143.6 619.0,1142.4 620.7,1142.3 622.4,1139.7 624.1,1142.1 625.7,1141.3 627.4,1137.1 629.1,1136.1 630.8,1133.7 632.5,1135.8 634.1,1138.8 635.8,1136.9 637.6,1138.2 639.2,1132.5 640.4,1125.3 642.5,1129.8 644.2,1138.7 646.0,1133.1 647.6,1133.4 649.3,1133.7 650.9,1130.8 652.6,1130.5 654.3,1130.7 656.0,1131.8 657.7,1127.9 659.3,1125.9 661.0,1126.1 662.7,1125.3 664.4,1122.8 666.1,1124.0 667.7,1121.1 669.4,1120.0 671.1,1117.1 672.8,1117.5 674.5,1117.0 676.1,1116.5 678.1,1119.1 679.5,1113.8 681.2,1111.1 683.2,1107.8 684.5,1108.9 686.2,1109.0 687.9,1109.1 689.9,1110.8 691.3,1108.3 692.9,1104.5 694.6,1105.4 696.3,1105.4 698.0,1103.1 699.7,1102.6 701.3,1101.4 703.0,1097.3 704.7,1098.0 706.4,1098.6 708.1,1094.7 709.7,1092.0 711.4,1093.4 713.1,1092.3 714.8,1092.5 716.5,1090.1 718.1,1090.0 719.8,1086.0 721.5,1088.1 723.2,1087.5 724.9,1085.8 726.5,1081.2 728.2,1081.7 729.9,1076.6 731.6,1078.3 733.3,1076.2 734.9,1073.4 736.6,1073.8 738.3,1072.5 740.0,1072.6 741.7,1070.5 743.3,1069.6 745.0,1065.5 746.7,1065.0 748.4,1060.1 750.1,1061.6 751.7,1060.2 753.4,1060.9 755.1,1057.4 756.8,1060.9 758.5,1054.5 760.1,1052.0 761.8,1050.7 763.5,1047.5 765.2,1048.1 766.9,1044.3 768.5,1044.3 770.2,1041.3 771.9,1041.4 773.6,1036.4 775.3,1036.9 776.9,1034.2 778.6,1032.0 780.3,1029.8 782.0,1024.9 783.7,1022.0 785.3,1018.8 787.1,1012.4 788.7,1013.7 790.4,1019.3 792.1,1012.6 793.7,1012.3 795.4,1010.6 797.1,1013.3 798.8,1018.0 800.5,1013.7 802.1,1014.2 803.8,1013.2 805.5,1009.3 807.2,1011.3 808.9,1011.2 810.5,1012.3 812.2,1013.4 813.9,1010.9 815.6,1009.5 816.7,1007.8 818.9,1013.1 820.6,1016.7 822.3,1020.3 824.0,1018.6 825.7,1020.9 827.3,1022.5 829.0,1024.8 830.7,1022.7 832.4,1026.5 834.1,1024.9 835.7,1026.0 837.4,1026.9 839.1,1030.4 840.8,1031.9 842.5,1031.6 844.1,1034.9 845.8,1033.1 847.5,1034.8 849.2,1035.3 850.9,1037.5 852.5,1040.8 854.2,1040.8 855.9,1039.6 857.6,1043.5 859.3,1047.4 860.9,1045.7 862.6,1047.3 864.3,1046.3 866.0,1050.6 867.7,1050.0 869.3,1053.4 871.0,1054.6 872.7,1052.0 874.4,1054.8 876.1,1055.8 877.7,1057.1 879.4,1055.2 881.1,1057.8 882.8,1059.3 884.5,1058.4 886.1,1060.4 887.8,1059.2 889.5,1063.6 891.2,1062.6 892.9,1060.3 894.5,1064.8 896.2,1064.0 897.9,1066.3 899.6,1066.1 901.3,1069.1 902.9,1068.4 904.6,1068.3 906.3,1071.3 908.0,1070.5 909.7,1069.3 911.3,1072.3 913.0,1069.3 914.7,1068.9 916.4,1069.5 918.1,1073.3 919.7,1068.7 921.4,1069.5 923.1,1065.9 924.8,1068.3 926.5,1066.3 928.1,1067.2 929.8,1069.2 931.5,1065.5 933.2,1068.5 934.9,1072.6 936.5,1069.1 938.2,1064.9 939.9,1069.5 941.6,1076.0 943.3,1070.2 944.9,1070.7 946.6,1069.5 948.3,1067.6 950.1,1063.9 951.7,1067.5 953.3,1072.2 955.0,1069.8 956.7,1071.3 958.4,1072.2 960.1,1069.9 961.7,1069.3 963.4,1072.0 965.1,1069.3 966.8,1064.8 968.5,1065.9 970.1,1064.8 971.8,1062.2 973.5,1064.1 975.2,1062.2 976.9,1060.6 978.5,1065.2 980.2,1062.8 981.9,1060.3 983.6,1062.4 985.3,1056.4 986.9,1062.8 988.6,1058.2 990.3,1055.7 992.0,1058.4 993.7,1059.8 995.3,1061.1 997.0,1058.0 998.7,1061.4 1000.4,1058.9 1002.1,1057.8 1003.7,1058.3 1005.4,1057.9 1006.7,1058.2 1008.8,1061.3 1010.5,1053.1 1012.1,1051.1 1014.3,1046.1 1015.5,1047.6 1017.2,1043.7 1018.9,1045.7 1020.5,1047.2 1022.2,1046.1 1023.9,1043.3 1025.6,1045.2 1027.3,1039.1 1028.9,1040.5 1030.3,1038.3 1032.3,1041.9 1034.0,1046.4 1035.4,1044.7 1037.3,1042.8 1038.8,1039.7 1040.7,1043.4 1042.4,1044.3 1044.1,1045.3 1045.7,1048.3 1047.2,1051.8 1049.1,1049.3 1050.8,1052.3 1052.5,1046.2 1054.1,1046.0 1055.8,1046.0 1057.5,1042.8 1059.2,1040.6 1060.9,1037.7 1062.5,1034.4 1064.2,1032.7 1065.9,1028.0 1067.6,1023.7 1069.3,1019.2 1070.9,1015.4 1072.6,1011.1 1074.3,1006.4 1076.0,1005.7 1078.6,1001.3 1081.0,1007.8 1082.7,1021.0 1084.4,1016.9 1086.1,1022.4 1087.7,1033.0 1089.4,1028.2 1091.1,1030.7 1092.8,1033.0 1094.5,1032.8 1096.1,1031.5 1097.8,1034.3 1099.5,1033.6 1101.2,1036.9 1102.9,1035.7 1104.5,1033.3 1106.2,1034.4 1107.9,1036.9 1109.6,1037.5 1112.3,1040.7 1114.6,1036.6 1116.3,1035.0 1118.3,1032.5 1119.7,1034.4 1121.3,1036.2 1123.0,1034.6 1124.7,1037.8 1126.4,1039.3 1128.1,1040.1 1129.6,1040.2 1131.4,1032.2 1133.1,1033.7 1134.3,1040.8 1136.5,1032.2 1138.1,1035.7 1139.8,1034.4 1141.1,1033.4 1143.2,1032.3 1144.9,1031.2 1146.5,1027.8 1148.2,1030.5 1149.9,1034.6 1151.6,1032.1 1153.3,1032.3 1154.6,1031.7 1156.6,1030.0 1158.3,1032.4 1160.0,1027.7 1161.3,1025.4 1163.3,1027.9 1165.0,1028.5 1167.2,1033.6 1168.4,1028.8 1170.1,1027.3 1171.7,1025.1 1173.4,1021.5 1175.1,1021.2 1177.7,1015.5 1180.1,1023.4 1181.8,1026.9 1183.3,1031.5 1185.2,1029.9 1186.9,1030.1 1188.5,1030.7 1190.2,1031.3 1191.9,1031.5 1193.6,1028.8 1195.3,1028.2 1197.6,1028.3 1200.3,1026.0 1201.5,1022.4 1203.7,1027.4 1205.3,1034.2 1207.8,1031.7 1210.4,1029.8 1212.1,1024.5 1213.7,1028.1 1215.4,1034.4 1217.1,1027.9 1218.8,1027.7 1220.5,1026.6 1222.1,1030.3 1223.8,1026.4 1225.5,1023.6 1227.2,1024.4 1228.9,1027.7 1230.5,1025.3 1232.2,1028.3 1233.9,1024.1 1235.6,1022.3 1237.3,1024.1 1238.9,1023.5 1241.5,1023.3 1244.9,1013.4 1247.3,1016.3 1249.0,1022.3 1250.7,1018.3 1252.4,1020.1 1254.1,1020.2 1255.7,1017.4 1257.4,1022.6 1259.1,1019.3 1260.8,1015.6 1262.5,1017.5 1264.1,1012.6 1265.8,1014.9 1267.5,1009.9 1269.2,1011.5 1271.1,1009.8 1272.5,1010.8 1274.2,1012.0 1275.9,1011.2 1277.8,1011.4 1279.3,1011.0 1280.9,1008.9 1282.6,1006.3 1284.3,1012.5 1286.0,1016.7 1288.0,1025.3 1289.3,1018.8 1291.0,1014.8 1292.5,1010.0 1294.4,1013.2 1296.1,1015.4 1297.7,1013.7 1299.4,1018.4 1301.1,1017.6 1302.8,1018.8 1304.8,1021.6 1306.1,1021.2 1307.8,1021.4 1309.5,1020.6 1311.2,1021.9 1312.9,1019.9 1314.5,1020.1 1316.2,1023.2 1317.9,1021.1 1319.6,1021.7 1321.7,1021.6 1322.9,1019.8 1324.6,1017.3 1326.3,1021.7 1328.0,1017.5 1329.7,1013.7 1331.3,1017.5 1333.0,1020.1 1334.7,1019.0 1336.4,1019.6 1338.1,1022.1 1339.5,1025.0 1341.4,1022.4 1343.1,1021.0 1344.8,1022.0 1346.5,1019.6 1348.8,1018.2 1351.5,1019.0 1353.2,1019.3 1355.5,1019.9 1358.2,1016.7 1359.9,1014.3 1362.3,1007.9 1364.9,1012.8 1366.6,1014.5 1368.3,1014.8 1370.0,1015.7 1371.7,1011.9 1373.3,1015.6 1375.0,1017.5 1376.7,1014.0 1378.4,1016.5 1380.1,1015.3 1381.7,1015.4 1383.4,1011.2 1385.1,1016.8 1386.8,1014.6 1388.5,1016.2 1390.1,1018.1 1391.8,1021.0 1393.5,1018.6 1395.2,1017.6 1396.9,1019.7 1398.5,1021.1 1400.2,1020.1 1401.9,1022.7 1403.6,1019.7 1405.3,1013.4 1406.9,1020.1 1408.6,1024.8 1410.3,1021.6 1412.0,1017.8 1413.7,1020.9 1415.3,1024.9 1417.0,1030.6 1418.7,1026.5 1420.4,1028.9 1422.1,1027.7 1423.7,1021.5 1425.4,1029.3 1427.1,1032.3 1428.8,1029.0 1430.5,1026.8 1432.1,1027.0 1433.8,1029.8 1435.5,1030.1 1437.2,1029.6 1438.9,1025.4 1440.5,1030.4 1442.2,1030.2 1443.9,1030.5 1445.6,1034.7 1447.3,1035.5 1448.9,1035.0 1450.6,1032.3 1452.3,1036.0 1454.0,1040.3 1455.7,1035.8 1457.3,1035.1 1459.0,1038.1 1460.7,1038.2 1462.4,1037.3 1464.1,1038.0 1465.7,1037.7 1467.4,1037.3 1469.1,1032.2 1470.8,1037.0 1472.5,1040.7 1474.1,1037.5 1475.8,1042.2 1477.5,1038.5 1479.2,1038.0 1480.9,1033.3 1482.5,1038.1 1484.2,1038.1 1485.9,1041.5 1487.6,1038.4 1489.3,1040.3 1490.9,1037.6 1492.6,1040.0 1494.3,1041.4 1496.0,1039.3 1497.7,1033.0 1499.3,1040.8 1501.0,1040.4 1502.7,1040.4 1504.4,1038.0 1506.1,1044.3 1507.7,1040.4 1509.4,1041.8 1511.1,1046.0 1512.8,1041.9 1514.5,1043.8 1516.1,1037.2 1517.8,1044.1 1519.5,1046.7 1521.2,1043.5 1522.9,1040.6 1524.5,1047.4 1526.2,1043.6 1527.9,1043.6 1529.6,1047.9 1531.3,1044.5 1532.9,1040.8 1534.6,1044.9 1536.3,1048.7 1538.0,1044.6 1539.7,1044.9 1541.3,1048.6 1543.0,1045.7 1544.7,1040.8 1546.4,1041.3 1548.1,1045.9 1549.7,1045.0 1551.4,1044.5 1553.1,1047.3 1554.8,1041.7 1556.5,1045.9 1558.1,1036.2 1559.8,1045.6 1561.5,1051.3 1563.2,1045.7 1564.9,1044.7 1566.5,1044.1 1568.2,1045.7 1569.9,1040.3 1571.6,1044.5 1573.3,1046.0 1574.9,1048.6 1576.6,1045.7 1578.3,1044.8 1580.0,1044.7 1581.7,1039.8 1583.3,1043.6 1585.0,1044.1 1586.7,1043.9 1588.4,1046.0 1590.1,1044.6 1591.7,1040.1 1593.4,1041.5 1595.1,1041.6 1596.8,1045.4 1598.5,1042.5 1600.1,1037.7 1601.8,1041.8 1603.5,1040.6 1605.2,1039.4 1606.9,1042.5 1608.5,1039.1 1610.2,1042.4 1611.9,1040.5 1613.6,1046.2 1615.3,1039.9 1616.9,1037.7 1618.6,1041.7 1620.3,1044.5 1622.0,1042.3 1623.7,1039.8 1625.3,1043.0 1627.0,1045.3 1628.7,1040.1 1630.4,1040.4 1632.1,1038.4 1633.7,1042.0 1635.4,1035.2 1637.1,1042.3 1638.8,1045.8 1640.5,1042.7 1642.1,1042.1 1643.8,1043.7 1645.5,1039.9 1647.2,1040.3 1648.9,1042.3 1650.5,1040.2 1652.2,1043.0 1653.9,1044.6 1655.6,1042.7 1657.3,1040.4 1658.9,1041.4 1660.6,1044.0 1662.3,1041.4 1664.0,1042.0 1665.7,1041.3 1667.3,1042.0 1669.0,1042.5 1670.7,1036.2 1672.4,1041.0 1674.1,1044.4 1675.7,1042.0 1677.4,1043.3 1679.1,1041.8 1680.8,1043.4 1682.5,1044.4 1684.1,1044.6 1685.8,1041.3 1687.5,1041.6 1690.0,1041.8 1690.0,1040.7 1692.5,1041.2 1694.2,1039.5 1695.9,1036.6 1697.6,1041.9 1699.3,1042.6 1700.9,1042.4 1702.6,1044.5 1704.3,1043.0 1706.0,1041.1 1707.7,1036.2 1709.3,1041.4 1711.0,1044.0 1712.7,1042.1 1714.4,1042.5 1716.1,1042.1 1717.7,1041.7 1719.4,1037.1 1721.1,1041.8 1722.8,1046.0 1724.5,1042.1 1726.1,1047.1 1727.8,1043.1 1729.5,1042.6 1731.2,1040.5 1732.9,1038.7 1734.5,1045.8 1736.2,1039.1 1737.9,1042.5 1739.6,1038.9 1741.3,1042.0 1742.9,1048.7 1744.6,1042.3 1746.3,1042.1 1748.0,1039.1 1749.7,1041.7 1751.3,1044.2 1753.0,1043.1 1754.7,1042.0 1756.4,1042.7 1758.1,1040.5 1759.7,1043.0 1761.4,1039.6 1763.1,1042.0 1764.8,1045.8 1766.5,1043.0 1768.1,1041.0 1769.8,1046.3 1771.5,1045.2 1773.2,1041.9 1774.9,1045.2 1776.5,1043.0 1778.2,1039.5 1779.9,1043.1 1781.6,1041.6 1783.3,1041.4 1784.9,1043.2 1786.6,1041.4 1788.3,1037.5 1790.0,1040.7 1791.7,1044.4 1793.3,1041.8 1795.0,1041.4 1796.7,1041.1 1798.4,1041.2 1800.1,1042.0 1801.7,1038.3 1803.4,1040.7 1805.1,1044.2 1806.8,1041.8 1808.5,1038.6 1810.1,1040.7 1811.8,1040.8 1813.5,1038.7 1815.2,1038.6"/>
</g>
<g stroke="#0000ff">
<path stroke-linejoin="bevel" transform="translate(0,-1.3)" d="M133.5,1363.6 135.2,1363.6 136.9,1362.7 138.5,1364.5 140.2,1362.9 141.9,1360.9 143.6,1362.0 145.3,1360.0 146.9,1361.5 148.6,1360.1 150.3,1362.0 152.0,1361.2 153.7,1361.5 155.3,1363.5 157.0,1359.7 158.7,1359.2 160.4,1357.0 162.1,1357.5 163.7,1354.0 165.4,1350.7 167.1,1346.4 168.8,1348.7 170.5,1349.7 172.1,1350.0 173.9,1351.2 175.5,1350.9 177.2,1350.9 178.9,1348.7 180.5,1350.1 182.2,1347.3 183.9,1347.2 185.6,1347.6 187.3,1346.3 188.9,1343.0 190.6,1343.7 192.3,1345.2 194.0,1346.1 195.7,1344.3 197.3,1342.5 199.0,1343.3 200.7,1340.9 202.4,1342.0 204.1,1343.4 205.7,1341.1 207.4,1340.5 209.1,1341.1 210.8,1339.6 212.5,1338.0 214.1,1339.5 215.8,1340.7 217.5,1340.8 219.2,1338.0 220.9,1340.2 222.5,1340.3 224.2,1339.4 225.9,1340.4 227.6,1338.6 229.3,1340.8 230.9,1340.8 232.6,1340.3 234.3,1340.4 236.0,1337.0 237.7,1339.7 239.3,1343.8 241.0,1340.4 242.7,1339.6 244.4,1342.4 246.1,1340.2 247.7,1340.8 249.4,1342.5 251.1,1341.3 252.8,1339.8 254.5,1338.1 256.1,1339.5 257.8,1340.5 259.5,1339.9 261.2,1339.0 262.9,1340.7 264.5,1340.7 266.2,1338.7 267.9,1338.0 269.6,1335.3 271.3,1337.0 272.9,1340.3 274.6,1337.3 276.3,1339.9 278.0,1337.5 279.7,1335.8 281.3,1338.0 283.0,1337.5 284.7,1337.8 286.4,1337.9 288.1,1337.9 289.7,1337.3 291.4,1338.8 293.1,1338.5 294.8,1337.5 296.5,1337.9 298.1,1337.2 299.8,1338.5 301.5,1337.3 303.2,1338.7 304.9,1339.0 306.5,1338.0 308.2,1339.8 309.9,1337.8 311.6,1336.1 313.3,1337.8 314.9,1338.3 316.6,1338.2 318.3,1340.9 320.0,1339.4 321.7,1337.4 323.3,1338.8 325.0,1337.4 326.7,1339.6 328.4,1339.8 330.1,1337.9 331.7,1336.0 333.4,1338.1 335.1,1339.0 336.8,1340.9 338.5,1339.1 340.1,1339.6 341.8,1342.4 343.5,1340.4 345.2,1341.0 346.9,1341.4 348.5,1339.5 350.2,1338.1 351.9,1341.4 353.6,1340.0 355.3,1337.4 356.9,1339.3 358.6,1342.2 360.3,1339.4 362.0,1339.4 363.7,1339.8 365.3,1337.9 367.0,1337.1 368.7,1336.9 370.4,1336.2 372.1,1336.5 373.7,1335.4 375.4,1335.9 377.1,1334.7 378.8,1334.7 380.5,1337.7 382.1,1334.8 383.8,1336.0 385.5,1334.4 387.2,1337.4 388.9,1333.3 390.5,1333.8 392.2,1333.7 393.9,1330.8 395.6,1331.7 397.3,1330.4 398.9,1330.4 400.6,1330.6 402.3,1329.8 404.0,1331.0 405.7,1328.1 407.3,1328.6 409.0,1328.9 410.7,1327.5 412.4,1328.4 414.1,1325.2 415.7,1325.2 417.4,1323.3 418.8,1322.5 420.8,1322.7 422.5,1323.2 424.1,1326.8 425.8,1323.0 427.5,1322.6 429.2,1324.8 430.9,1322.1 432.5,1321.3 434.2,1319.4 435.9,1320.1 437.6,1320.1 439.3,1317.5 440.9,1317.1 442.6,1316.3 444.3,1315.8 446.0,1314.9 447.7,1313.4 449.3,1316.1 451.0,1312.6 452.7,1313.9 454.4,1315.5 456.1,1316.4 457.7,1314.8 459.4,1314.0 461.1,1313.7 462.8,1312.7 464.5,1313.3 466.1,1311.3 467.8,1310.4 469.5,1310.6 471.2,1310.9 472.9,1310.9 474.5,1312.9 476.2,1309.1 477.9,1306.9 479.6,1307.3 481.3,1304.6 482.9,1306.8 484.6,1307.4 486.3,1309.0 488.0,1306.7 489.7,1304.6 491.3,1307.1 493.0,1306.4 494.7,1308.3 497.4,1308.6 499.7,1305.8 501.4,1305.5 503.1,1302.7 504.8,1301.1 506.5,1298.5 508.1,1295.0 509.8,1293.1 511.5,1290.2 513.2,1290.2 514.9,1288.2 516.5,1284.4 519.0,1282.4 521.6,1285.6 523.3,1288.1 524.9,1291.9 526.6,1293.9 528.3,1295.4 530.0,1295.2 531.7,1296.5 533.3,1298.9 535.0,1301.5 536.7,1302.9 538.4,1306.6 540.1,1307.3 541.7,1307.8 543.0,1309.6 545.1,1307.9 546.8,1308.6 548.5,1304.5 550.1,1306.1 551.8,1304.7 553.5,1303.5 555.2,1302.6 556.9,1299.5 558.2,1296.0 560.2,1298.8 561.9,1300.4 563.3,1301.8 565.3,1302.1 566.9,1301.6 569.2,1301.8 570.3,1300.7 572.0,1298.7 573.7,1296.6 575.1,1295.1 577.0,1295.9 578.7,1296.0 580.4,1296.7 582.1,1296.8 583.7,1298.1 585.4,1295.5 587.1,1294.4 588.8,1295.2 590.5,1293.6 592.1,1289.7 593.8,1288.8 595.5,1287.8 597.2,1284.7 598.9,1284.0 600.5,1285.2 602.2,1282.5 603.9,1283.3 605.6,1283.7 607.3,1283.8 608.9,1281.5 610.6,1281.1 612.3,1284.5 614.0,1282.4 615.7,1283.6 617.3,1286.6 619.0,1285.1 621.5,1289.0 624.1,1284.0 625.7,1282.8 627.4,1280.1 629.1,1277.1 630.8,1279.6 632.5,1281.5 635.0,1283.3 637.5,1281.1 639.2,1279.8 640.9,1277.7 642.5,1278.7 644.2,1280.3 645.9,1278.9 647.6,1279.8 649.3,1281.3 650.9,1279.2 652.6,1277.9 654.3,1277.6 656.0,1273.9 657.7,1277.4 659.3,1282.6 661.0,1277.7 662.9,1278.2 664.4,1277.4 666.1,1274.7 667.7,1274.1 669.4,1273.1 671.1,1272.6 672.8,1273.2 674.5,1271.0 676.1,1269.3 677.8,1268.9 679.5,1270.0 681.2,1267.8 682.9,1267.5 684.5,1266.1 686.2,1267.6 687.9,1265.1 689.6,1265.2 691.3,1265.1 692.9,1264.6 695.0,1264.7 696.3,1263.3 698.0,1259.7 699.7,1259.6 701.3,1256.5 703.0,1257.4 704.7,1255.7 706.4,1255.6 708.1,1255.8 709.7,1256.8 711.4,1252.9 713.1,1254.2 714.8,1254.5 716.5,1255.1 718.1,1253.5 719.8,1252.7 721.5,1252.2 723.2,1250.3 724.9,1247.8 726.5,1246.9 728.2,1246.4 729.9,1246.2 731.6,1244.4 733.3,1244.6 734.9,1243.5 736.6,1240.8 738.3,1234.8 740.6,1236.0 743.3,1235.7 745.0,1233.7 746.7,1234.4 748.4,1235.6 750.1,1233.1 751.7,1230.4 753.4,1229.6 755.1,1229.0 756.8,1225.2 758.5,1223.6 760.1,1223.0 761.8,1223.5 763.5,1220.1 765.2,1220.0 766.9,1219.2 768.5,1217.6 770.2,1215.4 771.9,1214.8 773.6,1212.9 775.3,1212.0 776.9,1210.2 778.6,1207.9 780.3,1204.3 782.0,1204.1 783.7,1201.3 785.3,1200.3 787.0,1198.5 788.7,1200.2 790.4,1199.5 792.1,1196.4 793.7,1197.8 795.4,1195.4 797.1,1196.2 798.8,1198.7 800.5,1195.5 802.1,1195.6 803.8,1194.8 805.5,1194.0 807.2,1195.7 808.9,1197.9 810.5,1197.1 812.2,1197.0 813.9,1198.2 815.6,1199.0 817.3,1200.0 818.9,1199.6 820.6,1198.7 822.3,1199.5 824.0,1200.6 825.7,1202.0 827.3,1204.1 829.0,1202.9 830.7,1205.4 832.4,1206.3 834.1,1209.7 835.7,1210.6 837.4,1211.5 839.1,1213.1 840.8,1212.8 842.5,1214.9 844.1,1215.5 845.8,1216.6 847.5,1217.4 849.2,1219.5 850.9,1220.6 852.5,1219.9 854.2,1222.3 855.9,1224.6 857.6,1226.7 859.3,1227.1 860.9,1230.5 862.6,1229.1 864.3,1231.1 866.0,1228.2 867.7,1228.8 869.3,1229.9 871.0,1230.8 872.7,1232.2 874.4,1233.0 876.1,1233.7 877.7,1236.0 879.4,1235.0 881.1,1236.5 882.8,1238.2 884.5,1238.5 886.1,1241.2 888.5,1246.2 891.2,1242.2 892.9,1241.4 895.2,1238.4 897.9,1241.4 899.6,1244.8 901.3,1243.2 903.7,1244.4 906.3,1243.3 908.0,1242.6 910.1,1240.2 911.3,1242.8 913.0,1247.2 914.7,1245.0 916.4,1244.7 918.1,1246.4 919.7,1249.4 921.4,1247.3 923.1,1249.4 924.8,1248.7 926.5,1248.6 928.1,1246.8 929.8,1244.8 932.4,1238.4 934.9,1244.9 936.6,1249.1 938.2,1245.5 940.5,1241.6 941.6,1244.7 943.3,1252.4 945.9,1248.6 948.3,1247.8 950.0,1246.7 951.7,1249.1 953.3,1248.2 955.0,1245.8 956.7,1244.4 958.4,1244.8 960.1,1246.0 961.7,1244.9 963.4,1247.2 965.1,1244.1 966.8,1245.0 968.5,1241.8 970.1,1242.4 971.8,1241.0 973.5,1242.4 975.2,1240.7 976.9,1239.2 978.5,1237.4 980.2,1238.9 981.9,1237.3 983.0,1235.8 985.3,1237.9 986.9,1239.2 988.6,1237.8 990.3,1239.4 992.0,1240.9 993.7,1241.4 995.3,1242.6 997.0,1240.2 998.7,1238.9 1000.4,1238.2 1002.1,1238.3 1003.7,1237.6 1005.4,1238.5 1006.7,1239.8 1008.8,1235.1 1010.5,1232.1 1012.1,1230.6 1013.8,1228.2 1015.6,1224.6 1017.2,1227.7 1018.9,1233.8 1020.5,1229.2 1021.9,1234.0 1023.9,1227.3 1025.6,1224.9 1027.3,1223.4 1028.9,1221.6 1030.8,1219.2 1032.3,1223.2 1034.0,1226.7 1035.7,1229.8 1037.3,1232.9 1038.8,1237.1 1040.7,1235.2 1042.4,1233.6 1044.1,1235.2 1045.7,1236.5 1047.4,1235.7 1049.1,1236.3 1050.8,1235.0 1052.5,1235.5 1054.1,1232.8 1055.8,1233.3 1057.5,1232.3 1059.2,1233.9 1060.9,1234.1 1062.5,1233.5 1064.2,1235.9 1065.9,1234.9 1067.6,1235.0 1069.3,1233.9 1070.9,1234.7 1072.6,1233.1 1074.3,1234.9 1076.0,1236.9 1077.7,1234.9 1079.3,1234.0 1081.0,1235.6 1082.7,1233.4 1084.4,1235.9 1086.1,1234.7 1087.7,1232.7 1089.4,1234.4 1091.1,1232.8 1092.8,1235.0 1094.5,1233.2 1096.1,1230.8 1097.8,1233.1 1099.5,1236.3 1101.2,1233.4 1102.9,1233.9 1104.5,1230.9 1106.2,1233.1 1107.9,1233.8 1109.6,1233.2 1111.3,1236.8 1112.9,1233.6 1114.6,1234.6 1116.3,1232.8 1118.0,1232.1 1119.7,1234.8 1121.3,1232.5 1123.0,1231.5 1124.7,1230.8 1126.4,1227.7 1128.1,1230.5 1129.7,1235.4 1131.4,1230.6 1133.1,1229.8 1134.8,1230.9 1136.5,1231.5 1138.1,1230.2 1139.8,1229.4 1141.5,1230.4 1143.2,1231.0 1144.9,1228.2 1146.5,1228.3 1148.2,1231.9 1149.9,1229.6 1151.6,1232.2 1153.3,1228.7 1154.9,1227.9 1156.6,1228.6 1158.3,1230.0 1160.0,1228.6 1161.7,1227.8 1163.3,1225.6 1165.0,1228.5 1166.7,1228.8 1168.4,1227.3 1170.1,1230.0 1171.7,1227.2 1173.4,1227.2 1175.1,1224.6 1176.8,1226.4 1178.5,1225.9 1180.1,1226.7 1181.8,1224.3 1183.5,1226.8 1185.2,1228.9 1186.9,1227.1 1188.5,1226.8 1190.2,1227.3 1191.9,1229.5 1193.6,1227.3 1195.3,1227.3 1196.9,1227.6 1198.6,1226.7 1200.3,1227.2 1202.0,1224.9 1203.7,1225.7 1205.3,1227.0 1207.0,1226.5 1208.7,1227.0 1210.4,1224.5 1212.1,1225.2 1213.7,1225.3 1215.4,1224.8 1217.1,1224.5 1218.8,1221.6 1220.5,1223.5 1222.1,1227.1 1223.8,1223.0 1225.5,1222.6 1227.2,1220.2 1228.9,1222.1 1230.5,1221.9 1232.2,1220.7 1233.9,1219.5 1235.6,1220.6 1237.3,1222.5 1238.9,1219.7 1240.6,1218.7 1242.3,1221.2 1244.0,1219.3 1245.7,1216.3 1247.3,1218.3 1249.0,1215.1 1250.7,1218.0 1252.4,1222.5 1254.1,1217.8 1255.7,1218.3 1257.4,1216.2 1259.1,1218.4 1260.8,1217.1 1262.5,1218.9 1264.1,1217.4 1265.8,1218.5 1267.5,1217.0 1269.2,1216.8 1270.9,1213.2 1272.5,1216.1 1274.2,1215.3 1275.9,1215.1 1277.6,1211.9 1279.3,1214.2 1280.9,1214.6 1282.6,1211.7 1284.3,1213.8 1286.0,1214.8 1287.7,1214.2 1289.3,1211.1 1291.0,1214.8 1292.7,1216.8 1294.4,1214.7 1296.1,1214.3 1297.7,1213.7 1299.4,1214.3 1301.1,1216.1 1302.8,1213.9 1304.5,1215.1 1306.1,1214.5 1307.8,1212.2 1309.5,1211.1 1311.2,1213.7 1312.9,1207.7 1314.5,1212.3 1316.2,1219.1 1317.9,1213.0 1319.6,1213.3 1321.3,1216.9 1322.9,1213.1 1324.6,1214.5 1326.3,1214.5 1328.0,1212.1 1329.7,1210.6 1331.3,1212.0 1333.0,1212.2 1334.7,1211.7 1336.4,1212.3 1338.1,1213.9 1339.7,1211.0 1341.4,1212.0 1343.1,1215.4 1344.8,1211.1 1346.5,1212.6 1348.1,1211.2 1349.8,1211.3 1351.5,1211.5 1353.2,1209.2 1354.9,1210.7 1356.5,1212.1 1358.2,1209.2 1359.9,1210.3 1361.6,1207.8 1363.3,1210.1 1364.9,1213.2 1366.6,1210.0 1368.3,1210.1 1370.0,1209.8 1371.7,1204.4 1373.3,1209.1 1375.0,1215.1 1376.7,1209.3 1378.4,1209.6 1380.1,1212.5 1381.7,1209.1 1383.4,1209.0 1385.1,1209.3 1386.8,1208.2 1388.5,1205.2 1390.1,1207.8 1391.8,1207.7 1393.5,1212.0 1395.2,1208.2 1396.9,1208.0 1398.5,1206.1 1400.2,1206.9 1401.9,1204.8 1403.6,1206.5 1405.3,1209.4 1406.9,1206.6 1408.6,1207.7 1410.3,1205.6 1412.0,1208.1 1413.7,1206.2 1415.3,1207.2 1417.0,1205.4 1418.7,1205.1 1420.4,1204.6 1422.1,1206.2 1423.7,1205.6 1425.4,1202.1 1427.1,1205.0 1428.8,1205.0 1430.5,1203.5 1432.1,1204.3 1433.8,1204.4 1435.5,1203.7 1437.2,1202.4 1438.9,1205.2 1440.5,1204.1 1442.2,1204.0 1443.9,1202.9 1445.6,1203.4 1447.3,1200.3 1448.9,1202.9 1450.6,1207.1 1452.3,1202.8 1454.0,1201.8 1455.7,1201.5 1457.3,1203.6 1459.0,1200.7 1460.7,1202.3 1462.4,1201.9 1464.1,1202.7 1465.7,1201.4 1467.4,1200.7 1469.1,1201.8 1470.8,1201.2 1472.5,1197.7 1474.1,1201.4 1475.8,1204.9 1477.5,1200.8 1479.2,1202.6 1480.9,1201.1 1482.5,1202.4 1484.2,1201.3 1485.9,1198.8 1487.6,1200.6 1489.3,1199.2 1490.9,1201.1 1492.6,1194.3 1494.3,1200.8 1496.0,1200.8 1497.7,1206.2 1499.3,1200.4 1501.0,1200.6 1502.7,1202.1 1504.4,1200.4 1506.1,1201.0 1507.7,1198.2 1509.4,1200.7 1511.1,1199.8 1512.8,1200.3 1514.5,1199.4 1516.1,1201.0 1517.8,1198.8 1519.5,1200.4 1521.2,1203.7 1522.9,1200.3 1524.5,1203.8 1526.2,1200.7 1527.9,1199.5 1529.6,1199.9 1531.3,1200.7 1532.9,1198.4 1534.6,1200.4 1536.3,1200.5 1538.0,1197.0 1539.7,1199.8 1541.3,1202.2 1543.0,1199.7 1544.7,1199.5 1546.4,1196.9 1548.1,1199.1 1549.7,1199.2 1551.4,1199.1 1553.1,1200.4 1554.8,1197.4 1556.5,1199.7 1558.1,1198.6 1559.8,1198.3 1561.5,1193.9 1563.2,1198.2 1564.9,1197.4 1566.5,1195.8 1568.2,1198.6 1569.9,1196.9 1571.6,1198.4 1573.3,1197.8 1574.9,1195.1 1576.6,1197.7 1578.3,1201.7 1580.0,1197.5 1581.7,1196.8 1583.3,1194.7 1585.0,1199.0 1586.7,1197.5 1588.4,1197.1 1590.1,1196.7 1591.7,1197.4 1593.4,1195.9 1595.1,1197.1 1596.8,1197.3 1598.5,1195.7 1600.1,1196.0 1601.8,1194.0 1603.5,1195.4 1605.2,1196.3 1606.9,1195.7 1608.5,1196.1 1610.2,1197.8 1611.9,1195.4 1613.6,1195.9 1615.3,1195.5 1616.9,1199.0 1618.6,1195.6 1620.3,1194.4 1622.0,1197.1 1623.7,1196.1 1625.3,1196.6 1627.0,1195.9 1628.7,1195.3 1630.4,1196.1 1632.1,1193.7 1633.7,1196.1 1635.4,1195.0 1637.1,1199.2 1638.8,1194.9 1640.5,1192.8 1642.1,1194.6 1643.8,1196.2 1645.5,1196.0 1647.2,1194.3 1648.9,1189.7 1650.5,1194.3 1652.2,1194.1 1653.9,1197.6 1655.6,1194.4 1657.3,1194.8 1658.9,1194.7 1660.6,1193.8 1662.3,1193.7 1664.0,1196.2 1665.7,1194.3 1667.3,1194.5 1669.0,1194.1 1670.7,1193.1 1672.4,1196.2 1674.1,1192.9 1675.7,1191.5 1677.4,1193.2 1679.1,1194.2 1680.8,1193.2 1682.5,1193.8 1684.1,1191.7 1685.8,1194.0 1687.5,1193.8 1690.0,1194.0 1690.0,1193.1 1692.5,1193.0 1694.2,1196.6 1695.9,1192.9 1697.6,1193.2 1699.3,1193.1 1700.9,1190.4 1702.6,1192.7 1704.3,1192.8 1706.0,1190.8 1707.7,1192.7 1709.3,1196.0 1711.0,1192.9 1712.7,1192.7 1714.4,1194.4 1716.1,1191.6 1717.7,1191.3 1719.4,1191.5 1721.1,1192.4 1722.8,1197.3 1724.5,1192.7 1726.1,1193.2 1727.8,1192.4 1729.5,1192.7 1731.2,1189.4 1732.9,1192.9 1734.5,1195.6 1736.2,1192.8 1737.9,1191.6 1739.6,1193.0 1741.3,1188.3 1742.9,1193.2 1744.6,1193.1 1746.3,1192.3 1748.0,1194.8 1749.7,1191.9 1751.3,1191.2 1753.0,1192.5 1754.7,1193.1 1756.4,1191.1 1758.1,1193.1 1759.7,1197.1 1761.4,1193.4 1763.1,1193.6 1764.8,1195.8 1766.5,1193.5 1768.1,1192.1 1769.8,1193.8 1771.5,1190.5 1773.2,1193.2 1774.9,1194.0 1776.5,1193.4 1778.2,1193.3 1779.9,1193.6 1781.6,1190.5 1783.3,1193.2 1784.9,1196.0 1786.6,1193.2 1788.3,1193.6 1790.0,1192.1 1791.7,1193.4 1793.3,1190.8 1795.0,1193.5 1796.7,1195.8 1798.4,1192.8 1800.1,1190.2 1801.7,1193.3 1803.4,1193.4 1805.1,1196.2 1806.8,1193.4 1808.5,1192.5 1810.1,1193.4 1811.8,1197.0 1813.5,1194.1 1815.2,1195.8"/>
<path stroke-linejoin="bevel" transform="translate(0,1.3)" d="M133.5,1363.6 135.2,1363.6 136.9,1362.7 138.5,1364.5 140.2,1362.9 141.9,1360.9 143.6,1362.0 145.3,1360.0 146.9,1361.5 148.6,1360.1 150.3,1362.0 152.0,1361.2 153.7,1361.5 155.3,1363.5 157.0,1359.7 158.7,1359.2 160.4,1357.0 162.1,1357.5 163.7,1354.0 165.4,1350.7 167.1,1346.4 168.8,1348.7 170.5,1349.7 172.1,1350.0 173.9,1351.2 175.5,1350.9 177.2,1350.9 178.9,1348.7 180.5,1350.1 182.2,1347.3 183.9,1347.2 185.6,1347.6 187.3,1346.3 188.9,1343.0 190.6,1343.7 192.3,1345.2 194.0,1346.1 195.7,1344.3 197.3,1342.5 199.0,1343.3 200.7,1340.9 202.4,1342.0 204.1,1343.4 205.7,1341.1 207.4,1340.5 209.1,1341.1 210.8,1339.6 212.5,1338.0 214.1,1339.5 215.8,1340.7 217.5,1340.8 219.2,1338.0 220.9,1340.2 222.5,1340.3 224.2,1339.4 225.9,1340.4 227.6,1338.6 229.3,1340.8 230.9,1340.8 232.6,1340.3 234.3,1340.4 236.0,1337.0 237.7,1339.7 239.3,1343.8 241.0,1340.4 242.7,1339.6 244.4,1342.4 246.1,1340.2 247.7,1340.8 249.4,1342.5 251.1,1341.3 252.8,1339.8 254.5,1338.1 256.1,1339.5 257.8,1340.5 259.5,1339.9 261.2,1339.0 262.9,1340.7 264.5,1340.7 266.2,1338.7 267.9,1338.0 269.6,1335.3 271.3,1337.0 272.9,1340.3 274.6,1337.3 276.3,1339.9 278.0,1337.5 279.7,1335.8 281.3,1338.0 283.0,1337.5 284.7,1337.8 286.4,1337.9 288.1,1337.9 289.7,1337.3 291.4,1338.8 293.1,1338.5 294.8,1337.5 296.5,1337.9 298.1,1337.2 299.8,1338.5 301.5,1337.3 303.2,1338.7 304.9,1339.0 306.5,1338.0 308.2,1339.8 309.9,1337.8 311.6,1336.1 313.3,1337.8 314.9,1338.3 316.6,1338.2 318.3,1340.9 320.0,1339.4 321.7,1337.4 323.3,1338.8 325.0,1337.4 326.7,1339.6 328.4,1339.8 330.1,1337.9 331.7,1336.0 333.4,1338.1 335.1,1339.0 336.8,1340.9 338.5,1339.1 340.1,1339.6 341.8,1342.4 343.5,1340.4 345.2,1341.0 346.9,1341.4 348.5,1339.5 350.2,1338.1 351.9,1341.4 353.6,1340.0 355.3,1337.4 356.9,1339.3 358.6,1342.2 360.3,1339.4 362.0,1339.4 363.7,1339.8 365.3,1337.9 367.0,1337.1 368.7,1336.9 370.4,1336.2 372.1,1336.5 373.7,1335.4 375.4,1335.9 377.1,1334.7 378.8,1334.7 380.5,1337.7 382.1,1334.8 383.8,1336.0 385.5,1334.4 387.2,1337.4 388.9,1333.3 390.5,1333.8 392.2,1333.7 393.9,1330.8 395.6,1331.7 397.3,1330.4 398.9,1330.4 400.6,1330.6 402.3,1329.8 404.0,1331.0 405.7,1328.1 407.3,1328.6 409.0,1328.9 410.7,1327.5 412.4,1328.4 414.1,1325.2 415.7,1325.2 417.4,1323.3 418.8,1322.5 420.8,1322.7 422.5,1323.2 424.1,1326.8 425.8,1323.0 427.5,1322.6 429.2,1324.8 430.9,1322.1 432.5,1321.3 434.2,1319.4 435.9,1320.1 437.6,1320.1 439.3,1317.5 440.9,1317.1 442.6,1316.3 444.3,1315.8 446.0,1314.9 447.7,1313.4 449.3,1316.1 451.0,1312.6 452.7,1313.9 454.4,1315.5 456.1,1316.4 457.7,1314.8 459.4,1314.0 461.1,1313.7 462.8,1312.7 464.5,1313.3 466.1,1311.3 467.8,1310.4 469.5,1310.6 471.2,1310.9 472.9,1310.9 474.5,1312.9 476.2,1309.1 477.9,1306.9 479.6,1307.3 481.3,1304.6 482.9,1306.8 484.6,1307.4 486.3,1309.0 488.0,1306.7 489.7,1304.6 491.3,1307.1 493.0,1306.4 494.7,1308.3 497.4,1308.6 499.7,1305.8 501.4,1305.5 503.1,1302.7 504.8,1301.1 506.5,1298.5 508.1,1295.0 509.8,1293.1 511.5,1290.2 513.2,1290.2 514.9,1288.2 516.5,1284.4 519.0,1282.4 521.6,1285.6 523.3,1288.1 524.9,1291.9 526.6,1293.9 528.3,1295.4 530.0,1295.2 531.7,1296.5 533.3,1298.9 535.0,1301.5 536.7,1302.9 538.4,1306.6 540.1,1307.3 541.7,1307.8 543.0,1309.6 545.1,1307.9 546.8,1308.6 548.5,1304.5 550.1,1306.1 551.8,1304.7 553.5,1303.5 555.2,1302.6 556.9,1299.5 558.2,1296.0 560.2,1298.8 561.9,1300.4 563.3,1301.8 565.3,1302.1 566.9,1301.6 569.2,1301.8 570.3,1300.7 572.0,1298.7 573.7,1296.6 575.1,1295.1 577.0,1295.9 578.7,1296.0 580.4,1296.7 582.1,1296.8 583.7,1298.1 585.4,1295.5 587.1,1294.4 588.8,1295.2 590.5,1293.6 592.1,1289.7 593.8,1288.8 595.5,1287.8 597.2,1284.7 598.9,1284.0 600.5,1285.2 602.2,1282.5 603.9,1283.3 605.6,1283.7 607.3,1283.8 608.9,1281.5 610.6,1281.1 612.3,1284.5 614.0,1282.4 615.7,1283.6 617.3,1286.6 619.0,1285.1 621.5,1289.0 624.1,1284.0 625.7,1282.8 627.4,1280.1 629.1,1277.1 630.8,1279.6 632.5,1281.5 635.0,1283.3 637.5,1281.1 639.2,1279.8 640.9,1277.7 642.5,1278.7 644.2,1280.3 645.9,1278.9 647.6,1279.8 649.3,1281.3 650.9,1279.2 652.6,1277.9 654.3,1277.6 656.0,1273.9 657.7,1277.4 659.3,1282.6 661.0,1277.7 662.9,1278.2 664.4,1277.4 666.1,1274.7 667.7,1274.1 669.4,1273.1 671.1,1272.6 672.8,1273.2 674.5,1271.0 676.1,1269.3 677.8,1268.9 679.5,1270.0 681.2,1267.8 682.9,1267.5 684.5,1266.1 686.2,1267.6 687.9,1265.1 689.6,1265.2 691.3,1265.1 692.9,1264.6 695.0,1264.7 696.3,1263.3 698.0,1259.7 699.7,1259.6 701.3,1256.5 703.0,1257.4 704.7,1255.7 706.4,1255.6 708.1,1255.8 709.7,1256.8 711.4,1252.9 713.1,1254.2 714.8,1254.5 716.5,1255.1 718.1,1253.5 719.8,1252.7 721.5,1252.2 723.2,1250.3 724.9,1247.8 726.5,1246.9 728.2,1246.4 729.9,1246.2 731.6,1244.4 733.3,1244.6 734.9,1243.5 736.6,1240.8 738.3,1234.8 740.6,1236.0 743.3,1235.7 745.0,1233.7 746.7,1234.4 748.4,1235.6 750.1,1233.1 751.7,1230.4 753.4,1229.6 755.1,1229.0 756.8,1225.2 758.5,1223.6 760.1,1223.0 761.8,1223.5 763.5,1220.1 765.2,1220.0 766.9,1219.2 768.5,1217.6 770.2,1215.4 771.9,1214.8 773.6,1212.9 775.3,1212.0 776.9,1210.2 778.6,1207.9 780.3,1204.3 782.0,1204.1 783.7,1201.3 785.3,1200.3 787.0,1198.5 788.7,1200.2 790.4,1199.5 792.1,1196.4 793.7,1197.8 795.4,1195.4 797.1,1196.2 798.8,1198.7 800.5,1195.5 802.1,1195.6 803.8,1194.8 805.5,1194.0 807.2,1195.7 808.9,1197.9 810.5,1197.1 812.2,1197.0 813.9,1198.2 815.6,1199.0 817.3,1200.0 818.9,1199.6 820.6,1198.7 822.3,1199.5 824.0,1200.6 825.7,1202.0 827.3,1204.1 829.0,1202.9 830.7,1205.4 832.4,1206.3 834.1,1209.7 835.7,1210.6 837.4,1211.5 839.1,1213.1 840.8,1212.8 842.5,1214.9 844.1,1215.5 845.8,1216.6 847.5,1217.4 849.2,1219.5 850.9,1220.6 852.5,1219.9 854.2,1222.3 855.9,1224.6 857.6,1226.7 859.3,1227.1 860.9,1230.5 862.6,1229.1 864.3,1231.1 866.0,1228.2 867.7,1228.8 869.3,1229.9 871.0,1230.8 872.7,1232.2 874.4,1233.0 876.1,1233.7 877.7,1236.0 879.4,1235.0 881.1,1236.5 882.8,1238.2 884.5,1238.5 886.1,1241.2 888.5,1246.2 891.2,1242.2 892.9,1241.4 895.2,1238.4 897.9,1241.4 899.6,1244.8 901.3,1243.2 903.7,1244.4 906.3,1243.3 908.0,1242.6 910.1,1240.2 911.3,1242.8 913.0,1247.2 914.7,1245.0 916.4,1244.7 918.1,1246.4 919.7,1249.4 921.4,1247.3 923.1,1249.4 924.8,1248.7 926.5,1248.6 928.1,1246.8 929.8,1244.8 932.4,1238.4 934.9,1244.9 936.6,1249.1 938.2,1245.5 940.5,1241.6 941.6,1244.7 943.3,1252.4 945.9,1248.6 948.3,1247.8 950.0,1246.7 951.7,1249.1 953.3,1248.2 955.0,1245.8 956.7,1244.4 958.4,1244.8 960.1,1246.0 961.7,1244.9 963.4,1247.2 965.1,1244.1 966.8,1245.0 968.5,1241.8 970.1,1242.4 971.8,1241.0 973.5,1242.4 975.2,1240.7 976.9,1239.2 978.5,1237.4 980.2,1238.9 981.9,1237.3 983.0,1235.8 985.3,1237.9 986.9,1239.2 988.6,1237.8 990.3,1239.4 992.0,1240.9 993.7,1241.4 995.3,1242.6 997.0,1240.2 998.7,1238.9 1000.4,1238.2 1002.1,1238.3 1003.7,1237.6 1005.4,1238.5 1006.7,1239.8 1008.8,1235.1 1010.5,1232.1 1012.1,1230.6 1013.8,1228.2 1015.6,1224.6 1017.2,1227.7 1018.9,1233.8 1020.5,1229.2 1021.9,1234.0 1023.9,1227.3 1025.6,1224.9 1027.3,1223.4 1028.9,1221.6 1030.8,1219.2 1032.3,1223.2 1034.0,1226.7 1035.7,1229.8 1037.3,1232.9 1038.8,1237.1 1040.7,1235.2 1042.4,1233.6 1044.1,1235.2 1045.7,1236.5 1047.4,1235.7 1049.1,1236.3 1050.8,1235.0 1052.5,1235.5 1054.1,1232.8 1055.8,1233.3 1057.5,1232.3 1059.2,1233.9 1060.9,1234.1 1062.5,1233.5 1064.2,1235.9 1065.9,1234.9 1067.6,1235.0 1069.3,1233.9 1070.9,1234.7 1072.6,1233.1 1074.3,1234.9 1076.0,1236.9 1077.7,1234.9 1079.3,1234.0 1081.0,1235.6 1082.7,1233.4 1084.4,1235.9 1086.1,1234.7 1087.7,1232.7 1089.4,1234.4 1091.1,1232.8 1092.8,1235.0 1094.5,1233.2 1096.1,1230.8 1097.8,1233.1 1099.5,1236.3 1101.2,1233.4 1102.9,1233.9 1104.5,1230.9 1106.2,1233.1 1107.9,1233.8 1109.6,1233.2 1111.3,1236.8 1112.9,1233.6 1114.6,1234.6 1116.3,1232.8 1118.0,1232.1 1119.7,1234.8 1121.3,1232.5 1123.0,1231.5 1124.7,1230.8 1126.4,1227.7 1128.1,1230.5 1129.7,1235.4 1131.4,1230.6 1133.1,1229.8 1134.8,1230.9 1136.5,1231.5 1138.1,1230.2 1139.8,1229.4 1141.5,1230.4 1143.2,1231.0 1144.9,1228.2 1146.5,1228.3 1148.2,1231.9 1149.9,1229.6 1151.6,1232.2 1153.3,1228.7 1154.9,1227.9 1156.6,1228.6 1158.3,1230.0 1160.0,1228.6 1161.7,1227.8 1163.3,1225.6 1165.0,1228.5 1166.7,1228.8 1168.4,1227.3 1170.1,1230.0 1171.7,1227.2 1173.4,1227.2 1175.1,1224.6 1176.8,1226.4 1178.5,1225.9 1180.1,1226.7 1181.8,1224.3 1183.5,1226.8 1185.2,1228.9 1186.9,1227.1 1188.5,1226.8 1190.2,1227.3 1191.9,1229.5 1193.6,1227.3 1195.3,1227.3 1196.9,1227.6 1198.6,1226.7 1200.3,1227.2 1202.0,1224.9 1203.7,1225.7 1205.3,1227.0 1207.0,1226.5 1208.7,1227.0 1210.4,1224.5 1212.1,1225.2 1213.7,1225.3 1215.4,1224.8 1217.1,1224.5 1218.8,1221.6 1220.5,1223.5 1222.1,1227.1 1223.8,1223.0 1225.5,1222.6 1227.2,1220.2 1228.9,1222.1 1230.5,1221.9 1232.2,1220.7 1233.9,1219.5 1235.6,1220.6 1237.3,1222.5 1238.9,1219.7 1240.6,1218.7 1242.3,1221.2 1244.0,1219.3 1245.7,1216.3 1247.3,1218.3 1249.0,1215.1 1250.7,1218.0 1252.4,1222.5 1254.1,1217.8 1255.7,1218.3 1257.4,1216.2 1259.1,1218.4 1260.8,1217.1 1262.5,1218.9 1264.1,1217.4 1265.8,1218.5 1267.5,1217.0 1269.2,1216.8 1270.9,1213.2 1272.5,1216.1 1274.2,1215.3 1275.9,1215.1 1277.6,1211.9 1279.3,1214.2 1280.9,1214.6 1282.6,1211.7 1284.3,1213.8 1286.0,1214.8 1287.7,1214.2 1289.3,1211.1 1291.0,1214.8 1292.7,1216.8 1294.4,1214.7 1296.1,1214.3 1297.7,1213.7 1299.4,1214.3 1301.1,1216.1 1302.8,1213.9 1304.5,1215.1 1306.1,1214.5 1307.8,1212.2 1309.5,1211.1 1311.2,1213.7 1312.9,1207.7 1314.5,1212.3 1316.2,1219.1 1317.9,1213.0 1319.6,1213.3 1321.3,1216.9 1322.9,1213.1 1324.6,1214.5 1326.3,1214.5 1328.0,1212.1 1329.7,1210.6 1331.3,1212.0 1333.0,1212.2 1334.7,1211.7 1336.4,1212.3 1338.1,1213.9 1339.7,1211.0 1341.4,1212.0 1343.1,1215.4 1344.8,1211.1 1346.5,1212.6 1348.1,1211.2 1349.8,1211.3 1351.5,1211.5 1353.2,1209.2 1354.9,1210.7 1356.5,1212.1 1358.2,1209.2 1359.9,1210.3 1361.6,1207.8 1363.3,1210.1 1364.9,1213.2 1366.6,1210.0 1368.3,1210.1 1370.0,1209.8 1371.7,1204.4 1373.3,1209.1 1375.0,1215.1 1376.7,1209.3 1378.4,1209.6 1380.1,1212.5 1381.7,1209.1 1383.4,1209.0 1385.1,1209.3 1386.8,1208.2 1388.5,1205.2 1390.1,1207.8 1391.8,1207.7 1393.5,1212.0 1395.2,1208.2 1396.9,1208.0 1398.5,1206.1 1400.2,1206.9 1401.9,1204.8 1403.6,1206.5 1405.3,1209.4 1406.9,1206.6 1408.6,1207.7 1410.3,1205.6 1412.0,1208.1 1413.7,1206.2 1415.3,1207.2 1417.0,1205.4 1418.7,1205.1 1420.4,1204.6 1422.1,1206.2 1423.7,1205.6 1425.4,1202.1 1427.1,1205.0 1428.8,1205.0 1430.5,1203.5 1432.1,1204.3 1433.8,1204.4 1435.5,1203.7 1437.2,1202.4 1438.9,1205.2 1440.5,1204.1 1442.2,1204.0 1443.9,1202.9 1445.6,1203.4 1447.3,1200.3 1448.9,1202.9 1450.6,1207.1 1452.3,1202.8 1454.0,1201.8 1455.7,1201.5 1457.3,1203.6 1459.0,1200.7 1460.7,1202.3 1462.4,1201.9 1464.1,1202.7 1465.7,1201.4 1467.4,1200.7 1469.1,1201.8 1470.8,1201.2 1472.5,1197.7 1474.1,1201.4 1475.8,1204.9 1477.5,1200.8 1479.2,1202.6 1480.9,1201.1 1482.5,1202.4 1484.2,1201.3 1485.9,1198.8 1487.6,1200.6 1489.3,1199.2 1490.9,1201.1 1492.6,1194.3 1494.3,1200.8 1496.0,1200.8 1497.7,1206.2 1499.3,1200.4 1501.0,1200.6 1502.7,1202.1 1504.4,1200.4 1506.1,1201.0 1507.7,1198.2 1509.4,1200.7 1511.1,1199.8 1512.8,1200.3 1514.5,1199.4 1516.1,1201.0 1517.8,1198.8 1519.5,1200.4 1521.2,1203.7 1522.9,1200.3 1524.5,1203.8 1526.2,1200.7 1527.9,1199.5 1529.6,1199.9 1531.3,1200.7 1532.9,1198.4 1534.6,1200.4 1536.3,1200.5 1538.0,1197.0 1539.7,1199.8 1541.3,1202.2 1543.0,1199.7 1544.7,1199.5 1546.4,1196.9 1548.1,1199.1 1549.7,1199.2 1551.4,1199.1 1553.1,1200.4 1554.8,1197.4 1556.5,1199.7 1558.1,1198.6 1559.8,1198.3 1561.5,1193.9 1563.2,1198.2 1564.9,1197.4 1566.5,1195.8 1568.2,1198.6 1569.9,1196.9 1571.6,1198.4 1573.3,1197.8 1574.9,1195.1 1576.6,1197.7 1578.3,1201.7 1580.0,1197.5 1581.7,1196.8 1583.3,1194.7 1585.0,1199.0 1586.7,1197.5 1588.4,1197.1 1590.1,1196.7 1591.7,1197.4 1593.4,1195.9 1595.1,1197.1 1596.8,1197.3 1598.5,1195.7 1600.1,1196.0 1601.8,1194.0 1603.5,1195.4 1605.2,1196.3 1606.9,1195.7 1608.5,1196.1 1610.2,1197.8 1611.9,1195.4 1613.6,1195.9 1615.3,1195.5 1616.9,1199.0 1618.6,1195.6 1620.3,1194.4 1622.0,1197.1 1623.7,1196.1 1625.3,1196.6 1627.0,1195.9 1628.7,1195.3 1630.4,1196.1 1632.1,1193.7 1633.7,1196.1 1635.4,1195.0 1637.1,1199.2 1638.8,1194.9 1640.5,1192.8 1642.1,1194.6 1643.8,1196.2 1645.5,1196.0 1647.2,1194.3 1648.9,1189.7 1650.5,1194.3 1652.2,1194.1 1653.9,1197.6 1655.6,1194.4 1657.3,1194.8 1658.9,1194.7 1660.6,1193.8 1662.3,1193.7 1664.0,1196.2 1665.7,1194.3 1667.3,1194.5 1669.0,1194.1 1670.7,1193.1 1672.4,1196.2 1674.1,1192.9 1675.7,1191.5 1677.4,1193.2 1679.1,1194.2 1680.8,1193.2 1682.5,1193.8 1684.1,1191.7 1685.8,1194.0 1687.5,1193.8 1690.0,1194.0 1690.0,1193.1 1692.5,1193.0 1694.2,1196.6 1695.9,1192.9 1697.6,1193.2 1699.3,1193.1 1700.9,1190.4 1702.6,1192.7 1704.3,1192.8 1706.0,1190.8 1707.7,1192.7 1709.3,1196.0 1711.0,1192.9 1712.7,1192.7 1714.4,1194.4 1716.1,1191.6 1717.7,1191.3 1719.4,1191.5 1721.1,1192.4 1722.8,1197.3 1724.5,1192.7 1726.1,1193.2 1727.8,1192.4 1729.5,1192.7 1731.2,1189.4 1732.9,1192.9 1734.5,1195.6 1736.2,1192.8 1737.9,1191.6 1739.6,1193.0 1741.3,1188.3 1742.9,1193.2 1744.6,1193.1 1746.3,1192.3 1748.0,1194.8 1749.7,1191.9 1751.3,1191.2 1753.0,1192.5 1754.7,1193.1 1756.4,1191.1 1758.1,1193.1 1759.7,1197.1 1761.4,1193.4 1763.1,1193.6 1764.8,1195.8 1766.5,1193.5 1768.1,1192.1 1769.8,1193.8 1771.5,1190.5 1773.2,1193.2 1774.9,1194.0 1776.5,1193.4 1778.2,1193.3 1779.9,1193.6 1781.6,1190.5 1783.3,1193.2 1784.9,1196.0 1786.6,1193.2 1788.3,1193.6 1790.0,1192.1 1791.7,1193.4 1793.3,1190.8 1795.0,1193.5 1796.7,1195.8 1798.4,1192.8 1800.1,1190.2 1801.7,1193.3 1803.4,1193.4 1805.1,1196.2 1806.8,1193.4 1808.5,1192.5 1810.1,1193.4 1811.8,1197.0 1813.5,1194.1 1815.2,1195.8"/>
<path stroke-linejoin="miter" stroke-miterlimit="10" d="M133.5,1363.6 135.2,1363.6 136.9,1362.7 138.5,1364.5 140.2,1362.9 141.9,1360.9 143.6,1362.0 145.3,1360.0 146.9,1361.5 148.6,1360.1 150.3,1362.0 152.0,1361.2 153.7,1361.5 155.3,1363.5 157.0,1359.7 158.7,1359.2 160.4,1357.0 162.1,1357.5 163.7,1354.0 165.4,1350.7 167.1,1346.4 168.8,1348.7 170.5,1349.7 172.1,1350.0 173.9,1351.2 175.5,1350.9 177.2,1350.9 178.9,1348.7 180.5,1350.1 182.2,1347.3 183.9,1347.2 185.6,1347.6 187.3,1346.3 188.9,1343.0 190.6,1343.7 192.3,1345.2 194.0,1346.1 195.7,1344.3 197.3,1342.5 199.0,1343.3 200.7,1340.9 202.4,1342.0 204.1,1343.4 205.7,1341.1 207.4,1340.5 209.1,1341.1 210.8,1339.6 212.5,1338.0 214.1,1339.5 215.8,1340.7 217.5,1340.8 219.2,1338.0 220.9,1340.2 222.5,1340.3 224.2,1339.4 225.9,1340.4 227.6,1338.6 229.3,1340.8 230.9,1340.8 232.6,1340.3 234.3,1340.4 236.0,1337.0 237.7,1339.7 239.3,1343.8 241.0,1340.4 242.7,1339.6 244.4,1342.4 246.1,1340.2 247.7,1340.8 249.4,1342.5 251.1,1341.3 252.8,1339.8 254.5,1338.1 256.1,1339.5 257.8,1340.5 259.5,1339.9 261.2,1339.0 262.9,1340.7 264.5,1340.7 266.2,1338.7 267.9,1338.0 269.6,1335.3 271.3,1337.0 272.9,1340.3 274.6,1337.3 276.3,1339.9 278.0,1337.5 279.7,1335.8 281.3,1338.0 283.0,1337.5 284.7,1337.8 286.4,1337.9 288.1,1337.9 289.7,1337.3 291.4,1338.8 293.1,1338.5 294.8,1337.5 296.5,1337.9 298.1,1337.2 299.8,1338.5 301.5,1337.3 303.2,1338.7 304.9,1339.0 306.5,1338.0 308.2,1339.8 309.9,1337.8 311.6,1336.1 313.3,1337.8 314.9,1338.3 316.6,1338.2 318.3,1340.9 320.0,1339.4 321.7,1337.4 323.3,1338.8 325.0,1337.4 326.7,1339.6 328.4,1339.8 330.1,1337.9 331.7,1336.0 333.4,1338.1 335.1,1339.0 336.8,1340.9 338.5,1339.1 340.1,1339.6 341.8,1342.4 343.5,1340.4 345.2,1341.0 346.9,1341.4 348.5,1339.5 350.2,1338.1 351.9,1341.4 353.6,1340.0 355.3,1337.4 356.9,1339.3 358.6,1342.2 360.3,1339.4 362.0,1339.4 363.7,1339.8 365.3,1337.9 367.0,1337.1 368.7,1336.9 370.4,1336.2 372.1,1336.5 373.7,1335.4 375.4,1335.9 377.1,1334.7 378.8,1334.7 380.5,1337.7 382.1,1334.8 383.8,1336.0 385.5,1334.4 387.2,1337.4 388.9,1333.3 390.5,1333.8 392.2,1333.7 393.9,1330.8 395.6,1331.7 397.3,1330.4 398.9,1330.4 400.6,1330.6 402.3,1329.8 404.0,1331.0 405.7,1328.1 407.3,1328.6 409.0,1328.9 410.7,1327.5 412.4,1328.4 414.1,1325.2 415.7,1325.2 417.4,1323.3 418.8,1322.5 420.8,1322.7 422.5,1323.2 424.1,1326.8 425.8,1323.0 427.5,1322.6 429.2,1324.8 430.9,1322.1 432.5,1321.3 434.2,1319.4 435.9,1320.1 437.6,1320.1 439.3,1317.5 440.9,1317.1 442.6,1316.3 444.3,1315.8 446.0,1314.9 447.7,1313.4 449.3,1316.1 451.0,1312.6 452.7,1313.9 454.4,1315.5 456.1,1316.4 457.7,1314.8 459.4,1314.0 461.1,1313.7 462.8,1312.7 464.5,1313.3 466.1,1311.3 467.8,1310.4 469.5,1310.6 471.2,1310.9 472.9,1310.9 474.5,1312.9 476.2,1309.1 477.9,1306.9 479.6,1307.3 481.3,1304.6 482.9,1306.8 484.6,1307.4 486.3,1309.0 488.0,1306.7 489.7,1304.6 491.3,1307.1 493.0,1306.4 494.7,1308.3 497.4,1308.6 499.7,1305.8 501.4,1305.5 503.1,1302.7 504.8,1301.1 506.5,1298.5 508.1,1295.0 509.8,1293.1 511.5,1290.2 513.2,1290.2 514.9,1288.2 516.5,1284.4 519.0,1282.4 521.6,1285.6 523.3,1288.1 524.9,1291.9 526.6,1293.9 528.3,1295.4 530.0,1295.2 531.7,1296.5 533.3,1298.9 535.0,1301.5 536.7,1302.9 538.4,1306.6 540.1,1307.3 541.7,1307.8 543.0,1309.6 545.1,1307.9 546.8,1308.6 548.5,1304.5 550.1,1306.1 551.8,1304.7 553.5,1303.5 555.2,1302.6 556.9,1299.5 558.2,1296.0 560.2,1298.8 561.9,1300.4 563.3,1301.8 565.3,1302.1 566.9,1301.6 569.2,1301.8 570.3,1300.7 572.0,1298.7 573.7,1296.6 575.1,1295.1 577.0,1295.9 578.7,1296.0 580.4,1296.7 582.1,1296.8 583.7,1298.1 585.4,1295.5 587.1,1294.4 588.8,1295.2 590.5,1293.6 592.1,1289.7 593.8,1288.8 595.5,1287.8 597.2,1284.7 598.9,1284.0 600.5,1285.2 602.2,1282.5 603.9,1283.3 605.6,1283.7 607.3,1283.8 608.9,1281.5 610.6,1281.1 612.3,1284.5 614.0,1282.4 615.7,1283.6 617.3,1286.6 619.0,1285.1 621.5,1289.0 624.1,1284.0 625.7,1282.8 627.4,1280.1 629.1,1277.1 630.8,1279.6 632.5,1281.5 635.0,1283.3 637.5,1281.1 639.2,1279.8 640.9,1277.7 642.5,1278.7 644.2,1280.3 645.9,1278.9 647.6,1279.8 649.3,1281.3 650.9,1279.2 652.6,1277.9 654.3,1277.6 656.0,1273.9 657.7,1277.4 659.3,1282.6 661.0,1277.7 662.9,1278.2 664.4,1277.4 666.1,1274.7 667.7,1274.1 669.4,1273.1 671.1,1272.6 672.8,1273.2 674.5,1271.0 676.1,1269.3 677.8,1268.9 679.5,1270.0 681.2,1267.8 682.9,1267.5 684.5,1266.1 686.2,1267.6 687.9,1265.1 689.6,1265.2 691.3,1265.1 692.9,1264.6 695.0,1264.7 696.3,1263.3 698.0,1259.7 699.7,1259.6 701.3,1256.5 703.0,1257.4 704.7,1255.7 706.4,1255.6 708.1,1255.8 709.7,1256.8 711.4,1252.9 713.1,1254.2 714.8,1254.5 716.5,1255.1 718.1,1253.5 719.8,1252.7 721.5,1252.2 723.2,1250.3 724.9,1247.8 726.5,1246.9 728.2,1246.4 729.9,1246.2 731.6,1244.4 733.3,1244.6 734.9,1243.5 736.6,1240.8 738.3,1234.8 740.6,1236.0 743.3,1235.7 745.0,1233.7 746.7,1234.4 748.4,1235.6 750.1,1233.1 751.7,1230.4 753.4,1229.6 755.1,1229.0 756.8,1225.2 758.5,1223.6 760.1,1223.0 761.8,1223.5 763.5,1220.1 765.2,1220.0 766.9,1219.2 768.5,1217.6 770.2,1215.4 771.9,1214.8 773.6,1212.9 775.3,1212.0 776.9,1210.2 778.6,1207.9 780.3,1204.3 782.0,1204.1 783.7,1201.3 785.3,1200.3 787.0,1198.5 788.7,1200.2 790.4,1199.5 792.1,1196.4 793.7,1197.8 795.4,1195.4 797.1,1196.2 798.8,1198.7 800.5,1195.5 802.1,1195.6 803.8,1194.8 805.5,1194.0 807.2,1195.7 808.9,1197.9 810.5,1197.1 812.2,1197.0 813.9,1198.2 815.6,1199.0 817.3,1200.0 818.9,1199.6 820.6,1198.7 822.3,1199.5 824.0,1200.6 825.7,1202.0 827.3,1204.1 829.0,1202.9 830.7,1205.4 832.4,1206.3 834.1,1209.7 835.7,1210.6 837.4,1211.5 839.1,1213.1 840.8,1212.8 842.5,1214.9 844.1,1215.5 845.8,1216.6 847.5,1217.4 849.2,1219.5 850.9,1220.6 852.5,1219.9 854.2,1222.3 855.9,1224.6 857.6,1226.7 859.3,1227.1 860.9,1230.5 862.6,1229.1 864.3,1231.1 866.0,1228.2 867.7,1228.8 869.3,1229.9 871.0,1230.8 872.7,1232.2 874.4,1233.0 876.1,1233.7 877.7,1236.0 879.4,1235.0 881.1,1236.5 882.8,1238.2 884.5,1238.5 886.1,1241.2 888.5,1246.2 891.2,1242.2 892.9,1241.4 895.2,1238.4 897.9,1241.4 899.6,1244.8 901.3,1243.2 903.7,1244.4 906.3,1243.3 908.0,1242.6 910.1,1240.2 911.3,1242.8 913.0,1247.2 914.7,1245.0 916.4,1244.7 918.1,1246.4 919.7,1249.4 921.4,1247.3 923.1,1249.4 924.8,1248.7 926.5,1248.6 928.1,1246.8 929.8,1244.8 932.4,1238.4 934.9,1244.9 936.6,1249.1 938.2,1245.5 940.5,1241.6 941.6,1244.7 943.3,1252.4 945.9,1248.6 948.3,1247.8 950.0,1246.7 951.7,1249.1 953.3,1248.2 955.0,1245.8 956.7,1244.4 958.4,1244.8 960.1,1246.0 961.7,1244.9 963.4,1247.2 965.1,1244.1 966.8,1245.0 968.5,1241.8 970.1,1242.4 971.8,1241.0 973.5,1242.4 975.2,1240.7 976.9,1239.2 978.5,1237.4 980.2,1238.9 981.9,1237.3 983.0,1235.8 985.3,1237.9 986.9,1239.2 988.6,1237.8 990.3,1239.4 992.0,1240.9 993.7,1241.4 995.3,1242.6 997.0,1240.2 998.7,1238.9 1000.4,1238.2 1002.1,1238.3 1003.7,1237.6 1005.4,1238.5 1006.7,1239.8 1008.8,1235.1 1010.5,1232.1 1012.1,1230.6 1013.8,1228.2 1015.6,1224.6 1017.2,1227.7 1018.9,1233.8 1020.5,1229.2 1021.9,1234.0 1023.9,1227.3 1025.6,1224.9 1027.3,1223.4 1028.9,1221.6 1030.8,1219.2 1032.3,1223.2 1034.0,1226.7 1035.7,1229.8 1037.3,1232.9 1038.8,1237.1 1040.7,1235.2 1042.4,1233.6 1044.1,1235.2 1045.7,1236.5 1047.4,1235.7 1049.1,1236.3 1050.8,1235.0 1052.5,1235.5 1054.1,1232.8 1055.8,1233.3 1057.5,1232.3 1059.2,1233.9 1060.9,1234.1 1062.5,1233.5 1064.2,1235.9 1065.9,1234.9 1067.6,1235.0 1069.3,1233.9 1070.9,1234.7 1072.6,1233.1 1074.3,1234.9 1076.0,1236.9 1077.7,1234.9 1079.3,1234.0 1081.0,1235.6 1082.7,1233.4 1084.4,1235.9 1086.1,1234.7 1087.7,1232.7 1089.4,1234.4 1091.1,1232.8 1092.8,1235.0 1094.5,1233.2 1096.1,1230.8 1097.8,1233.1 1099.5,1236.3 1101.2,1233.4 1102.9,1233.9 1104.5,1230.9 1106.2,1233.1 1107.9,1233.8 1109.6,1233.2 1111.3,1236.8 1112.9,1233.6 1114.6,1234.6 1116.3,1232.8 1118.0,1232.1 1119.7,1234.8 1121.3,1232.5 1123.0,1231.5 1124.7,1230.8 1126.4,1227.7 1128.1,1230.5 1129.7,1235.4 1131.4,1230.6 1133.1,1229.8 1134.8,1230.9 1136.5,1231.5 1138.1,1230.2 1139.8,1229.4 1141.5,1230.4 1143.2,1231.0 1144.9,1228.2 1146.5,1228.3 1148.2,1231.9 1149.9,1229.6 1151.6,1232.2 1153.3,1228.7 1154.9,1227.9 1156.6,1228.6 1158.3,1230.0 1160.0,1228.6 1161.7,1227.8 1163.3,1225.6 1165.0,1228.5 1166.7,1228.8 1168.4,1227.3 1170.1,1230.0 1171.7,1227.2 1173.4,1227.2 1175.1,1224.6 1176.8,1226.4 1178.5,1225.9 1180.1,1226.7 1181.8,1224.3 1183.5,1226.8 1185.2,1228.9 1186.9,1227.1 1188.5,1226.8 1190.2,1227.3 1191.9,1229.5 1193.6,1227.3 1195.3,1227.3 1196.9,1227.6 1198.6,1226.7 1200.3,1227.2 1202.0,1224.9 1203.7,1225.7 1205.3,1227.0 1207.0,1226.5 1208.7,1227.0 1210.4,1224.5 1212.1,1225.2 1213.7,1225.3 1215.4,1224.8 1217.1,1224.5 1218.8,1221.6 1220.5,1223.5 1222.1,1227.1 1223.8,1223.0 1225.5,1222.6 1227.2,1220.2 1228.9,1222.1 1230.5,1221.9 1232.2,1220.7 1233.9,1219.5 1235.6,1220.6 1237.3,1222.5 1238.9,1219.7 1240.6,1218.7 1242.3,1221.2 1244.0,1219.3 1245.7,1216.3 1247.3,1218.3 1249.0,1215.1 1250.7,1218.0 1252.4,1222.5 1254.1,1217.8 1255.7,1218.3 1257.4,1216.2 1259.1,1218.4 1260.8,1217.1 1262.5,1218.9 1264.1,1217.4 1265.8,1218.5 1267.5,1217.0 1269.2,1216.8 1270.9,1213.2 1272.5,1216.1 1274.2,1215.3 1275.9,1215.1 1277.6,1211.9 1279.3,1214.2 1280.9,1214.6 1282.6,1211.7 1284.3,1213.8 1286.0,1214.8 1287.7,1214.2 1289.3,1211.1 1291.0,1214.8 1292.7,1216.8 1294.4,1214.7 1296.1,1214.3 1297.7,1213.7 1299.4,1214.3 1301.1,1216.1 1302.8,1213.9 1304.5,1215.1 1306.1,1214.5 1307.8,1212.2 1309.5,1211.1 1311.2,1213.7 1312.9,1207.7 1314.5,1212.3 1316.2,1219.1 1317.9,1213.0 1319.6,1213.3 1321.3,1216.9 1322.9,1213.1 1324.6,1214.5 1326.3,1214.5 1328.0,1212.1 1329.7,1210.6 1331.3,1212.0 1333.0,1212.2 1334.7,1211.7 1336.4,1212.3 1338.1,1213.9 1339.7,1211.0 1341.4,1212.0 1343.1,1215.4 1344.8,1211.1 1346.5,1212.6 1348.1,1211.2 1349.8,1211.3 1351.5,1211.5 1353.2,1209.2 1354.9,1210.7 1356.5,1212.1 1358.2,1209.2 1359.9,1210.3 1361.6,1207.8 1363.3,1210.1 1364.9,1213.2 1366.6,1210.0 1368.3,1210.1 1370.0,1209.8 1371.7,1204.4 1373.3,1209.1 1375.0,1215.1 1376.7,1209.3 1378.4,1209.6 1380.1,1212.5 1381.7,1209.1 1383.4,1209.0 1385.1,1209.3 1386.8,1208.2 1388.5,1205.2 1390.1,1207.8 1391.8,1207.7 1393.5,1212.0 1395.2,1208.2 1396.9,1208.0 1398.5,1206.1 1400.2,1206.9 1401.9,1204.8 1403.6,1206.5 1405.3,1209.4 1406.9,1206.6 1408.6,1207.7 1410.3,1205.6 1412.0,1208.1 1413.7,1206.2 1415.3,1207.2 1417.0,1205.4 1418.7,1205.1 1420.4,1204.6 1422.1,1206.2 1423.7,1205.6 1425.4,1202.1 1427.1,1205.0 1428.8,1205.0 1430.5,1203.5 1432.1,1204.3 1433.8,1204.4 1435.5,1203.7 1437.2,1202.4 1438.9,1205.2 1440.5,1204.1 1442.2,1204.0 1443.9,1202.9 1445.6,1203.4 1447.3,1200.3 1448.9,1202.9 1450.6,1207.1 1452.3,1202.8 1454.0,1201.8 1455.7,1201.5 1457.3,1203.6 1459.0,1200.7 1460.7,1202.3 1462.4,1201.9 1464.1,1202.7 1465.7,1201.4 1467.4,1200.7 1469.1,1201.8 1470.8,1201.2 1472.5,1197.7 1474.1,1201.4 1475.8,1204.9 1477.5,1200.8 1479.2,1202.6 1480.9,1201.1 1482.5,1202.4 1484.2,1201.3 1485.9,1198.8 1487.6,1200.6 1489.3,1199.2 1490.9,1201.1 1492.6,1194.3 1494.3,1200.8 1496.0,1200.8 1497.7,1206.2 1499.3,1200.4 1501.0,1200.6 1502.7,1202.1 1504.4,1200.4 1506.1,1201.0 1507.7,1198.2 1509.4,1200.7 1511.1,1199.8 1512.8,1200.3 1514.5,1199.4 1516.1,1201.0 1517.8,1198.8 1519.5,1200.4 1521.2,1203.7 1522.9,1200.3 1524.5,1203.8 1526.2,1200.7 1527.9,1199.5 1529.6,1199.9 1531.3,1200.7 1532.9,1198.4 1534.6,1200.4 1536.3,1200.5 1538.0,1197.0 1539.7,1199.8 1541.3,1202.2 1543.0,1199.7 1544.7,1199.5 1546.4,1196.9 1548.1,1199.1 1549.7,1199.2 1551.4,1199.1 1553.1,1200.4 1554.8,1197.4 1556.5,1199.7 1558.1,1198.6 1559.8,1198.3 1561.5,1193.9 1563.2,1198.2 1564.9,1197.4 1566.5,1195.8 1568.2,1198.6 1569.9,1196.9 1571.6,1198.4 1573.3,1197.8 1574.9,1195.1 1576.6,1197.7 1578.3,1201.7 1580.0,1197.5 1581.7,1196.8 1583.3,1194.7 1585.0,1199.0 1586.7,1197.5 1588.4,1197.1 1590.1,1196.7 1591.7,1197.4 1593.4,1195.9 1595.1,1197.1 1596.8,1197.3 1598.5,1195.7 1600.1,1196.0 1601.8,1194.0 1603.5,1195.4 1605.2,1196.3 1606.9,1195.7 1608.5,1196.1 1610.2,1197.8 1611.9,1195.4 1613.6,1195.9 1615.3,1195.5 1616.9,1199.0 1618.6,1195.6 1620.3,1194.4 1622.0,1197.1 1623.7,1196.1 1625.3,1196.6 1627.0,1195.9 1628.7,1195.3 1630.4,1196.1 1632.1,1193.7 1633.7,1196.1 1635.4,1195.0 1637.1,1199.2 1638.8,1194.9 1640.5,1192.8 1642.1,1194.6 1643.8,1196.2 1645.5,1196.0 1647.2,1194.3 1648.9,1189.7 1650.5,1194.3 1652.2,1194.1 1653.9,1197.6 1655.6,1194.4 1657.3,1194.8 1658.9,1194.7 1660.6,1193.8 1662.3,1193.7 1664.0,1196.2 1665.7,1194.3 1667.3,1194.5 1669.0,1194.1 1670.7,1193.1 1672.4,1196.2 1674.1,1192.9 1675.7,1191.5 1677.4,1193.2 1679.1,1194.2 1680.8,1193.2 1682.5,1193.8 1684.1,1191.7 1685.8,1194.0 1687.5,1193.8 1690.0,1194.0 1690.0,1193.1 1692.5,1193.0 1694.2,1196.6 1695.9,1192.9 1697.6,1193.2 1699.3,1193.1 1700.9,1190.4 1702.6,1192.7 1704.3,1192.8 1706.0,1190.8 1707.7,1192.7 1709.3,1196.0 1711.0,1192.9 1712.7,1192.7 1714.4,1194.4 1716.1,1191.6 1717.7,1191.3 1719.4,1191.5 1721.1,1192.4 1722.8,1197.3 1724.5,1192.7 1726.1,1193.2 1727.8,1192.4 1729.5,1192.7 1731.2,1189.4 1732.9,1192.9 1734.5,1195.6 1736.2,1192.8 1737.9,1191.6 1739.6,1193.0 1741.3,1188.3 1742.9,1193.2 1744.6,1193.1 1746.3,1192.3 1748.0,1194.8 1749.7,1191.9 1751.3,1191.2 1753.0,1192.5 1754.7,1193.1 1756.4,1191.1 1758.1,1193.1 1759.7,1197.1 1761.4,1193.4 1763.1,1193.6 1764.8,1195.8 1766.5,1193.5 1768.1,1192.1 1769.8,1193.8 1771.5,1190.5 1773.2,1193.2 1774.9,1194.0 1776.5,1193.4 1778.2,1193.3 1779.9,1193.6 1781.6,1190.5 1783.3,1193.2 1784.9,1196.0 1786.6,1193.2 1788.3,1193.6 1790.0,1192.1 1791.7,1193.4 1793.3,1190.8 1795.0,1193.5 1796.7,1195.8 1798.4,1192.8 1800.1,1190.2 1801.7,1193.3 1803.4,1193.4 1805.1,1196.2 1806.8,1193.4 1808.5,1192.5 1810.1,1193.4 1811.8,1197.0 1813.5,1194.1 1815.2,1195.8"/>
</g>
</g>
<g shape-rendering="crispEdges">
<rect x="154" y="131" width="185" height="11" fill="#000000"/>
<rect x="154" y="227" width="185" height="11" fill="#ff0000"/>
<rect x="154" y="323" width="185" height="11" fill="#00ff00"/>
<rect x="154" y="419" width="185" height="11" fill="#0000ff"/>
</g>
<g font-family="'Liberation Sans', Arial, sans-serif" font-weight="bold" fill="#000">
<text x="350.0" y="159" font-size="79" text-anchor="start" letter-spacing="-6.89">As-depo.</text>
<text x="352.5" y="256" font-size="79" text-anchor="start" letter-spacing="-7.36">100<tspan font-size="46" dy="-37">o</tspan><tspan dy="37">C</tspan></text>
<text x="352.2999999999999" y="352" font-size="79" text-anchor="start" letter-spacing="-7.31">300<tspan font-size="46" dy="-37">o</tspan><tspan dy="37">C</tspan></text>
<text x="351.2999999999999" y="448" font-size="79" text-anchor="start" letter-spacing="-7.06">400<tspan font-size="46" dy="-37">o</tspan><tspan dy="37">C</tspan></text>
<text x="89.00000000000003" y="1519.5" font-size="64" text-anchor="start" letter-spacing="-6.78">500</text>
<text x="635.0" y="1519.5" font-size="64" text-anchor="start" letter-spacing="-6.28">1000</text>
<text x="1196.0" y="1519.5" font-size="64" text-anchor="start" letter-spacing="-6.75">1500</text>
<text x="1757.0" y="1519.5" font-size="64" text-anchor="start" letter-spacing="-6.31">2000</text>
<text x="668.0" y="1642" font-size="79" text-anchor="start" letter-spacing="-7.47" word-spacing="5">Wavenumber (cm<tspan font-size="46" dy="-36" letter-spacing="-3">-1</tspan><tspan dy="36">)</tspan></text>
<text x="0" y="0" font-size="79" text-anchor="start" letter-spacing="-5.37" transform="translate(73.7,998.0) rotate(-90)">Iintensity (a.u.)</text>
</g>
</svg></body></html>
